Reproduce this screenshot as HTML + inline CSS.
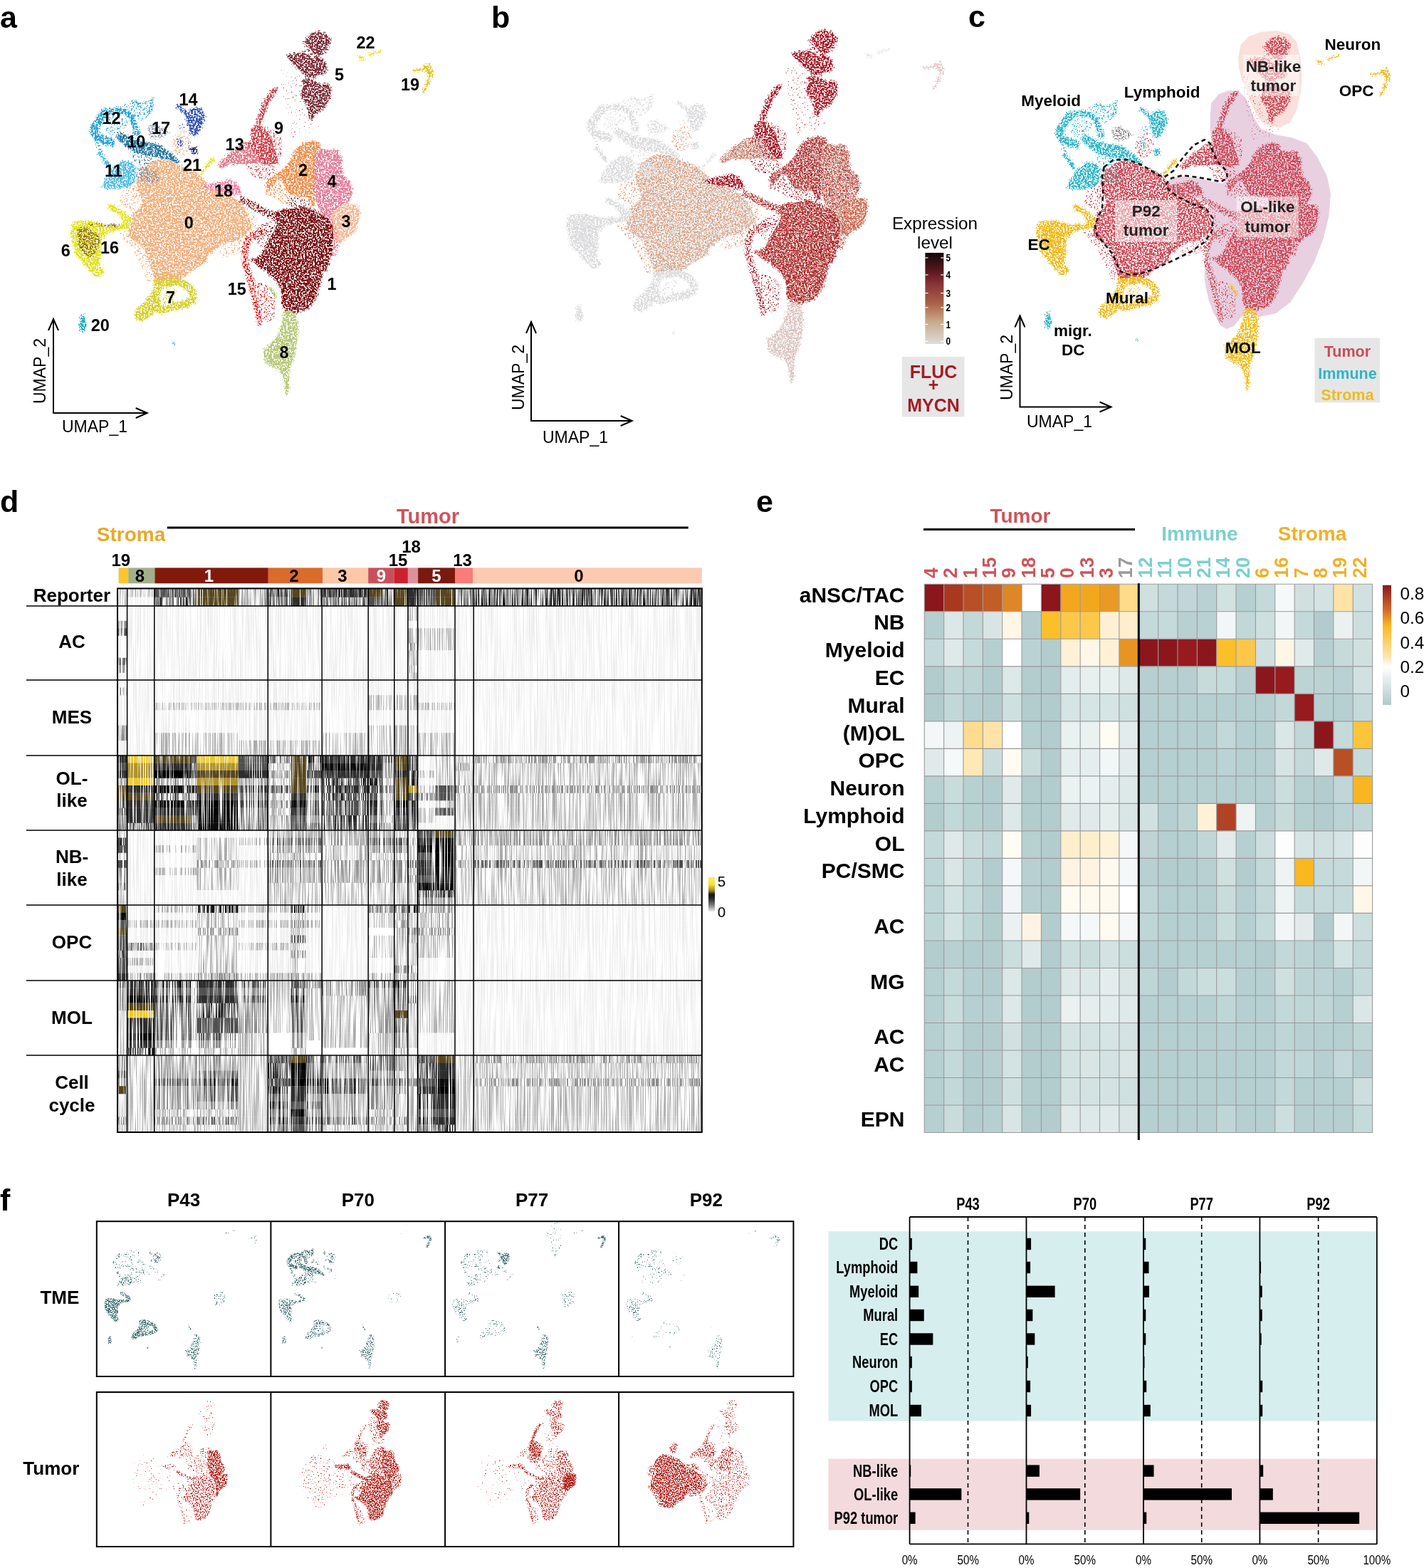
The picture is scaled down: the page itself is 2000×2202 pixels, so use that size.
<!DOCTYPE html><html><head><meta charset="utf-8"><style>html,body{margin:0;padding:0;background:#fff}svg{display:block}</style></head><body><svg width="2000" height="2202" viewBox="0 0 2000 2202" font-family="Liberation Sans, Arial, sans-serif"><text x="0.0" y="39.0" font-size="43" font-weight="bold" fill="#000" text-anchor="start" >a</text><text x="690.0" y="39.0" font-size="43" font-weight="bold" fill="#000" text-anchor="start" >b</text><text x="1360.0" y="38.0" font-size="43" font-weight="bold" fill="#000" text-anchor="start" >c</text><text x="0.0" y="719.0" font-size="43" font-weight="bold" fill="#000" text-anchor="start" >d</text><text x="1062.0" y="719.0" font-size="43" font-weight="bold" fill="#000" text-anchor="start" >e</text><text x="0.0" y="1700.0" font-size="43" font-weight="bold" fill="#000" text-anchor="start" >f</text><rect x="1298.30" y="820.30" width="27.36" height="38.51" fill="#8b171c" /><rect x="1325.66" y="820.30" width="27.36" height="38.51" fill="#a9381f" /><rect x="1353.02" y="820.30" width="27.36" height="38.51" fill="#b84f25" /><rect x="1380.38" y="820.30" width="27.36" height="38.51" fill="#c25d27" /><rect x="1407.74" y="820.30" width="27.36" height="38.51" fill="#de8726" /><rect x="1435.10" y="820.30" width="27.36" height="38.51" fill="#ffffff" /><rect x="1462.46" y="820.30" width="27.36" height="38.51" fill="#8b171c" /><rect x="1489.82" y="820.30" width="27.36" height="38.51" fill="#f3a71f" /><rect x="1517.18" y="820.30" width="27.36" height="38.51" fill="#f3a71f" /><rect x="1544.54" y="820.30" width="27.36" height="38.51" fill="#e89a24" /><rect x="1571.90" y="820.30" width="27.36" height="38.51" fill="#fedb8a" /><rect x="1599.26" y="820.30" width="27.36" height="38.51" fill="#cfe0df" /><rect x="1626.62" y="820.30" width="27.36" height="38.51" fill="#c3d9da" /><rect x="1653.98" y="820.30" width="27.36" height="38.51" fill="#c0d6d7" /><rect x="1681.34" y="820.30" width="27.36" height="38.51" fill="#b9d1d2" /><rect x="1708.70" y="820.30" width="27.36" height="38.51" fill="#d1e2e1" /><rect x="1736.06" y="820.30" width="27.36" height="38.51" fill="#b6cfd0" /><rect x="1763.42" y="820.30" width="27.36" height="38.51" fill="#c3d9da" /><rect x="1790.78" y="820.30" width="27.36" height="38.51" fill="#f6f9fa" /><rect x="1818.14" y="820.30" width="27.36" height="38.51" fill="#cfe0df" /><rect x="1845.50" y="820.30" width="27.36" height="38.51" fill="#d3e3e3" /><rect x="1872.86" y="820.30" width="27.36" height="38.51" fill="#fee3a6" /><rect x="1900.22" y="820.30" width="27.36" height="38.51" fill="#d1e1e1" /><rect x="1298.30" y="858.81" width="27.36" height="38.51" fill="#b5cecf" /><rect x="1325.66" y="858.81" width="27.36" height="38.51" fill="#dce7e7" /><rect x="1353.02" y="858.81" width="27.36" height="38.51" fill="#c2d8d9" /><rect x="1380.38" y="858.81" width="27.36" height="38.51" fill="#d9e4e4" /><rect x="1407.74" y="858.81" width="27.36" height="38.51" fill="#fff6e6" /><rect x="1435.10" y="858.81" width="27.36" height="38.51" fill="#b5cdce" /><rect x="1462.46" y="858.81" width="27.36" height="38.51" fill="#fbbf2a" /><rect x="1489.82" y="858.81" width="27.36" height="38.51" fill="#fcc84a" /><rect x="1517.18" y="858.81" width="27.36" height="38.51" fill="#fcc84a" /><rect x="1544.54" y="858.81" width="27.36" height="38.51" fill="#fff0d4" /><rect x="1571.90" y="858.81" width="27.36" height="38.51" fill="#ffeecb" /><rect x="1599.26" y="858.81" width="27.36" height="38.51" fill="#c4dada" /><rect x="1626.62" y="858.81" width="27.36" height="38.51" fill="#c5dada" /><rect x="1653.98" y="858.81" width="27.36" height="38.51" fill="#b8d0d1" /><rect x="1681.34" y="858.81" width="27.36" height="38.51" fill="#b9d1d2" /><rect x="1708.70" y="858.81" width="27.36" height="38.51" fill="#f2f6f7" /><rect x="1736.06" y="858.81" width="27.36" height="38.51" fill="#c1d7d8" /><rect x="1763.42" y="858.81" width="27.36" height="38.51" fill="#cddfdf" /><rect x="1790.78" y="858.81" width="27.36" height="38.51" fill="#f2f6f7" /><rect x="1818.14" y="858.81" width="27.36" height="38.51" fill="#c4dada" /><rect x="1845.50" y="858.81" width="27.36" height="38.51" fill="#b2cbcc" /><rect x="1872.86" y="858.81" width="27.36" height="38.51" fill="#ebf1f1" /><rect x="1900.22" y="858.81" width="27.36" height="38.51" fill="#ccdede" /><rect x="1298.30" y="897.32" width="27.36" height="38.51" fill="#c3d9da" /><rect x="1325.66" y="897.32" width="27.36" height="38.51" fill="#dfe9e9" /><rect x="1353.02" y="897.32" width="27.36" height="38.51" fill="#c5dbdb" /><rect x="1380.38" y="897.32" width="27.36" height="38.51" fill="#b6cfd0" /><rect x="1407.74" y="897.32" width="27.36" height="38.51" fill="#ffffff" /><rect x="1435.10" y="897.32" width="27.36" height="38.51" fill="#bad2d3" /><rect x="1462.46" y="897.32" width="27.36" height="38.51" fill="#b3cccd" /><rect x="1489.82" y="897.32" width="27.36" height="38.51" fill="#fff1d8" /><rect x="1517.18" y="897.32" width="27.36" height="38.51" fill="#fff7e8" /><rect x="1544.54" y="897.32" width="27.36" height="38.51" fill="#fff0d6" /><rect x="1571.90" y="897.32" width="27.36" height="38.51" fill="#e89424" /><rect x="1599.26" y="897.32" width="27.36" height="38.51" fill="#8b171c" /><rect x="1626.62" y="897.32" width="27.36" height="38.51" fill="#8b171c" /><rect x="1653.98" y="897.32" width="27.36" height="38.51" fill="#971a1f" /><rect x="1681.34" y="897.32" width="27.36" height="38.51" fill="#8b171c" /><rect x="1708.70" y="897.32" width="27.36" height="38.51" fill="#fbbf2a" /><rect x="1736.06" y="897.32" width="27.36" height="38.51" fill="#fcc648" /><rect x="1763.42" y="897.32" width="27.36" height="38.51" fill="#cfe0df" /><rect x="1790.78" y="897.32" width="27.36" height="38.51" fill="#fff6e6" /><rect x="1818.14" y="897.32" width="27.36" height="38.51" fill="#e0eaea" /><rect x="1845.50" y="897.32" width="27.36" height="38.51" fill="#b6cfd0" /><rect x="1872.86" y="897.32" width="27.36" height="38.51" fill="#c6dada" /><rect x="1900.22" y="897.32" width="27.36" height="38.51" fill="#cfe0df" /><rect x="1298.30" y="935.83" width="27.36" height="38.51" fill="#b2cbcc" /><rect x="1325.66" y="935.83" width="27.36" height="38.51" fill="#c2d7d8" /><rect x="1353.02" y="935.83" width="27.36" height="38.51" fill="#bdd4d5" /><rect x="1380.38" y="935.83" width="27.36" height="38.51" fill="#b2cbcc" /><rect x="1407.74" y="935.83" width="27.36" height="38.51" fill="#dde8e8" /><rect x="1435.10" y="935.83" width="27.36" height="38.51" fill="#b3cccd" /><rect x="1462.46" y="935.83" width="27.36" height="38.51" fill="#b2cbcc" /><rect x="1489.82" y="935.83" width="27.36" height="38.51" fill="#e4eded" /><rect x="1517.18" y="935.83" width="27.36" height="38.51" fill="#e7efef" /><rect x="1544.54" y="935.83" width="27.36" height="38.51" fill="#e8efef" /><rect x="1571.90" y="935.83" width="27.36" height="38.51" fill="#dde8e8" /><rect x="1599.26" y="935.83" width="27.36" height="38.51" fill="#b7cfd0" /><rect x="1626.62" y="935.83" width="27.36" height="38.51" fill="#b7cfd0" /><rect x="1653.98" y="935.83" width="27.36" height="38.51" fill="#b7cfd0" /><rect x="1681.34" y="935.83" width="27.36" height="38.51" fill="#c7dbdb" /><rect x="1708.70" y="935.83" width="27.36" height="38.51" fill="#c5dada" /><rect x="1736.06" y="935.83" width="27.36" height="38.51" fill="#b7cfd0" /><rect x="1763.42" y="935.83" width="27.36" height="38.51" fill="#8b171c" /><rect x="1790.78" y="935.83" width="27.36" height="38.51" fill="#971a1f" /><rect x="1818.14" y="935.83" width="27.36" height="38.51" fill="#bdd4d5" /><rect x="1845.50" y="935.83" width="27.36" height="38.51" fill="#bbd2d3" /><rect x="1872.86" y="935.83" width="27.36" height="38.51" fill="#b9d1d2" /><rect x="1900.22" y="935.83" width="27.36" height="38.51" fill="#d1e1e1" /><rect x="1298.30" y="974.34" width="27.36" height="38.51" fill="#b2cbcc" /><rect x="1325.66" y="974.34" width="27.36" height="38.51" fill="#c2d7d8" /><rect x="1353.02" y="974.34" width="27.36" height="38.51" fill="#b6cfd0" /><rect x="1380.38" y="974.34" width="27.36" height="38.51" fill="#b2cbcc" /><rect x="1407.74" y="974.34" width="27.36" height="38.51" fill="#cfe0e0" /><rect x="1435.10" y="974.34" width="27.36" height="38.51" fill="#b3cccd" /><rect x="1462.46" y="974.34" width="27.36" height="38.51" fill="#b2cbcc" /><rect x="1489.82" y="974.34" width="27.36" height="38.51" fill="#d5e4e4" /><rect x="1517.18" y="974.34" width="27.36" height="38.51" fill="#d5e4e4" /><rect x="1544.54" y="974.34" width="27.36" height="38.51" fill="#d5e4e4" /><rect x="1571.90" y="974.34" width="27.36" height="38.51" fill="#cfe0e0" /><rect x="1599.26" y="974.34" width="27.36" height="38.51" fill="#b6cfd0" /><rect x="1626.62" y="974.34" width="27.36" height="38.51" fill="#b6cfd0" /><rect x="1653.98" y="974.34" width="27.36" height="38.51" fill="#b6cfd0" /><rect x="1681.34" y="974.34" width="27.36" height="38.51" fill="#b6cfd0" /><rect x="1708.70" y="974.34" width="27.36" height="38.51" fill="#b6cfd0" /><rect x="1736.06" y="974.34" width="27.36" height="38.51" fill="#b6cfd0" /><rect x="1763.42" y="974.34" width="27.36" height="38.51" fill="#b6cfd0" /><rect x="1790.78" y="974.34" width="27.36" height="38.51" fill="#c3d8d9" /><rect x="1818.14" y="974.34" width="27.36" height="38.51" fill="#971a1f" /><rect x="1845.50" y="974.34" width="27.36" height="38.51" fill="#b6cfd0" /><rect x="1872.86" y="974.34" width="27.36" height="38.51" fill="#b6cfd0" /><rect x="1900.22" y="974.34" width="27.36" height="38.51" fill="#c5dada" /><rect x="1298.30" y="1012.85" width="27.36" height="38.51" fill="#f3f7f7" /><rect x="1325.66" y="1012.85" width="27.36" height="38.51" fill="#edf3f3" /><rect x="1353.02" y="1012.85" width="27.36" height="38.51" fill="#fddc8d" /><rect x="1380.38" y="1012.85" width="27.36" height="38.51" fill="#fde3a8" /><rect x="1407.74" y="1012.85" width="27.36" height="38.51" fill="#ffffff" /><rect x="1435.10" y="1012.85" width="27.36" height="38.51" fill="#b6cfd0" /><rect x="1462.46" y="1012.85" width="27.36" height="38.51" fill="#b3cccd" /><rect x="1489.82" y="1012.85" width="27.36" height="38.51" fill="#e9f1f1" /><rect x="1517.18" y="1012.85" width="27.36" height="38.51" fill="#eaf1f1" /><rect x="1544.54" y="1012.85" width="27.36" height="38.51" fill="#fffcf3" /><rect x="1571.90" y="1012.85" width="27.36" height="38.51" fill="#e3ecec" /><rect x="1599.26" y="1012.85" width="27.36" height="38.51" fill="#b6cfd0" /><rect x="1626.62" y="1012.85" width="27.36" height="38.51" fill="#b6cfd0" /><rect x="1653.98" y="1012.85" width="27.36" height="38.51" fill="#b6cfd0" /><rect x="1681.34" y="1012.85" width="27.36" height="38.51" fill="#b6cfd0" /><rect x="1708.70" y="1012.85" width="27.36" height="38.51" fill="#c2d8d9" /><rect x="1736.06" y="1012.85" width="27.36" height="38.51" fill="#b6cfd0" /><rect x="1763.42" y="1012.85" width="27.36" height="38.51" fill="#b6cfd0" /><rect x="1790.78" y="1012.85" width="27.36" height="38.51" fill="#dbe6e6" /><rect x="1818.14" y="1012.85" width="27.36" height="38.51" fill="#c0d6d7" /><rect x="1845.50" y="1012.85" width="27.36" height="38.51" fill="#8b171c" /><rect x="1872.86" y="1012.85" width="27.36" height="38.51" fill="#c5dada" /><rect x="1900.22" y="1012.85" width="27.36" height="38.51" fill="#fbc53a" /><rect x="1298.30" y="1051.36" width="27.36" height="38.51" fill="#e0eaea" /><rect x="1325.66" y="1051.36" width="27.36" height="38.51" fill="#f6f9f9" /><rect x="1353.02" y="1051.36" width="27.36" height="38.51" fill="#fee9b6" /><rect x="1380.38" y="1051.36" width="27.36" height="38.51" fill="#cadcdc" /><rect x="1407.74" y="1051.36" width="27.36" height="38.51" fill="#fffbf2" /><rect x="1435.10" y="1051.36" width="27.36" height="38.51" fill="#c8dcdc" /><rect x="1462.46" y="1051.36" width="27.36" height="38.51" fill="#b3cccd" /><rect x="1489.82" y="1051.36" width="27.36" height="38.51" fill="#e5eeee" /><rect x="1517.18" y="1051.36" width="27.36" height="38.51" fill="#e5eeee" /><rect x="1544.54" y="1051.36" width="27.36" height="38.51" fill="#f1f6f6" /><rect x="1571.90" y="1051.36" width="27.36" height="38.51" fill="#e3ecec" /><rect x="1599.26" y="1051.36" width="27.36" height="38.51" fill="#b6cfd0" /><rect x="1626.62" y="1051.36" width="27.36" height="38.51" fill="#b6cfd0" /><rect x="1653.98" y="1051.36" width="27.36" height="38.51" fill="#b6cfd0" /><rect x="1681.34" y="1051.36" width="27.36" height="38.51" fill="#b6cfd0" /><rect x="1708.70" y="1051.36" width="27.36" height="38.51" fill="#bbd3d4" /><rect x="1736.06" y="1051.36" width="27.36" height="38.51" fill="#b6cfd0" /><rect x="1763.42" y="1051.36" width="27.36" height="38.51" fill="#b6cfd0" /><rect x="1790.78" y="1051.36" width="27.36" height="38.51" fill="#d6e4e4" /><rect x="1818.14" y="1051.36" width="27.36" height="38.51" fill="#c2d8d9" /><rect x="1845.50" y="1051.36" width="27.36" height="38.51" fill="#dfe9e9" /><rect x="1872.86" y="1051.36" width="27.36" height="38.51" fill="#b94f25" /><rect x="1900.22" y="1051.36" width="27.36" height="38.51" fill="#c5dada" /><rect x="1298.30" y="1089.87" width="27.36" height="38.51" fill="#b7d0d0" /><rect x="1325.66" y="1089.87" width="27.36" height="38.51" fill="#c9dcdc" /><rect x="1353.02" y="1089.87" width="27.36" height="38.51" fill="#b7d0d0" /><rect x="1380.38" y="1089.87" width="27.36" height="38.51" fill="#b3cccd" /><rect x="1407.74" y="1089.87" width="27.36" height="38.51" fill="#e1eaea" /><rect x="1435.10" y="1089.87" width="27.36" height="38.51" fill="#b3cccd" /><rect x="1462.46" y="1089.87" width="27.36" height="38.51" fill="#b3cccd" /><rect x="1489.82" y="1089.87" width="27.36" height="38.51" fill="#eaf2f2" /><rect x="1517.18" y="1089.87" width="27.36" height="38.51" fill="#ebf2f2" /><rect x="1544.54" y="1089.87" width="27.36" height="38.51" fill="#e5eeee" /><rect x="1571.90" y="1089.87" width="27.36" height="38.51" fill="#dde8e8" /><rect x="1599.26" y="1089.87" width="27.36" height="38.51" fill="#b6cfd0" /><rect x="1626.62" y="1089.87" width="27.36" height="38.51" fill="#b6cfd0" /><rect x="1653.98" y="1089.87" width="27.36" height="38.51" fill="#b6cfd0" /><rect x="1681.34" y="1089.87" width="27.36" height="38.51" fill="#b6cfd0" /><rect x="1708.70" y="1089.87" width="27.36" height="38.51" fill="#b6cfd0" /><rect x="1736.06" y="1089.87" width="27.36" height="38.51" fill="#b6cfd0" /><rect x="1763.42" y="1089.87" width="27.36" height="38.51" fill="#b6cfd0" /><rect x="1790.78" y="1089.87" width="27.36" height="38.51" fill="#cadede" /><rect x="1818.14" y="1089.87" width="27.36" height="38.51" fill="#b6cfd0" /><rect x="1845.50" y="1089.87" width="27.36" height="38.51" fill="#b3cccd" /><rect x="1872.86" y="1089.87" width="27.36" height="38.51" fill="#c0d6d7" /><rect x="1900.22" y="1089.87" width="27.36" height="38.51" fill="#f9b620" /><rect x="1298.30" y="1128.38" width="27.36" height="38.51" fill="#b3cccd" /><rect x="1325.66" y="1128.38" width="27.36" height="38.51" fill="#c3d8d8" /><rect x="1353.02" y="1128.38" width="27.36" height="38.51" fill="#b7d0d0" /><rect x="1380.38" y="1128.38" width="27.36" height="38.51" fill="#b3cccd" /><rect x="1407.74" y="1128.38" width="27.36" height="38.51" fill="#dde8e8" /><rect x="1435.10" y="1128.38" width="27.36" height="38.51" fill="#b3cccd" /><rect x="1462.46" y="1128.38" width="27.36" height="38.51" fill="#b3cccd" /><rect x="1489.82" y="1128.38" width="27.36" height="38.51" fill="#e0eaea" /><rect x="1517.18" y="1128.38" width="27.36" height="38.51" fill="#e1eaea" /><rect x="1544.54" y="1128.38" width="27.36" height="38.51" fill="#e5eded" /><rect x="1571.90" y="1128.38" width="27.36" height="38.51" fill="#d9e5e5" /><rect x="1599.26" y="1128.38" width="27.36" height="38.51" fill="#d1e1e1" /><rect x="1626.62" y="1128.38" width="27.36" height="38.51" fill="#b6cfd0" /><rect x="1653.98" y="1128.38" width="27.36" height="38.51" fill="#bdd4d5" /><rect x="1681.34" y="1128.38" width="27.36" height="38.51" fill="#fff1d8" /><rect x="1708.70" y="1128.38" width="27.36" height="38.51" fill="#b04324" /><rect x="1736.06" y="1128.38" width="27.36" height="38.51" fill="#eef3f4" /><rect x="1763.42" y="1128.38" width="27.36" height="38.51" fill="#b6cfd0" /><rect x="1790.78" y="1128.38" width="27.36" height="38.51" fill="#c8dbdb" /><rect x="1818.14" y="1128.38" width="27.36" height="38.51" fill="#b6cfd0" /><rect x="1845.50" y="1128.38" width="27.36" height="38.51" fill="#b3cccd" /><rect x="1872.86" y="1128.38" width="27.36" height="38.51" fill="#bbd3d4" /><rect x="1900.22" y="1128.38" width="27.36" height="38.51" fill="#c0d6d7" /><rect x="1298.30" y="1166.89" width="27.36" height="38.51" fill="#c4dada" /><rect x="1325.66" y="1166.89" width="27.36" height="38.51" fill="#dfe9e9" /><rect x="1353.02" y="1166.89" width="27.36" height="38.51" fill="#c9dddd" /><rect x="1380.38" y="1166.89" width="27.36" height="38.51" fill="#c1d7d8" /><rect x="1407.74" y="1166.89" width="27.36" height="38.51" fill="#fffcf4" /><rect x="1435.10" y="1166.89" width="27.36" height="38.51" fill="#b7d0d0" /><rect x="1462.46" y="1166.89" width="27.36" height="38.51" fill="#b3cccd" /><rect x="1489.82" y="1166.89" width="27.36" height="38.51" fill="#ffeecb" /><rect x="1517.18" y="1166.89" width="27.36" height="38.51" fill="#ffeecb" /><rect x="1544.54" y="1166.89" width="27.36" height="38.51" fill="#fff2d8" /><rect x="1571.90" y="1166.89" width="27.36" height="38.51" fill="#f4f8f8" /><rect x="1599.26" y="1166.89" width="27.36" height="38.51" fill="#bed4d5" /><rect x="1626.62" y="1166.89" width="27.36" height="38.51" fill="#b6cfd0" /><rect x="1653.98" y="1166.89" width="27.36" height="38.51" fill="#b6cfd0" /><rect x="1681.34" y="1166.89" width="27.36" height="38.51" fill="#c0d6d7" /><rect x="1708.70" y="1166.89" width="27.36" height="38.51" fill="#e2ebeb" /><rect x="1736.06" y="1166.89" width="27.36" height="38.51" fill="#b6cfd0" /><rect x="1763.42" y="1166.89" width="27.36" height="38.51" fill="#ccdede" /><rect x="1790.78" y="1166.89" width="27.36" height="38.51" fill="#fdfdfd" /><rect x="1818.14" y="1166.89" width="27.36" height="38.51" fill="#d5e4e4" /><rect x="1845.50" y="1166.89" width="27.36" height="38.51" fill="#d1e1e1" /><rect x="1872.86" y="1166.89" width="27.36" height="38.51" fill="#d5e4e4" /><rect x="1900.22" y="1166.89" width="27.36" height="38.51" fill="#fdfdfd" /><rect x="1298.30" y="1205.40" width="27.36" height="38.51" fill="#bfd6d7" /><rect x="1325.66" y="1205.40" width="27.36" height="38.51" fill="#dae6e6" /><rect x="1353.02" y="1205.40" width="27.36" height="38.51" fill="#c2d8d9" /><rect x="1380.38" y="1205.40" width="27.36" height="38.51" fill="#b3cccd" /><rect x="1407.74" y="1205.40" width="27.36" height="38.51" fill="#f5f8f9" /><rect x="1435.10" y="1205.40" width="27.36" height="38.51" fill="#b8d0d1" /><rect x="1462.46" y="1205.40" width="27.36" height="38.51" fill="#b3cccd" /><rect x="1489.82" y="1205.40" width="27.36" height="38.51" fill="#fff4e3" /><rect x="1517.18" y="1205.40" width="27.36" height="38.51" fill="#fff4e3" /><rect x="1544.54" y="1205.40" width="27.36" height="38.51" fill="#fffaf0" /><rect x="1571.90" y="1205.40" width="27.36" height="38.51" fill="#f5f8f9" /><rect x="1599.26" y="1205.40" width="27.36" height="38.51" fill="#b8d0d1" /><rect x="1626.62" y="1205.40" width="27.36" height="38.51" fill="#b3cccd" /><rect x="1653.98" y="1205.40" width="27.36" height="38.51" fill="#b3cccd" /><rect x="1681.34" y="1205.40" width="27.36" height="38.51" fill="#b8d0d1" /><rect x="1708.70" y="1205.40" width="27.36" height="38.51" fill="#cfe0df" /><rect x="1736.06" y="1205.40" width="27.36" height="38.51" fill="#b3cccd" /><rect x="1763.42" y="1205.40" width="27.36" height="38.51" fill="#c2d8d9" /><rect x="1790.78" y="1205.40" width="27.36" height="38.51" fill="#eef3f3" /><rect x="1818.14" y="1205.40" width="27.36" height="38.51" fill="#f9b720" /><rect x="1845.50" y="1205.40" width="27.36" height="38.51" fill="#c5dada" /><rect x="1872.86" y="1205.40" width="27.36" height="38.51" fill="#c5dada" /><rect x="1900.22" y="1205.40" width="27.36" height="38.51" fill="#f2f6f7" /><rect x="1298.30" y="1243.91" width="27.36" height="38.51" fill="#bfd6d7" /><rect x="1325.66" y="1243.91" width="27.36" height="38.51" fill="#d3e3e3" /><rect x="1353.02" y="1243.91" width="27.36" height="38.51" fill="#c2d8d9" /><rect x="1380.38" y="1243.91" width="27.36" height="38.51" fill="#b3cccd" /><rect x="1407.74" y="1243.91" width="27.36" height="38.51" fill="#f1f5f6" /><rect x="1435.10" y="1243.91" width="27.36" height="38.51" fill="#b8d0d1" /><rect x="1462.46" y="1243.91" width="27.36" height="38.51" fill="#b3cccd" /><rect x="1489.82" y="1243.91" width="27.36" height="38.51" fill="#fffbf0" /><rect x="1517.18" y="1243.91" width="27.36" height="38.51" fill="#fffaef" /><rect x="1544.54" y="1243.91" width="27.36" height="38.51" fill="#fffaef" /><rect x="1571.90" y="1243.91" width="27.36" height="38.51" fill="#ffffff" /><rect x="1599.26" y="1243.91" width="27.36" height="38.51" fill="#bfd6d7" /><rect x="1626.62" y="1243.91" width="27.36" height="38.51" fill="#b6cfd0" /><rect x="1653.98" y="1243.91" width="27.36" height="38.51" fill="#b6cfd0" /><rect x="1681.34" y="1243.91" width="27.36" height="38.51" fill="#b6cfd0" /><rect x="1708.70" y="1243.91" width="27.36" height="38.51" fill="#c9dcdc" /><rect x="1736.06" y="1243.91" width="27.36" height="38.51" fill="#b6cfd0" /><rect x="1763.42" y="1243.91" width="27.36" height="38.51" fill="#c2d8d9" /><rect x="1790.78" y="1243.91" width="27.36" height="38.51" fill="#eef3f3" /><rect x="1818.14" y="1243.91" width="27.36" height="38.51" fill="#c5dada" /><rect x="1845.50" y="1243.91" width="27.36" height="38.51" fill="#c5dada" /><rect x="1872.86" y="1243.91" width="27.36" height="38.51" fill="#c5dada" /><rect x="1900.22" y="1243.91" width="27.36" height="38.51" fill="#fff7e8" /><rect x="1298.30" y="1282.42" width="27.36" height="38.51" fill="#bfd6d7" /><rect x="1325.66" y="1282.42" width="27.36" height="38.51" fill="#d3e3e3" /><rect x="1353.02" y="1282.42" width="27.36" height="38.51" fill="#bfd6d7" /><rect x="1380.38" y="1282.42" width="27.36" height="38.51" fill="#b3cccd" /><rect x="1407.74" y="1282.42" width="27.36" height="38.51" fill="#ebf1f1" /><rect x="1435.10" y="1282.42" width="27.36" height="38.51" fill="#fff4e3" /><rect x="1462.46" y="1282.42" width="27.36" height="38.51" fill="#b3cccd" /><rect x="1489.82" y="1282.42" width="27.36" height="38.51" fill="#f5f8f9" /><rect x="1517.18" y="1282.42" width="27.36" height="38.51" fill="#f5f8f9" /><rect x="1544.54" y="1282.42" width="27.36" height="38.51" fill="#fffbf0" /><rect x="1571.90" y="1282.42" width="27.36" height="38.51" fill="#f5f8f9" /><rect x="1599.26" y="1282.42" width="27.36" height="38.51" fill="#bfd6d7" /><rect x="1626.62" y="1282.42" width="27.36" height="38.51" fill="#b6cfd0" /><rect x="1653.98" y="1282.42" width="27.36" height="38.51" fill="#b6cfd0" /><rect x="1681.34" y="1282.42" width="27.36" height="38.51" fill="#b6cfd0" /><rect x="1708.70" y="1282.42" width="27.36" height="38.51" fill="#c9dcdc" /><rect x="1736.06" y="1282.42" width="27.36" height="38.51" fill="#b6cfd0" /><rect x="1763.42" y="1282.42" width="27.36" height="38.51" fill="#c5dada" /><rect x="1790.78" y="1282.42" width="27.36" height="38.51" fill="#f2f6f7" /><rect x="1818.14" y="1282.42" width="27.36" height="38.51" fill="#e2eaeb" /><rect x="1845.50" y="1282.42" width="27.36" height="38.51" fill="#b3cccd" /><rect x="1872.86" y="1282.42" width="27.36" height="38.51" fill="#f2f6f7" /><rect x="1900.22" y="1282.42" width="27.36" height="38.51" fill="#ccdede" /><rect x="1298.30" y="1320.93" width="27.36" height="38.51" fill="#b3cccd" /><rect x="1325.66" y="1320.93" width="27.36" height="38.51" fill="#b8d0d1" /><rect x="1353.02" y="1320.93" width="27.36" height="38.51" fill="#b3cccd" /><rect x="1380.38" y="1320.93" width="27.36" height="38.51" fill="#b3cccd" /><rect x="1407.74" y="1320.93" width="27.36" height="38.51" fill="#cadede" /><rect x="1435.10" y="1320.93" width="27.36" height="38.51" fill="#dfe9e9" /><rect x="1462.46" y="1320.93" width="27.36" height="38.51" fill="#b3cccd" /><rect x="1489.82" y="1320.93" width="27.36" height="38.51" fill="#ccdfdf" /><rect x="1517.18" y="1320.93" width="27.36" height="38.51" fill="#c9dcdc" /><rect x="1544.54" y="1320.93" width="27.36" height="38.51" fill="#d3e3e3" /><rect x="1571.90" y="1320.93" width="27.36" height="38.51" fill="#cadede" /><rect x="1599.26" y="1320.93" width="27.36" height="38.51" fill="#b6cfd0" /><rect x="1626.62" y="1320.93" width="27.36" height="38.51" fill="#b6cfd0" /><rect x="1653.98" y="1320.93" width="27.36" height="38.51" fill="#b6cfd0" /><rect x="1681.34" y="1320.93" width="27.36" height="38.51" fill="#b6cfd0" /><rect x="1708.70" y="1320.93" width="27.36" height="38.51" fill="#b6cfd0" /><rect x="1736.06" y="1320.93" width="27.36" height="38.51" fill="#b6cfd0" /><rect x="1763.42" y="1320.93" width="27.36" height="38.51" fill="#b3cccd" /><rect x="1790.78" y="1320.93" width="27.36" height="38.51" fill="#c2d8d9" /><rect x="1818.14" y="1320.93" width="27.36" height="38.51" fill="#bdd4d5" /><rect x="1845.50" y="1320.93" width="27.36" height="38.51" fill="#b6cfd0" /><rect x="1872.86" y="1320.93" width="27.36" height="38.51" fill="#d3e3e3" /><rect x="1900.22" y="1320.93" width="27.36" height="38.51" fill="#c2d8d9" /><rect x="1298.30" y="1359.44" width="27.36" height="38.51" fill="#b6cfd0" /><rect x="1325.66" y="1359.44" width="27.36" height="38.51" fill="#c4d9da" /><rect x="1353.02" y="1359.44" width="27.36" height="38.51" fill="#b6cfd0" /><rect x="1380.38" y="1359.44" width="27.36" height="38.51" fill="#b3cccd" /><rect x="1407.74" y="1359.44" width="27.36" height="38.51" fill="#dce7e7" /><rect x="1435.10" y="1359.44" width="27.36" height="38.51" fill="#b3cccd" /><rect x="1462.46" y="1359.44" width="27.36" height="38.51" fill="#b3cccd" /><rect x="1489.82" y="1359.44" width="27.36" height="38.51" fill="#dce7e7" /><rect x="1517.18" y="1359.44" width="27.36" height="38.51" fill="#dce7e7" /><rect x="1544.54" y="1359.44" width="27.36" height="38.51" fill="#e4eded" /><rect x="1571.90" y="1359.44" width="27.36" height="38.51" fill="#d9e5e5" /><rect x="1599.26" y="1359.44" width="27.36" height="38.51" fill="#bfd6d7" /><rect x="1626.62" y="1359.44" width="27.36" height="38.51" fill="#b3cccd" /><rect x="1653.98" y="1359.44" width="27.36" height="38.51" fill="#c2d8d9" /><rect x="1681.34" y="1359.44" width="27.36" height="38.51" fill="#cadede" /><rect x="1708.70" y="1359.44" width="27.36" height="38.51" fill="#cadede" /><rect x="1736.06" y="1359.44" width="27.36" height="38.51" fill="#b6cfd0" /><rect x="1763.42" y="1359.44" width="27.36" height="38.51" fill="#b6cfd0" /><rect x="1790.78" y="1359.44" width="27.36" height="38.51" fill="#cfe0df" /><rect x="1818.14" y="1359.44" width="27.36" height="38.51" fill="#bdd4d5" /><rect x="1845.50" y="1359.44" width="27.36" height="38.51" fill="#bbd3d4" /><rect x="1872.86" y="1359.44" width="27.36" height="38.51" fill="#b6cfd0" /><rect x="1900.22" y="1359.44" width="27.36" height="38.51" fill="#c5dada" /><rect x="1298.30" y="1397.95" width="27.36" height="38.51" fill="#b6cfd0" /><rect x="1325.66" y="1397.95" width="27.36" height="38.51" fill="#c9dcdc" /><rect x="1353.02" y="1397.95" width="27.36" height="38.51" fill="#b6cfd0" /><rect x="1380.38" y="1397.95" width="27.36" height="38.51" fill="#b6cfd0" /><rect x="1407.74" y="1397.95" width="27.36" height="38.51" fill="#dde8e8" /><rect x="1435.10" y="1397.95" width="27.36" height="38.51" fill="#b3cccd" /><rect x="1462.46" y="1397.95" width="27.36" height="38.51" fill="#b3cccd" /><rect x="1489.82" y="1397.95" width="27.36" height="38.51" fill="#ebf1f1" /><rect x="1517.18" y="1397.95" width="27.36" height="38.51" fill="#e5eded" /><rect x="1544.54" y="1397.95" width="27.36" height="38.51" fill="#e3ecec" /><rect x="1571.90" y="1397.95" width="27.36" height="38.51" fill="#e0e9ea" /><rect x="1599.26" y="1397.95" width="27.36" height="38.51" fill="#b6cfd0" /><rect x="1626.62" y="1397.95" width="27.36" height="38.51" fill="#b6cfd0" /><rect x="1653.98" y="1397.95" width="27.36" height="38.51" fill="#b6cfd0" /><rect x="1681.34" y="1397.95" width="27.36" height="38.51" fill="#b6cfd0" /><rect x="1708.70" y="1397.95" width="27.36" height="38.51" fill="#bfd6d7" /><rect x="1736.06" y="1397.95" width="27.36" height="38.51" fill="#b6cfd0" /><rect x="1763.42" y="1397.95" width="27.36" height="38.51" fill="#b6cfd0" /><rect x="1790.78" y="1397.95" width="27.36" height="38.51" fill="#c2d8d9" /><rect x="1818.14" y="1397.95" width="27.36" height="38.51" fill="#bfd6d7" /><rect x="1845.50" y="1397.95" width="27.36" height="38.51" fill="#bfd6d7" /><rect x="1872.86" y="1397.95" width="27.36" height="38.51" fill="#b6cfd0" /><rect x="1900.22" y="1397.95" width="27.36" height="38.51" fill="#dbe6e6" /><rect x="1298.30" y="1436.46" width="27.36" height="38.51" fill="#b6cfd0" /><rect x="1325.66" y="1436.46" width="27.36" height="38.51" fill="#c2d8d9" /><rect x="1353.02" y="1436.46" width="27.36" height="38.51" fill="#b3cccd" /><rect x="1380.38" y="1436.46" width="27.36" height="38.51" fill="#b3cccd" /><rect x="1407.74" y="1436.46" width="27.36" height="38.51" fill="#d1e1e1" /><rect x="1435.10" y="1436.46" width="27.36" height="38.51" fill="#b3cccd" /><rect x="1462.46" y="1436.46" width="27.36" height="38.51" fill="#b3cccd" /><rect x="1489.82" y="1436.46" width="27.36" height="38.51" fill="#d3e3e3" /><rect x="1517.18" y="1436.46" width="27.36" height="38.51" fill="#d3e3e3" /><rect x="1544.54" y="1436.46" width="27.36" height="38.51" fill="#d5e4e4" /><rect x="1571.90" y="1436.46" width="27.36" height="38.51" fill="#d3e3e3" /><rect x="1599.26" y="1436.46" width="27.36" height="38.51" fill="#b6cfd0" /><rect x="1626.62" y="1436.46" width="27.36" height="38.51" fill="#b6cfd0" /><rect x="1653.98" y="1436.46" width="27.36" height="38.51" fill="#b6cfd0" /><rect x="1681.34" y="1436.46" width="27.36" height="38.51" fill="#b6cfd0" /><rect x="1708.70" y="1436.46" width="27.36" height="38.51" fill="#b8d0d1" /><rect x="1736.06" y="1436.46" width="27.36" height="38.51" fill="#b6cfd0" /><rect x="1763.42" y="1436.46" width="27.36" height="38.51" fill="#b6cfd0" /><rect x="1790.78" y="1436.46" width="27.36" height="38.51" fill="#bfd6d7" /><rect x="1818.14" y="1436.46" width="27.36" height="38.51" fill="#b8d0d1" /><rect x="1845.50" y="1436.46" width="27.36" height="38.51" fill="#b6cfd0" /><rect x="1872.86" y="1436.46" width="27.36" height="38.51" fill="#b6cfd0" /><rect x="1900.22" y="1436.46" width="27.36" height="38.51" fill="#bfd6d7" /><rect x="1298.30" y="1474.97" width="27.36" height="38.51" fill="#b6cfd0" /><rect x="1325.66" y="1474.97" width="27.36" height="38.51" fill="#c4d9da" /><rect x="1353.02" y="1474.97" width="27.36" height="38.51" fill="#b3cccd" /><rect x="1380.38" y="1474.97" width="27.36" height="38.51" fill="#b6cfd0" /><rect x="1407.74" y="1474.97" width="27.36" height="38.51" fill="#d3e3e3" /><rect x="1435.10" y="1474.97" width="27.36" height="38.51" fill="#b3cccd" /><rect x="1462.46" y="1474.97" width="27.36" height="38.51" fill="#b3cccd" /><rect x="1489.82" y="1474.97" width="27.36" height="38.51" fill="#d3e3e3" /><rect x="1517.18" y="1474.97" width="27.36" height="38.51" fill="#d9e5e5" /><rect x="1544.54" y="1474.97" width="27.36" height="38.51" fill="#d3e3e3" /><rect x="1571.90" y="1474.97" width="27.36" height="38.51" fill="#d9e5e5" /><rect x="1599.26" y="1474.97" width="27.36" height="38.51" fill="#b6cfd0" /><rect x="1626.62" y="1474.97" width="27.36" height="38.51" fill="#b6cfd0" /><rect x="1653.98" y="1474.97" width="27.36" height="38.51" fill="#b6cfd0" /><rect x="1681.34" y="1474.97" width="27.36" height="38.51" fill="#b6cfd0" /><rect x="1708.70" y="1474.97" width="27.36" height="38.51" fill="#b6cfd0" /><rect x="1736.06" y="1474.97" width="27.36" height="38.51" fill="#b6cfd0" /><rect x="1763.42" y="1474.97" width="27.36" height="38.51" fill="#b6cfd0" /><rect x="1790.78" y="1474.97" width="27.36" height="38.51" fill="#c2d8d9" /><rect x="1818.14" y="1474.97" width="27.36" height="38.51" fill="#bfd6d7" /><rect x="1845.50" y="1474.97" width="27.36" height="38.51" fill="#b6cfd0" /><rect x="1872.86" y="1474.97" width="27.36" height="38.51" fill="#c2d8d9" /><rect x="1900.22" y="1474.97" width="27.36" height="38.51" fill="#b8d0d1" /><rect x="1298.30" y="1513.48" width="27.36" height="38.51" fill="#b6cfd0" /><rect x="1325.66" y="1513.48" width="27.36" height="38.51" fill="#c2d8d9" /><rect x="1353.02" y="1513.48" width="27.36" height="38.51" fill="#b3cccd" /><rect x="1380.38" y="1513.48" width="27.36" height="38.51" fill="#b3cccd" /><rect x="1407.74" y="1513.48" width="27.36" height="38.51" fill="#cfe0e0" /><rect x="1435.10" y="1513.48" width="27.36" height="38.51" fill="#b3cccd" /><rect x="1462.46" y="1513.48" width="27.36" height="38.51" fill="#b3cccd" /><rect x="1489.82" y="1513.48" width="27.36" height="38.51" fill="#d3e3e3" /><rect x="1517.18" y="1513.48" width="27.36" height="38.51" fill="#d3e3e3" /><rect x="1544.54" y="1513.48" width="27.36" height="38.51" fill="#d3e3e3" /><rect x="1571.90" y="1513.48" width="27.36" height="38.51" fill="#cfe0e0" /><rect x="1599.26" y="1513.48" width="27.36" height="38.51" fill="#b6cfd0" /><rect x="1626.62" y="1513.48" width="27.36" height="38.51" fill="#b6cfd0" /><rect x="1653.98" y="1513.48" width="27.36" height="38.51" fill="#b6cfd0" /><rect x="1681.34" y="1513.48" width="27.36" height="38.51" fill="#b6cfd0" /><rect x="1708.70" y="1513.48" width="27.36" height="38.51" fill="#b6cfd0" /><rect x="1736.06" y="1513.48" width="27.36" height="38.51" fill="#b6cfd0" /><rect x="1763.42" y="1513.48" width="27.36" height="38.51" fill="#b6cfd0" /><rect x="1790.78" y="1513.48" width="27.36" height="38.51" fill="#c2d8d9" /><rect x="1818.14" y="1513.48" width="27.36" height="38.51" fill="#b6cfd0" /><rect x="1845.50" y="1513.48" width="27.36" height="38.51" fill="#b6cfd0" /><rect x="1872.86" y="1513.48" width="27.36" height="38.51" fill="#b6cfd0" /><rect x="1900.22" y="1513.48" width="27.36" height="38.51" fill="#ccdede" /><rect x="1298.30" y="1551.99" width="27.36" height="38.51" fill="#b6cfd0" /><rect x="1325.66" y="1551.99" width="27.36" height="38.51" fill="#c9dcdc" /><rect x="1353.02" y="1551.99" width="27.36" height="38.51" fill="#b3cccd" /><rect x="1380.38" y="1551.99" width="27.36" height="38.51" fill="#b6cfd0" /><rect x="1407.74" y="1551.99" width="27.36" height="38.51" fill="#d9e5e5" /><rect x="1435.10" y="1551.99" width="27.36" height="38.51" fill="#b3cccd" /><rect x="1462.46" y="1551.99" width="27.36" height="38.51" fill="#b3cccd" /><rect x="1489.82" y="1551.99" width="27.36" height="38.51" fill="#e0e9ea" /><rect x="1517.18" y="1551.99" width="27.36" height="38.51" fill="#dde8e8" /><rect x="1544.54" y="1551.99" width="27.36" height="38.51" fill="#dfe9e9" /><rect x="1571.90" y="1551.99" width="27.36" height="38.51" fill="#d9e5e5" /><rect x="1599.26" y="1551.99" width="27.36" height="38.51" fill="#b6cfd0" /><rect x="1626.62" y="1551.99" width="27.36" height="38.51" fill="#b6cfd0" /><rect x="1653.98" y="1551.99" width="27.36" height="38.51" fill="#b6cfd0" /><rect x="1681.34" y="1551.99" width="27.36" height="38.51" fill="#b6cfd0" /><rect x="1708.70" y="1551.99" width="27.36" height="38.51" fill="#bfd6d7" /><rect x="1736.06" y="1551.99" width="27.36" height="38.51" fill="#b6cfd0" /><rect x="1763.42" y="1551.99" width="27.36" height="38.51" fill="#b6cfd0" /><rect x="1790.78" y="1551.99" width="27.36" height="38.51" fill="#ccdede" /><rect x="1818.14" y="1551.99" width="27.36" height="38.51" fill="#b6cfd0" /><rect x="1845.50" y="1551.99" width="27.36" height="38.51" fill="#b6cfd0" /><rect x="1872.86" y="1551.99" width="27.36" height="38.51" fill="#b6cfd0" /><rect x="1900.22" y="1551.99" width="27.36" height="38.51" fill="#c5dada" /><path d="M1298.30 820.30V1590.50M1325.66 820.30V1590.50M1353.02 820.30V1590.50M1380.38 820.30V1590.50M1407.74 820.30V1590.50M1435.10 820.30V1590.50M1462.46 820.30V1590.50M1489.82 820.30V1590.50M1517.18 820.30V1590.50M1544.54 820.30V1590.50M1571.90 820.30V1590.50M1599.26 820.30V1590.50M1626.62 820.30V1590.50M1653.98 820.30V1590.50M1681.34 820.30V1590.50M1708.70 820.30V1590.50M1736.06 820.30V1590.50M1763.42 820.30V1590.50M1790.78 820.30V1590.50M1818.14 820.30V1590.50M1845.50 820.30V1590.50M1872.86 820.30V1590.50M1900.22 820.30V1590.50M1927.58 820.30V1590.50M1298.30 820.30H1927.58M1298.30 858.81H1927.58M1298.30 897.32H1927.58M1298.30 935.83H1927.58M1298.30 974.34H1927.58M1298.30 1012.85H1927.58M1298.30 1051.36H1927.58M1298.30 1089.87H1927.58M1298.30 1128.38H1927.58M1298.30 1166.89H1927.58M1298.30 1205.40H1927.58M1298.30 1243.91H1927.58M1298.30 1282.42H1927.58M1298.30 1320.93H1927.58M1298.30 1359.44H1927.58M1298.30 1397.95H1927.58M1298.30 1436.46H1927.58M1298.30 1474.97H1927.58M1298.30 1513.48H1927.58M1298.30 1551.99H1927.58M1298.30 1590.50H1927.58" stroke="#9a9a9a" stroke-width="1.1" fill="none"/><line x1="1599.3" y1="819.3" x2="1599.3" y2="1601.0" stroke="#000" stroke-width="3" /><text x="1270.5" y="845.6" font-size="30" font-weight="bold" fill="#000" text-anchor="end" >aNSC/TAC</text><text x="1270.5" y="884.4" font-size="30" font-weight="bold" fill="#000" text-anchor="end" >NB</text><text x="1270.5" y="923.2" font-size="30" font-weight="bold" fill="#000" text-anchor="end" >Myeloid</text><text x="1270.5" y="961.9" font-size="30" font-weight="bold" fill="#000" text-anchor="end" >EC</text><text x="1270.5" y="1000.7" font-size="30" font-weight="bold" fill="#000" text-anchor="end" >Mural</text><text x="1270.5" y="1039.5" font-size="30" font-weight="bold" fill="#000" text-anchor="end" >(M)OL</text><text x="1270.5" y="1078.3" font-size="30" font-weight="bold" fill="#000" text-anchor="end" >OPC</text><text x="1270.5" y="1117.1" font-size="30" font-weight="bold" fill="#000" text-anchor="end" >Neuron</text><text x="1270.5" y="1155.8" font-size="30" font-weight="bold" fill="#000" text-anchor="end" >Lymphoid</text><text x="1270.5" y="1194.6" font-size="30" font-weight="bold" fill="#000" text-anchor="end" >OL</text><text x="1270.5" y="1233.4" font-size="30" font-weight="bold" fill="#000" text-anchor="end" >PC/SMC</text><text x="1270.5" y="1311.0" font-size="30" font-weight="bold" fill="#000" text-anchor="end" >AC</text><text x="1270.5" y="1388.5" font-size="30" font-weight="bold" fill="#000" text-anchor="end" >MG</text><text x="1270.5" y="1466.1" font-size="30" font-weight="bold" fill="#000" text-anchor="end" >AC</text><text x="1270.5" y="1504.9" font-size="30" font-weight="bold" fill="#000" text-anchor="end" >AC</text><text x="1270.5" y="1582.4" font-size="30" font-weight="bold" fill="#000" text-anchor="end" >EPN</text><text transform="translate(1316.8,812) rotate(-90) scale(0.93,1)" font-size="28.5" font-weight="bold" fill="#cc555a">4</text><text transform="translate(1344.1,812) rotate(-90) scale(0.93,1)" font-size="28.5" font-weight="bold" fill="#cc555a">2</text><text transform="translate(1371.5,812) rotate(-90) scale(0.93,1)" font-size="28.5" font-weight="bold" fill="#cc555a">1</text><text transform="translate(1398.9,812) rotate(-90) scale(0.93,1)" font-size="28.5" font-weight="bold" fill="#cc555a">15</text><text transform="translate(1426.2,812) rotate(-90) scale(0.93,1)" font-size="28.5" font-weight="bold" fill="#cc555a">9</text><text transform="translate(1453.6,812) rotate(-90) scale(0.93,1)" font-size="28.5" font-weight="bold" fill="#cc555a">18</text><text transform="translate(1480.9,812) rotate(-90) scale(0.93,1)" font-size="28.5" font-weight="bold" fill="#cc555a">5</text><text transform="translate(1508.3,812) rotate(-90) scale(0.93,1)" font-size="28.5" font-weight="bold" fill="#cc555a">0</text><text transform="translate(1535.7,812) rotate(-90) scale(0.93,1)" font-size="28.5" font-weight="bold" fill="#cc555a">13</text><text transform="translate(1563.0,812) rotate(-90) scale(0.93,1)" font-size="28.5" font-weight="bold" fill="#cc555a">3</text><text transform="translate(1590.4,812) rotate(-90) scale(0.93,1)" font-size="28.5" font-weight="bold" fill="#999999">17</text><text transform="translate(1617.7,812) rotate(-90) scale(0.93,1)" font-size="28.5" font-weight="bold" fill="#7ccfcf">12</text><text transform="translate(1645.1,812) rotate(-90) scale(0.93,1)" font-size="28.5" font-weight="bold" fill="#7ccfcf">11</text><text transform="translate(1672.5,812) rotate(-90) scale(0.93,1)" font-size="28.5" font-weight="bold" fill="#7ccfcf">10</text><text transform="translate(1699.8,812) rotate(-90) scale(0.93,1)" font-size="28.5" font-weight="bold" fill="#7ccfcf">21</text><text transform="translate(1727.2,812) rotate(-90) scale(0.93,1)" font-size="28.5" font-weight="bold" fill="#7ccfcf">14</text><text transform="translate(1754.5,812) rotate(-90) scale(0.93,1)" font-size="28.5" font-weight="bold" fill="#7ccfcf">20</text><text transform="translate(1781.9,812) rotate(-90) scale(0.93,1)" font-size="28.5" font-weight="bold" fill="#f0b02a">6</text><text transform="translate(1809.3,812) rotate(-90) scale(0.93,1)" font-size="28.5" font-weight="bold" fill="#f0b02a">16</text><text transform="translate(1836.6,812) rotate(-90) scale(0.93,1)" font-size="28.5" font-weight="bold" fill="#f0b02a">7</text><text transform="translate(1864.0,812) rotate(-90) scale(0.93,1)" font-size="28.5" font-weight="bold" fill="#f0b02a">8</text><text transform="translate(1891.3,812) rotate(-90) scale(0.93,1)" font-size="28.5" font-weight="bold" fill="#f0b02a">19</text><text transform="translate(1918.7,812) rotate(-90) scale(0.93,1)" font-size="28.5" font-weight="bold" fill="#f0b02a">22</text><text x="1433.0" y="734.0" font-size="28" font-weight="bold" fill="#cc555a" text-anchor="middle" >Tumor</text><line x1="1297.0" y1="743.5" x2="1594.0" y2="743.5" stroke="#000" stroke-width="3" /><text x="1685.0" y="758.5" font-size="28" font-weight="bold" fill="#7ccfcf" text-anchor="middle" >Immune</text><text x="1843.0" y="758.5" font-size="28" font-weight="bold" fill="#f0b02a" text-anchor="middle" >Stroma</text><defs><linearGradient id="cb" x1="0" y1="1" x2="0" y2="0"><stop offset="0" stop-color="#b0c9ca"/><stop offset="0.32" stop-color="#ffffff"/><stop offset="0.40" stop-color="#fde6b0"/><stop offset="0.66" stop-color="#fbb922"/><stop offset="0.8" stop-color="#d2662a"/><stop offset="1" stop-color="#8b161c"/></linearGradient></defs><rect x="1942.00" y="821.80" width="12.00" height="168.20" fill="url(#cb)" /><text x="1966.5" y="842.2" font-size="24.3" font-weight="normal" fill="#000" text-anchor="start" >0.8</text><text x="1966.5" y="876.4" font-size="24.3" font-weight="normal" fill="#000" text-anchor="start" >0.6</text><text x="1966.5" y="910.6" font-size="24.3" font-weight="normal" fill="#000" text-anchor="start" >0.4</text><text x="1966.5" y="944.8" font-size="24.3" font-weight="normal" fill="#000" text-anchor="start" >0.2</text><text x="1966.5" y="979.0" font-size="24.3" font-weight="normal" fill="#000" text-anchor="start" >0</text><rect x="1163.50" y="1729.20" width="770.30" height="266.40" fill="#d6eeee" /><rect x="1163.50" y="2048.60" width="770.30" height="100.10" fill="#f2dadd" /><rect x="1277.60" y="1738.80" width="3.28" height="16.40" fill="#000" /><rect x="1277.60" y="1771.80" width="10.82" height="16.40" fill="#000" /><rect x="1277.60" y="1805.60" width="12.62" height="16.40" fill="#000" /><rect x="1277.60" y="1838.80" width="20.16" height="16.40" fill="#000" /><rect x="1277.60" y="1872.30" width="32.78" height="16.40" fill="#000" /><rect x="1277.60" y="1904.80" width="3.28" height="16.40" fill="#000" /><rect x="1277.60" y="1938.80" width="3.28" height="16.40" fill="#000" /><rect x="1277.60" y="1972.80" width="16.39" height="16.40" fill="#000" /><rect x="1277.60" y="2057.40" width="1.64" height="16.40" fill="#000" /><rect x="1277.60" y="2090.20" width="72.77" height="16.40" fill="#000" /><rect x="1277.60" y="2123.60" width="8.03" height="16.40" fill="#000" /><line x1="1359.5" y1="1709.0" x2="1359.5" y2="2168.4" stroke="#000" stroke-width="1.6" stroke-dasharray="6,5"/><rect x="1441.50" y="1738.80" width="6.58" height="16.40" fill="#000" /><rect x="1441.50" y="1771.80" width="5.59" height="16.40" fill="#000" /><rect x="1441.50" y="1805.60" width="40.14" height="16.40" fill="#000" /><rect x="1441.50" y="1838.80" width="8.88" height="16.40" fill="#000" /><rect x="1441.50" y="1872.30" width="11.84" height="16.40" fill="#000" /><rect x="1441.50" y="1904.80" width="2.30" height="16.40" fill="#000" /><rect x="1441.50" y="1938.80" width="5.59" height="16.40" fill="#000" /><rect x="1441.50" y="1972.80" width="6.58" height="16.40" fill="#000" /><rect x="1441.50" y="2057.40" width="18.42" height="16.40" fill="#000" /><rect x="1441.50" y="2090.20" width="75.67" height="16.40" fill="#000" /><rect x="1441.50" y="2123.60" width="3.78" height="16.40" fill="#000" /><line x1="1523.8" y1="1709.0" x2="1523.8" y2="2168.4" stroke="#000" stroke-width="1.6" stroke-dasharray="6,5"/><rect x="1606.00" y="1738.80" width="3.27" height="16.40" fill="#000" /><rect x="1606.00" y="1771.80" width="7.52" height="16.40" fill="#000" /><rect x="1606.00" y="1805.60" width="8.01" height="16.40" fill="#000" /><rect x="1606.00" y="1838.80" width="3.27" height="16.40" fill="#000" /><rect x="1606.00" y="1872.30" width="3.27" height="16.40" fill="#000" /><rect x="1606.00" y="1904.80" width="1.47" height="16.40" fill="#000" /><rect x="1606.00" y="1938.80" width="4.25" height="16.40" fill="#000" /><rect x="1606.00" y="1972.80" width="9.80" height="16.40" fill="#000" /><rect x="1606.00" y="2057.40" width="14.54" height="16.40" fill="#000" /><rect x="1606.00" y="2090.20" width="124.02" height="16.40" fill="#000" /><rect x="1606.00" y="2123.60" width="4.25" height="16.40" fill="#000" /><line x1="1687.7" y1="1709.0" x2="1687.7" y2="2168.4" stroke="#000" stroke-width="1.6" stroke-dasharray="6,5"/><rect x="1769.40" y="1738.80" width="0.49" height="16.40" fill="#000" /><rect x="1769.40" y="1771.80" width="1.64" height="16.40" fill="#000" /><rect x="1769.40" y="1805.60" width="3.29" height="16.40" fill="#000" /><rect x="1769.40" y="1838.80" width="3.29" height="16.40" fill="#000" /><rect x="1769.40" y="1872.30" width="2.30" height="16.40" fill="#000" /><rect x="1769.40" y="1904.80" width="0.49" height="16.40" fill="#000" /><rect x="1769.40" y="1938.80" width="3.78" height="16.40" fill="#000" /><rect x="1769.40" y="1972.80" width="3.78" height="16.40" fill="#000" /><rect x="1769.40" y="2057.40" width="4.77" height="16.40" fill="#000" /><rect x="1769.40" y="2090.20" width="18.41" height="16.40" fill="#000" /><rect x="1769.40" y="2123.60" width="139.74" height="16.40" fill="#000" /><line x1="1851.6" y1="1709.0" x2="1851.6" y2="2168.4" stroke="#000" stroke-width="1.6" stroke-dasharray="6,5"/><line x1="1277.6" y1="1709.0" x2="1277.6" y2="2168.4" stroke="#000" stroke-width="1.8" /><line x1="1441.5" y1="1709.0" x2="1441.5" y2="2168.4" stroke="#000" stroke-width="1.8" /><line x1="1606.0" y1="1709.0" x2="1606.0" y2="2168.4" stroke="#000" stroke-width="1.8" /><line x1="1769.4" y1="1709.0" x2="1769.4" y2="2168.4" stroke="#000" stroke-width="1.8" /><line x1="1933.8" y1="1709.0" x2="1933.8" y2="2168.4" stroke="#000" stroke-width="1.8" /><line x1="1277.6" y1="1709.0" x2="1933.8" y2="1709.0" stroke="#000" stroke-width="1.8" /><line x1="1277.6" y1="2168.4" x2="1933.8" y2="2168.4" stroke="#000" stroke-width="1.8" /><text transform="translate(1261.2,1755.3) scale(0.78,1)" font-size="23.5" font-weight="bold" fill="#000" text-anchor="end">DC</text><text transform="translate(1261.2,1788.3) scale(0.78,1)" font-size="23.5" font-weight="bold" fill="#000" text-anchor="end">Lymphoid</text><text transform="translate(1261.2,1822.1) scale(0.78,1)" font-size="23.5" font-weight="bold" fill="#000" text-anchor="end">Myeloid</text><text transform="translate(1261.2,1855.3) scale(0.78,1)" font-size="23.5" font-weight="bold" fill="#000" text-anchor="end">Mural</text><text transform="translate(1261.2,1888.8) scale(0.78,1)" font-size="23.5" font-weight="bold" fill="#000" text-anchor="end">EC</text><text transform="translate(1261.2,1921.3) scale(0.78,1)" font-size="23.5" font-weight="bold" fill="#000" text-anchor="end">Neuron</text><text transform="translate(1261.2,1955.3) scale(0.78,1)" font-size="23.5" font-weight="bold" fill="#000" text-anchor="end">OPC</text><text transform="translate(1261.2,1989.3) scale(0.78,1)" font-size="23.5" font-weight="bold" fill="#000" text-anchor="end">MOL</text><text transform="translate(1261.2,2073.9) scale(0.78,1)" font-size="23.5" font-weight="bold" fill="#000" text-anchor="end">NB-like</text><text transform="translate(1261.2,2106.7) scale(0.78,1)" font-size="23.5" font-weight="bold" fill="#000" text-anchor="end">OL-like</text><text transform="translate(1261.2,2140.1) scale(0.78,1)" font-size="23.5" font-weight="bold" fill="#000" text-anchor="end">P92 tumor</text><text transform="translate(1359.5,1699.0) scale(0.78,1)" font-size="23.5" font-weight="bold" fill="#000" text-anchor="middle">P43</text><text transform="translate(1523.8,1699.0) scale(0.78,1)" font-size="23.5" font-weight="bold" fill="#000" text-anchor="middle">P70</text><text transform="translate(1687.7,1699.0) scale(0.78,1)" font-size="23.5" font-weight="bold" fill="#000" text-anchor="middle">P77</text><text transform="translate(1851.6,1699.0) scale(0.78,1)" font-size="23.5" font-weight="bold" fill="#000" text-anchor="middle">P92</text><text transform="translate(1277.6,2197.0) scale(0.8,1)" font-size="19" font-weight="normal" fill="#000" text-anchor="middle">0%</text><text transform="translate(1359.8,2197.0) scale(0.8,1)" font-size="19" font-weight="normal" fill="#000" text-anchor="middle">50%</text><text transform="translate(1441.5,2197.0) scale(0.8,1)" font-size="19" font-weight="normal" fill="#000" text-anchor="middle">0%</text><text transform="translate(1523.7,2197.0) scale(0.8,1)" font-size="19" font-weight="normal" fill="#000" text-anchor="middle">50%</text><text transform="translate(1606.0,2197.0) scale(0.8,1)" font-size="19" font-weight="normal" fill="#000" text-anchor="middle">0%</text><text transform="translate(1687.7,2197.0) scale(0.8,1)" font-size="19" font-weight="normal" fill="#000" text-anchor="middle">50%</text><text transform="translate(1769.4,2197.0) scale(0.8,1)" font-size="19" font-weight="normal" fill="#000" text-anchor="middle">0%</text><text transform="translate(1851.6,2197.0) scale(0.8,1)" font-size="19" font-weight="normal" fill="#000" text-anchor="middle">50%</text><text transform="translate(1933.8,2197.0) scale(0.8,1)" font-size="19" font-weight="normal" fill="#000" text-anchor="middle">100%</text><rect x="135.8" y="1715.2" width="978.6000000000001" height="217.79999999999995" fill="none" stroke="#000" stroke-width="2"/><line x1="380.4" y1="1715.2" x2="380.4" y2="1933.0" stroke="#000" stroke-width="2" /><line x1="625.1" y1="1715.2" x2="625.1" y2="1933.0" stroke="#000" stroke-width="2" /><line x1="869.1" y1="1715.2" x2="869.1" y2="1933.0" stroke="#000" stroke-width="2" /><rect x="135.8" y="1955" width="978.6000000000001" height="217" fill="none" stroke="#000" stroke-width="2"/><line x1="380.4" y1="1955.0" x2="380.4" y2="2172.0" stroke="#000" stroke-width="2" /><line x1="625.1" y1="1955.0" x2="625.1" y2="2172.0" stroke="#000" stroke-width="2" /><line x1="869.1" y1="1955.0" x2="869.1" y2="2172.0" stroke="#000" stroke-width="2" /><text x="258.1" y="1694.0" font-size="26" font-weight="bold" fill="#000" text-anchor="middle" >P43</text><text x="502.8" y="1694.0" font-size="26" font-weight="bold" fill="#000" text-anchor="middle" >P70</text><text x="747.1" y="1694.0" font-size="26" font-weight="bold" fill="#000" text-anchor="middle" >P77</text><text x="991.8" y="1694.0" font-size="26" font-weight="bold" fill="#000" text-anchor="middle" >P92</text><text x="111.3" y="1831.0" font-size="26" font-weight="bold" fill="#000" text-anchor="end" >TME</text><text x="111.3" y="2071.0" font-size="26" font-weight="bold" fill="#000" text-anchor="end" >Tumor</text><path d="M75 448V580H206.7" stroke="#000" stroke-width="2" fill="none"/><path d="M68 464L75 448L82 464M190.7 573L206.7 580L190.7 587" stroke="#000" stroke-width="2" fill="none"/><text transform="translate(64,521) rotate(-90)" font-size="23" fill="#000" text-anchor="middle">UMAP_2</text><text x="133.0" y="607.0" font-size="23" font-weight="normal" fill="#000" text-anchor="middle" >UMAP_1</text><path d="M746 452V591H887.7" stroke="#000" stroke-width="2" fill="none"/><path d="M739 468L746 452L753 468M871.7 584L887.7 591L871.7 598" stroke="#000" stroke-width="2" fill="none"/><text transform="translate(736,530) rotate(-90)" font-size="23" fill="#000" text-anchor="middle">UMAP_2</text><text x="808.0" y="622.0" font-size="23" font-weight="normal" fill="#000" text-anchor="middle" >UMAP_1</text><path d="M1432.5 443.5V571.5H1560.5" stroke="#000" stroke-width="2" fill="none"/><path d="M1425.5 459.5L1432.5 443.5L1439.5 459.5M1544.5 564.5L1560.5 571.5L1544.5 578.5" stroke="#000" stroke-width="2" fill="none"/><text transform="translate(1421.5,516) rotate(-90)" font-size="23" fill="#000" text-anchor="middle">UMAP_2</text><text x="1488.0" y="600.0" font-size="23" font-weight="normal" fill="#000" text-anchor="middle" >UMAP_1</text><defs><filter id="spd" filterUnits="userSpaceOnUse" x="-200" y="-200" width="1200" height="1200" color-interpolation-filters="sRGB"><feTurbulence type="fractalNoise" baseFrequency="0.45" numOctaves="2" seed="3" result="n"/><feColorMatrix in="n" type="matrix" values="0 0 0 0 0 0 0 0 0 0 0 0 0 0 0 12 0 0 0 -4.80" result="a"/><feComposite in="SourceGraphic" in2="a" operator="in"/></filter><filter id="spm" filterUnits="userSpaceOnUse" x="-200" y="-200" width="1200" height="1200" color-interpolation-filters="sRGB"><feTurbulence type="fractalNoise" baseFrequency="0.45" numOctaves="2" seed="5" result="n"/><feColorMatrix in="n" type="matrix" values="0 0 0 0 0 0 0 0 0 0 0 0 0 0 0 12 0 0 0 -5.76" result="a"/><feComposite in="SourceGraphic" in2="a" operator="in"/></filter><filter id="sps" filterUnits="userSpaceOnUse" x="-200" y="-200" width="1200" height="1200" color-interpolation-filters="sRGB"><feTurbulence type="fractalNoise" baseFrequency="0.45" numOctaves="2" seed="9" result="n"/><feColorMatrix in="n" type="matrix" values="0 0 0 0 0 0 0 0 0 0 0 0 0 0 0 12 0 0 0 -6.84" result="a"/><feComposite in="SourceGraphic" in2="a" operator="in"/></filter><filter id="spv" filterUnits="userSpaceOnUse" x="-200" y="-200" width="1200" height="1200" color-interpolation-filters="sRGB"><feTurbulence type="fractalNoise" baseFrequency="0.45" numOctaves="2" seed="13" result="n"/><feColorMatrix in="n" type="matrix" values="0 0 0 0 0 0 0 0 0 0 0 0 0 0 0 12 0 0 0 -8.40" result="a"/><feComposite in="SourceGraphic" in2="a" operator="in"/></filter><filter id="spn" filterUnits="userSpaceOnUse" x="-200" y="-200" width="1200" height="1200" color-interpolation-filters="sRGB"><feTurbulence type="fractalNoise" baseFrequency="0.45" numOctaves="2" seed="17" result="n"/><feColorMatrix in="n" type="matrix" values="0 0 0 0 0 0 0 0 0 0 0 0 0 0 0 12 0 0 0 -5.76" result="a"/><feComposite in="SourceGraphic" in2="a" operator="in"/></filter><filter id="spdb" filterUnits="userSpaceOnUse" x="-200" y="-200" width="1200" height="1200" color-interpolation-filters="sRGB"><feTurbulence type="fractalNoise" baseFrequency="0.45" numOctaves="2" seed="3" result="n"/><feColorMatrix in="n" type="matrix" values="0 0 0 0 0 0 0 0 0 0 0 0 0 0 0 12 0 0 0 -5.04" result="a"/><feComposite in="SourceGraphic" in2="a" operator="in"/></filter><filter id="spmb" filterUnits="userSpaceOnUse" x="-200" y="-200" width="1200" height="1200" color-interpolation-filters="sRGB"><feTurbulence type="fractalNoise" baseFrequency="0.45" numOctaves="2" seed="5" result="n"/><feColorMatrix in="n" type="matrix" values="0 0 0 0 0 0 0 0 0 0 0 0 0 0 0 12 0 0 0 -6.00" result="a"/><feComposite in="SourceGraphic" in2="a" operator="in"/></filter><filter id="spsb" filterUnits="userSpaceOnUse" x="-200" y="-200" width="1200" height="1200" color-interpolation-filters="sRGB"><feTurbulence type="fractalNoise" baseFrequency="0.45" numOctaves="2" seed="9" result="n"/><feColorMatrix in="n" type="matrix" values="0 0 0 0 0 0 0 0 0 0 0 0 0 0 0 12 0 0 0 -6.96" result="a"/><feComposite in="SourceGraphic" in2="a" operator="in"/></filter><filter id="spvb" filterUnits="userSpaceOnUse" x="-200" y="-200" width="1200" height="1200" color-interpolation-filters="sRGB"><feTurbulence type="fractalNoise" baseFrequency="0.45" numOctaves="2" seed="13" result="n"/><feColorMatrix in="n" type="matrix" values="0 0 0 0 0 0 0 0 0 0 0 0 0 0 0 12 0 0 0 -8.04" result="a"/><feComposite in="SourceGraphic" in2="a" operator="in"/></filter><filter id="spnb" filterUnits="userSpaceOnUse" x="-200" y="-200" width="1200" height="1200" color-interpolation-filters="sRGB"><feTurbulence type="fractalNoise" baseFrequency="0.45" numOctaves="2" seed="17" result="n"/><feColorMatrix in="n" type="matrix" values="0 0 0 0 0 0 0 0 0 0 0 0 0 0 0 12 0 0 0 -6.00" result="a"/><feComposite in="SourceGraphic" in2="a" operator="in"/></filter><filter id="spdc" filterUnits="userSpaceOnUse" x="-200" y="-200" width="1200" height="1200" color-interpolation-filters="sRGB"><feTurbulence type="fractalNoise" baseFrequency="0.45" numOctaves="2" seed="3" result="n"/><feColorMatrix in="n" type="matrix" values="0 0 0 0 0 0 0 0 0 0 0 0 0 0 0 12 0 0 0 -5.04" result="a"/><feComposite in="SourceGraphic" in2="a" operator="in"/></filter><filter id="spmc" filterUnits="userSpaceOnUse" x="-200" y="-200" width="1200" height="1200" color-interpolation-filters="sRGB"><feTurbulence type="fractalNoise" baseFrequency="0.45" numOctaves="2" seed="5" result="n"/><feColorMatrix in="n" type="matrix" values="0 0 0 0 0 0 0 0 0 0 0 0 0 0 0 12 0 0 0 -5.88" result="a"/><feComposite in="SourceGraphic" in2="a" operator="in"/></filter><filter id="spsc" filterUnits="userSpaceOnUse" x="-200" y="-200" width="1200" height="1200" color-interpolation-filters="sRGB"><feTurbulence type="fractalNoise" baseFrequency="0.45" numOctaves="2" seed="9" result="n"/><feColorMatrix in="n" type="matrix" values="0 0 0 0 0 0 0 0 0 0 0 0 0 0 0 12 0 0 0 -6.96" result="a"/><feComposite in="SourceGraphic" in2="a" operator="in"/></filter><filter id="spvc" filterUnits="userSpaceOnUse" x="-200" y="-200" width="1200" height="1200" color-interpolation-filters="sRGB"><feTurbulence type="fractalNoise" baseFrequency="0.45" numOctaves="2" seed="13" result="n"/><feColorMatrix in="n" type="matrix" values="0 0 0 0 0 0 0 0 0 0 0 0 0 0 0 12 0 0 0 -8.04" result="a"/><feComposite in="SourceGraphic" in2="a" operator="in"/></filter><filter id="spnc" filterUnits="userSpaceOnUse" x="-200" y="-200" width="1200" height="1200" color-interpolation-filters="sRGB"><feTurbulence type="fractalNoise" baseFrequency="0.45" numOctaves="2" seed="17" result="n"/><feColorMatrix in="n" type="matrix" values="0 0 0 0 0 0 0 0 0 0 0 0 0 0 0 12 0 0 0 -5.88" result="a"/><feComposite in="SourceGraphic" in2="a" operator="in"/></filter><path id="u12d" d="M174.7 160.4 180.8 165.2 184.2 172.8 188.9 188.9 191.3 190.5 194.2 190.0 195.6 188.3 195.8 185.7 191.4 170.5 187.1 160.6 177.6 153.2 164.4 151.3 152.6 153.2 150.7 152.1 148.6 151.9 147.1 152.2 145.2 153.3 136.9 162.9 128.9 174.3 126.6 185.3 127.4 188.5 132.9 195.9 134.5 197.1 144.0 201.8 153.8 205.1 155.9 205.4 158.4 204.5 160.0 203.1 160.9 201.1 160.9 199.0 159.9 196.6 157.8 194.9 147.8 191.6 140.6 188.0 137.9 184.4 138.8 179.1 145.6 169.4 153.1 160.9 164.3 159.0Z"/><path id="u12s" d="M196.8 142.7 187.2 139.0 185.6 138.8 183.8 139.7 182.9 141.6 170.1 149.8 164.0 149.1 153.1 150.9 150.1 149.7 146.9 149.9 143.7 151.8 135.1 161.6 126.7 173.9 124.4 186.0 124.9 188.3 125.9 190.2 131.2 197.3 133.2 198.9 134.4 206.6 137.8 216.8 139.0 218.2 140.7 219.0 142.5 218.8 144.4 217.5 145.1 215.8 145.1 214.4 141.6 203.1 153.1 207.2 156.0 207.6 158.2 207.1 160.3 205.9 162.1 203.8 163.0 201.7 163.2 199.5 162.7 197.3 160.5 194.1 158.1 192.7 148.6 189.5 142.0 186.2 140.2 183.8 140.9 180.0 147.4 170.8 150.7 167.0 149.0 182.4 155.5 191.2 166.5 186.8 179.6 175.9 177.9 165.7 179.0 166.6 182.1 173.6 186.3 188.5 187.3 190.5 189.6 192.3 192.1 192.8 194.8 192.2 197.0 190.3 198.0 188.0 197.9 185.2 193.5 169.7 190.5 162.8 197.0 170.4 204.7 166.0 208.8 161.9 210.8 162.1 212.8 161.1 213.7 159.6 216.0 150.5 216.7 146.4 217.1 137.9 215.5 135.6 212.6 135.0 210.5 136.4 209.6 138.8 199.2 143.1ZM184.8 141.0 186.4 140.4 190.3 141.8ZM211.4 138.1 213.2 136.6 214.5 136.8 215.2 137.5 215.6 138.7 215.2 143.3 212.3 137.6ZM212.2 159.1 211.5 160.2 210.2 160.6 211.2 159.5 213.5 154.2ZM186.6 160.0 191.4 170.5 195.8 185.7 195.6 188.3 193.9 190.2 191.0 190.4 188.7 188.5 184.2 172.8 180.8 165.2 174.7 160.4 169.8 159.7 166.5 158.4 153.1 160.9 145.6 169.4 138.8 179.1 137.9 184.4 140.6 188.0 147.8 191.6 157.3 194.7 159.1 195.8 160.4 197.5 161.0 200.1 160.3 202.6 158.9 204.2 156.5 205.3 154.3 205.2 144.0 201.8 141.2 200.5 139.6 190.2 138.9 188.9 137.5 187.7 134.6 187.6 132.6 189.2 132.1 191.4 132.7 195.7 127.1 188.0 126.6 185.3 128.9 174.3 137.2 162.4 144.9 153.7 146.6 152.4 149.7 151.9 152.6 153.2 164.4 151.3 175.1 152.7 178.8 153.9Z"/><path id="u12m" d="M198.2 149.9 199.3 150.2 200.3 149.8 200.8 149.0 200.7 147.9 195.7 143.9 186.5 140.4 185.4 140.5 184.7 141.2 184.5 142.4 185.3 143.4 194.1 146.7ZM208.0 157.9 208.3 159.5 209.6 160.5 211.3 160.3 212.3 158.9 214.5 149.9 215.6 139.0 215.2 137.5 214.1 136.6 212.4 136.8 211.3 138.1 210.2 149.3Z"/><path id="u10d" d="M165.4 186.8 164.3 193.4 169.7 199.9 185.0 210.8 193.8 216.3 215.6 220.1 226.5 222.8 237.5 223.9 247.3 228.9 252.8 228.3 245.1 219.6 227.6 205.4 215.6 201.0 204.7 199.9 193.8 197.7 182.8 193.4 173.0 187.3Z"/><path id="u10s" d="M165.1 184.6 163.9 185.1 163.2 186.2 162.1 193.2 162.5 194.6 168.3 201.6 185.5 213.7 182.8 213.0 188.3 226.1 197.0 232.7 210.2 234.9 221.1 228.3 216.3 222.5 226.3 225.0 236.8 226.1 246.9 231.0 253.2 230.5 254.7 229.3 255.0 228.3 254.5 227.0 246.6 218.0 228.6 203.4 216.0 198.8 205.0 197.7 194.4 195.6 183.8 191.4 173.8 185.3ZM182.8 193.4 193.8 197.7 204.7 199.9 215.6 201.0 227.6 205.4 245.1 219.6 252.8 228.3 247.3 228.9 237.5 223.9 226.5 222.8 215.6 220.1 204.7 218.5 192.8 215.7 185.0 210.8 169.7 199.9 164.3 193.4 165.4 186.8 173.0 187.3Z"/><path id="u17m" d="M208.0 178.1 210.2 186.8 212.3 193.4 221.1 195.5 237.5 186.8 232.0 181.3 218.9 173.7Z"/><path id="u17n" d="M192.7 237.0 191.6 248.0 199.2 255.6 215.6 257.8 224.4 252.3 218.9 240.3 204.7 233.8Z"/><path id="u11d" d="M150.0 233.2 151.8 234.3 153.6 234.0 154.9 232.3 154.6 230.2 142.3 213.4 140.6 212.5 138.8 212.9 137.6 214.6 137.9 216.6ZM143.5 263.3 149.0 264.9 161.0 264.4 173.0 263.3 182.8 261.1 188.3 255.6 190.5 245.8 191.6 234.9 182.8 227.2 173.0 226.1 157.7 237.0 151.2 248.0 144.6 256.7Z"/><path id="u14d" d="M260.9 162.2 260.4 162.8 261.5 170.4 264.8 175.9 267.0 184.6 271.3 191.2 277.9 187.9 283.3 178.1 285.5 171.5 287.7 162.8 284.4 154.0 275.7 149.7 269.1 152.9 264.2 158.5 262.1 155.5 251.9 147.6 250.3 147.2 249.0 147.8 248.1 149.5 248.7 151.3 258.6 159.0Z"/><path id="u14m" d="M248.4 195.5 249.5 204.3 254.9 205.4 258.2 199.9 253.8 194.4Z"/><path id="u14s" d="M258.2 162.3 259.4 170.9 262.7 176.7 264.9 185.4 269.6 192.6 270.7 193.3 271.9 193.3 279.2 189.6 285.4 178.9 287.7 172.0 289.9 163.1 286.2 152.7 275.6 147.5 268.0 151.1 264.4 154.9 253.0 145.7 250.6 145.0 248.2 145.7 246.8 146.9 246.1 148.5 246.0 150.3 246.6 152.1 257.0 160.6ZM248.7 151.3 248.1 149.7 248.6 148.2 250.0 147.3 251.7 147.5 262.1 155.5 264.2 158.5 269.1 152.9 275.7 149.7 284.4 154.0 287.7 162.8 285.5 171.5 283.3 178.1 277.9 187.9 271.3 191.2 267.0 184.6 264.8 175.9 261.5 170.4 260.4 162.8 260.9 162.2 258.6 159.0ZM251.7 182.4 260.4 181.3 259.3 172.6 249.5 173.7ZM247.6 194.1 246.8 195.6 248.2 205.2 249.2 205.8 254.8 207.0 255.8 206.7 259.7 200.6 259.6 199.0 254.5 193.0ZM254.9 205.4 249.5 204.3 248.4 195.5 253.8 194.4 258.2 199.9ZM262.6 208.6 267.0 208.6 267.0 199.9 262.6 199.9Z"/><path id="u21d" d="M267.0 208.6 269.1 216.3 275.7 216.3 277.9 210.8 274.6 206.5Z"/><path id="u0s" d="M267.0 206.5 269.1 191.2 260.4 181.3 242.9 191.2 240.7 206.5 248.4 219.6 260.4 217.4ZM173.0 264.4 166.5 288.4 186.3 297.3 183.0 304.6 181.9 305.7 180.8 309.5 179.7 318.9 178.5 323.5 166.5 327.3 173.0 336.0 186.1 349.2 199.2 376.5 208.0 398.3 215.6 392.8 215.2 390.9 219.3 397.5 220.5 398.3 235.1 400.5 252.7 400.2 253.6 399.3 257.4 391.8 261.6 391.4 266.3 384.6 291.3 369.5 292.2 367.9 292.2 362.0 303.2 352.5 312.3 346.4 301.8 363.8 329.2 358.4 356.5 342.0 367.4 320.2 356.5 298.3 343.8 289.2 341.6 285.8 330.5 276.9 319.0 270.0 302.4 265.6 292.2 264.1 292.2 256.5 291.8 255.4 281.6 244.2 271.6 236.4 260.1 232.8 249.2 227.4 238.1 222.9 220.8 221.8 208.9 226.5 197.4 238.0 189.6 254.7 189.6 256.6ZM191.6 255.6 199.2 239.2 210.2 228.3 221.1 223.9 237.5 225.0 248.4 229.4 259.3 234.9 270.2 238.1 280.1 245.8 290.0 256.7 290.0 266.0 301.8 267.7 318.2 272.1 329.2 278.6 354.3 318.0 341.2 333.3 315.0 342.0 301.8 350.7 290.0 361.0 290.0 367.7 264.8 383.0 260.4 389.6 256.0 389.6 251.7 398.3 235.3 398.3 221.1 396.1 215.6 387.4 212.3 376.5 210.2 365.5 199.2 343.7 183.9 321.8 181.0 322.8 181.8 319.3 182.8 310.2 183.9 306.6 184.6 306.4 188.3 298.2 199.2 288.4 199.2 277.5ZM197.0 281.6 197.0 287.4 191.3 292.6Z"/><path id="u0d" d="M199.2 239.2 191.6 255.6 194.9 266.5 199.2 277.5 199.2 288.4 188.3 298.2 184.6 306.4 183.9 306.6 182.8 310.2 181.8 319.3 179.6 328.4 185.0 336.0 194.9 341.5 203.6 352.4 208.0 363.4 215.6 387.4 221.1 396.1 235.3 398.3 251.7 398.3 256.0 389.6 260.4 389.6 264.8 383.0 290.0 367.7 290.0 361.0 301.8 350.7 315.0 342.0 329.2 339.8 341.2 333.3 347.7 326.7 354.3 318.0 345.5 296.1 340.1 287.4 329.2 278.6 318.2 272.1 301.8 267.7 290.0 266.0 290.0 256.7 280.1 245.8 270.2 238.1 259.3 234.9 248.4 229.4 237.5 225.0 221.1 223.9 210.2 228.3Z"/><path id="u6d" d="M167.7 302.6 173.0 310.9 166.5 316.4 151.2 316.4 139.2 314.2 127.1 310.4 111.8 309.8 103.1 312.0 100.9 318.6 98.7 327.3 99.8 336.0 106.4 356.8 133.7 388.5 140.2 388.5 145.7 381.9 144.6 376.5 140.2 374.3 139.2 365.5 142.4 356.8 141.3 345.9 142.4 336.0 146.8 332.8 151.2 327.3 159.9 324.0 170.8 321.8 179.6 320.8 183.9 315.3 183.8 313.9 185.3 313.2 186.4 311.7 186.7 309.9 186.0 308.1 178.4 300.5 168.3 293.8 157.0 287.6 154.8 287.4 152.9 288.4 151.7 291.1 152.8 293.8Z"/><path id="u22d" d="M534.1 73.8 534.8 73.2 534.9 72.3 534.4 71.5 533.6 71.4 518.0 75.9 517.3 77.2 517.8 78.0 518.7 78.2ZM511.9 83.5 509.7 79.2 503.2 79.2 505.4 84.1ZM300.3 225.1 300.8 224.2 300.6 223.1 299.7 222.4 298.5 222.5 290.8 229.4 285.3 237.2 281.4 243.9 281.2 245.0 281.7 245.9 282.9 246.3 284.0 245.8 288.0 239.0 293.3 231.6Z"/><path id="u16n" d="M126.9 316.9 166.5 319.1 167.7 318.6 168.1 317.4 167.6 316.3 166.5 315.8 127.2 313.7 126.2 314.0 125.5 315.0 125.8 316.3ZM108.6 332.8 110.8 345.9 116.2 354.6 125.0 361.2 131.5 359.0 138.1 345.9 141.3 336.0 135.9 327.3 126.0 321.8 118.4 318.6 109.7 319.7Z"/><path id="u7d" d="M219.7 437.1 221.4 439.4 223.6 440.3 233.1 439.2 244.2 435.8 262.1 431.3 271.8 426.5 273.7 424.2 276.2 414.6 275.8 412.7 270.9 402.0 260.4 393.9 247.8 391.2 220.7 393.4 218.4 394.2 217.0 395.5 216.3 397.2 216.3 399.6 217.6 401.8 215.6 407.0 204.7 422.3 194.9 431.1 188.3 442.0 191.6 448.6 198.1 450.7 205.8 447.5 213.4 442.0 217.8 437.6ZM227.4 402.8 247.0 401.1 256.2 402.9 263.0 408.0 266.1 415.1 265.0 418.9 258.7 422.1 241.7 426.3 230.9 429.5 225.4 430.3 224.4 425.6 223.3 414.7 227.6 404.9Z"/><path id="u7s" d="M215.1 383.7 214.0 385.0 214.8 394.9 214.0 398.3 215.1 402.2 213.7 406.0 203.0 420.9 193.1 429.8 186.2 441.3 186.3 443.0 190.3 450.3 197.4 452.8 198.8 452.8 207.1 449.3 214.9 443.7 218.7 439.8 221.2 441.8 223.9 442.5 233.6 441.3 244.8 437.9 262.8 433.4 272.9 428.4 275.0 426.4 275.9 424.4 278.3 416.1 278.0 412.4 272.7 400.6 262.4 392.6 260.1 391.5 252.8 390.0 248.9 385.9 232.3 381.4ZM216.5 399.9 226.7 399.9 256.3 397.7 257.4 396.9 257.6 395.7 255.1 392.7 260.0 393.7 269.9 400.9 271.4 402.9 276.2 414.1 276.0 416.0 273.7 424.2 271.8 426.5 262.1 431.3 244.2 435.8 233.1 439.2 224.1 440.4 221.4 439.4 219.7 437.1 217.8 437.6 213.4 442.0 205.8 447.5 198.1 450.7 191.6 448.6 188.3 442.0 194.9 431.1 204.7 422.3 215.6 407.0 217.6 401.8ZM248.4 387.4 250.2 389.4 246.8 389.0 220.4 391.2 218.4 391.7 216.3 393.1 215.6 385.2 232.0 383.0ZM256.0 396.1 226.5 398.3 216.7 398.3 216.5 396.4 218.0 394.4 220.2 393.5 247.3 391.2 252.6 392.2ZM226.5 404.9 226.5 407.3 223.3 414.7 224.4 425.6 225.4 430.3 230.9 429.5 239.7 426.9 248.4 425.6 248.4 424.6 258.7 422.1 265.0 418.9 266.1 415.1 263.0 408.0 256.2 402.9 247.0 401.1 227.4 402.8 227.6 404.9ZM229.8 404.9 246.9 403.3 255.2 405.0 261.2 409.4 263.8 415.2 263.2 417.4 257.9 420.0 248.4 422.4 248.4 404.9ZM226.5 412.7 226.5 425.3 225.5 415.1Z"/><path id="u7m" d="M215.6 385.2 216.7 398.3 226.5 398.3 256.0 396.1 248.4 387.4 232.0 383.0Z"/><path id="u20d" d="M111.8 457.3 112.9 464.9 117.3 464.9 120.6 461.7 121.7 455.1 119.5 450.7 118.9 440.9 117.3 440.9 112.9 446.4ZM243.9 482.3 244.9 482.6 245.3 481.6 243.5 478.7 242.7 478.4 242.2 479.4Z"/><path id="u5d" d="M430.7 65.0 436.2 69.3 441.7 75.9 448.2 78.1 454.8 75.9 459.1 69.3 462.4 62.8 463.5 54.0 457.0 47.5 447.1 44.2 438.4 46.4 429.6 55.1 426.4 60.6ZM408.9 86.8 426.4 104.3 432.9 108.6 441.7 109.7 446.0 104.3 446.0 102.1 447.1 105.4 454.8 104.3 459.1 97.7 457.0 87.9 450.4 80.2 440.6 78.1 441.9 85.1 435.1 78.1 425.3 73.7 416.5 74.8 402.3 78.1ZM423.1 128.3 424.2 137.0 430.7 145.8 432.9 156.7 434.0 167.6 438.4 167.6 443.8 158.9 452.6 153.4 459.1 145.8 464.6 134.9 464.6 123.9 459.1 117.4 450.4 119.6 441.7 113.0 432.9 109.7 424.2 113.0 426.4 120.7Z"/><path id="u5s" d="M427.3 72.2 425.2 71.5 416.0 72.6 401.6 76.0 400.5 76.9 400.2 78.4 407.3 88.4 424.8 105.8 429.2 108.8 423.2 111.0 422.0 112.5 424.0 120.5 420.9 128.1 422.0 137.3 428.7 146.7 430.7 157.0 432.1 168.7 433.6 169.8 438.6 169.8 440.1 169.0 445.4 160.5 454.1 155.0 460.8 147.2 466.8 135.3 466.7 123.3 460.7 115.8 458.8 115.2 450.9 117.2 443.1 111.4 446.3 107.4 456.0 106.1 461.2 98.6 461.3 97.2 459.0 87.0 452.3 79.0 456.3 77.4 461.1 70.3 464.6 63.3 465.7 54.3 465.5 53.0 458.0 45.6 447.8 42.1 446.6 42.1 437.5 44.4 427.9 53.8 424.3 59.8 424.4 61.6 426.5 63.8ZM435.1 79.2 436.2 79.2 441.9 85.1 440.8 79.2 443.8 79.2 443.6 78.7 450.4 80.2 457.0 87.9 459.1 97.7 454.8 104.3 447.1 105.4 446.0 102.1 446.0 104.3 441.7 109.7 432.9 108.6 426.4 104.3 408.9 86.8 402.3 78.1 416.5 74.8 425.3 73.7 431.1 76.3ZM438.4 69.3 431.5 65.6 426.4 60.6 429.6 55.1 438.4 46.4 447.1 44.2 457.0 47.5 463.5 54.0 462.4 62.8 459.1 69.3 454.8 75.9 448.2 78.1 442.1 76.0ZM424.2 113.0 432.9 109.7 441.7 113.0 450.4 119.6 459.1 117.4 464.6 123.9 464.6 134.9 459.1 145.8 452.6 153.4 443.8 158.9 438.4 167.6 434.0 167.6 432.9 156.7 430.7 145.8 424.2 137.0 423.1 128.3 426.4 120.7Z"/><path id="u5v" d="M394.7 97.7 394.7 117.4 405.6 172.0 411.1 193.8 438.4 188.4 454.8 172.0 432.9 172.0 422.0 139.2 425.3 113.0 416.5 99.9Z"/><path id="u9d" d="M375.5 134.2 369.8 143.5 363.3 164.2 360.0 170.8 360.0 173.3 361.8 175.1 364.4 175.0 365.9 173.5 369.4 166.5 375.9 146.1 381.0 137.8 388.7 127.9 389.2 126.0 388.6 124.2 386.5 122.9 384.1 123.4ZM354.4 200.0 347.7 200.0 349.9 206.6 356.5 213.1 360.1 216.0 367.4 230.0 377.6 230.0 378.3 230.6 379.8 230.0 391.4 230.0 388.1 215.7 383.8 204.8 381.6 193.8 373.9 182.9 367.4 176.4 358.6 176.4 352.1 181.8 353.2 196.0Z"/><path id="u9s" d="M347.5 197.8 346.0 198.6 345.5 200.1 348.0 207.6 354.9 214.7 358.3 217.4 362.0 224.6 345.5 221.8 345.5 235.0 356.5 249.2 378.3 252.4 389.2 238.2 383.2 232.2 391.9 232.2 392.8 231.7 393.5 230.6 392.2 223.5 395.8 215.7 395.8 193.8 384.9 182.9 371.8 175.3 373.0 178.9 368.0 174.3 371.5 167.2 377.9 147.0 382.8 139.1 391.0 128.2 391.4 126.4 391.1 124.3 390.2 122.6 388.5 121.3 385.2 120.7 382.1 122.3 373.9 132.7 368.0 142.1 361.2 163.3 357.8 170.4 357.5 172.3 358.0 174.3 350.7 180.1 350.0 181.2 351.4 197.8ZM383.4 124.1 385.2 122.9 387.4 123.2 388.9 124.8 389.0 127.3 381.0 137.8 375.9 146.1 369.4 166.5 365.8 173.7 364.1 175.1 361.8 175.1 360.2 173.6 359.9 171.1 363.3 164.2 369.8 143.5 375.7 133.9ZM352.1 181.8 358.6 176.4 367.4 176.4 375.0 184.4 378.3 193.8 378.3 227.3 364.7 225.0 360.1 216.0 356.5 213.1 349.9 206.6 347.7 200.0 354.4 200.0 353.2 196.0ZM391.4 230.0 389.2 230.0 390.7 226.8Z"/><path id="u13d" d="M365.2 230.0 364.8 228.3 376.1 232.8 383.8 235.0 380.5 228.4 375.0 221.8 369.6 210.9 363.0 200.0 341.2 200.0 334.6 206.6 316.0 220.1 314.7 222.5 310.6 227.3 306.2 235.0 312.8 236.0 322.7 230.0Z"/><path id="u2d" d="M448.2 230.0 450.4 215.7 450.4 207.0 448.2 199.3 438.4 198.2 427.5 200.4 417.6 207.0 411.1 215.7 410.9 218.1 408.9 225.1 403.4 230.6 395.8 239.3 384.9 245.9 376.1 252.4 372.8 261.2 375.0 274.3 378.3 267.7 383.8 261.2 389.2 252.4 394.7 252.4 405.6 271.0 411.1 274.3 419.8 276.5 427.5 276.5 430.5 275.6 436.4 289.2 441.8 289.2 441.8 278.3 444.0 267.4 441.8 256.5 442.9 245.5 445.1 236.8 443.4 230.0Z"/><path id="u4d" d="M474.4 211.3 465.7 210.2 463.4 210.9 461.3 210.9 450.4 208.7 443.8 213.1 441.7 232.8 441.7 252.4 440.6 265.5 442.6 272.5 442.9 278.3 445.0 283.5 446.0 289.6 450.4 298.3 459.1 304.9 463.5 303.8 467.9 298.3 474.4 296.1 480.0 292.8 480.0 286.7 485.5 284.9 489.9 282.7 494.3 273.9 495.4 265.2 492.1 256.5 485.5 249.9 482.3 242.3 480.0 239.1 480.0 221.8 476.9 217.8Z"/><path id="u18d" d="M284.4 261.2 290.9 266.6 301.8 267.7 323.7 272.1 331.3 274.3 339.0 272.1 336.8 265.5 331.3 256.8 323.7 252.4 304.0 256.8 293.1 257.9Z"/><path id="u2s" d="M434.4 290.3 436.0 291.4 442.1 291.4 443.2 290.9 444.0 289.7 444.0 278.5 446.2 267.4 444.1 256.4 445.1 245.9 447.3 236.9 446.2 232.2 448.9 232.1 450.3 230.8 452.6 215.9 452.6 206.5 450.1 198.1 448.7 197.2 438.4 196.0 426.6 198.4 416.0 205.4 409.1 214.7 408.7 217.7 406.9 224.0 394.4 237.6 383.7 244.0 374.5 251.0 370.6 261.1 372.9 274.8 374.1 276.3 375.9 276.3 377.2 274.8 383.8 276.5 400.2 287.4 416.5 283.0 410.5 276.4 419.5 278.6 427.5 278.7 429.4 278.2ZM393.5 254.6 398.3 262.3 398.8 263.3 391.2 254.6ZM445.1 236.8 442.9 245.5 441.8 256.5 444.0 267.4 441.8 278.3 441.8 289.2 436.4 289.2 430.5 275.6 427.5 276.5 419.8 276.5 411.1 274.3 405.6 271.0 394.7 252.4 389.2 252.4 382.8 262.4 378.3 267.7 375.0 274.3 372.8 261.2 376.1 252.4 384.9 245.9 395.8 239.3 403.4 230.6 408.9 225.1 410.9 218.1 411.1 215.7 417.6 207.0 427.5 200.4 438.4 198.2 448.2 199.3 448.4 199.7 450.4 207.0 450.4 215.7 448.2 230.0 443.4 230.0Z"/><path id="u3d" d="M465.9 306.7 465.9 316.5 467.9 331.1 472.2 339.8 480.0 342.0 480.0 338.8 494.3 328.6 500.8 322.0 505.2 298.0 503.0 289.2 494.3 287.0 485.5 286.0 476.8 289.2 470.5 297.1 465.7 298.3 466.5 304.7Z"/><path id="u1d" d="M420.0 293.5 416.5 292.8 400.2 293.9 387.0 298.3 389.2 313.6 384.9 324.5 378.3 335.4 366.0 360.0 352.4 364.4 361.2 373.1 369.9 377.5 371.5 378.7 378.3 385.7 382.3 387.7 387.4 392.8 393.9 403.7 396.1 414.6 396.1 427.7 400.5 436.5 409.2 440.8 418.0 438.6 431.1 434.3 437.6 427.7 444.2 419.0 446.4 408.1 450.7 395.0 452.9 381.8 454.4 380.0 458.2 380.0 459.8 373.3 461.7 370.9 463.5 361.7 465.9 357.0 468.1 343.8 468.1 332.9 467.0 316.5 461.5 306.7 454.4 303.1 441.8 295.8 430.9 291.4 420.0 289.2Z"/><path id="u1m" d="M338.9 284.9 370.6 302.4 385.5 309.2 387.3 309.5 389.1 309.0 390.5 307.9 391.4 306.4 391.4 303.3 389.4 300.9 374.9 294.2 343.0 276.6 340.8 276.2 338.3 277.2 337.1 278.6 336.6 280.3 336.7 282.1 337.5 283.7Z"/><path id="u1s" d="M336.7 285.2 370.2 304.0 384.4 310.5 386.6 311.1 387.0 313.3 385.7 316.6 378.3 309.2 356.5 320.2 356.5 336.5 367.4 347.5 370.7 345.8 364.6 358.0 351.3 362.5 350.3 363.8 350.5 365.4 359.8 374.8 368.7 379.4 376.9 387.4 381.0 389.5 385.6 394.1 391.9 404.5 393.9 414.8 394.0 428.1 399.0 438.1 409.3 443.0 418.7 440.7 432.1 436.2 439.4 429.0 446.1 420.0 448.5 408.6 452.9 395.5 455.0 382.8 455.5 382.2 458.7 382.2 459.9 381.4 461.8 374.3 463.8 371.6 465.6 362.4 468.0 357.5 470.3 344.0 470.3 332.8 468.9 315.5 462.9 305.0 455.5 301.2 442.8 293.8 433.4 290.0 438.4 287.4 422.0 276.5 403.4 276.5 405.3 291.4 399.6 291.8 386.3 296.2 385.2 297.1 375.7 292.7 343.6 275.1 340.0 274.7 336.8 276.4 335.4 278.4 334.9 280.8 335.4 283.2ZM389.1 310.7 390.9 309.8 392.4 308.1 393.1 306.2 393.2 304.0 391.6 300.6 387.4 298.2 400.2 293.9 405.6 293.6 405.6 293.9 422.0 296.1 430.9 291.4 441.8 295.8 454.4 303.1 461.5 306.7 467.0 316.5 468.1 332.9 468.1 343.8 465.9 357.0 463.5 361.7 461.7 370.9 459.8 373.3 458.2 380.0 454.4 380.0 452.9 381.8 450.7 395.0 446.4 408.1 444.2 419.0 437.6 427.7 431.1 434.3 418.0 438.6 409.2 440.8 400.5 436.5 396.1 427.7 396.1 414.6 393.9 403.7 387.4 392.8 382.3 387.7 378.3 385.7 371.5 378.7 369.9 377.5 361.2 373.1 352.4 364.4 366.0 360.0 373.9 344.2 378.3 342.0 389.2 320.2 387.4 318.3 389.2 313.6ZM338.5 284.6 337.3 283.3 336.6 281.7 336.6 279.9 337.4 278.2 339.9 276.4 341.7 276.2 343.4 276.8 374.9 294.2 384.9 298.8 386.4 309.5 370.6 302.4ZM389.0 300.6 391.0 302.4 391.7 305.0 390.8 307.6 388.6 309.2 387.3 299.8Z"/><path id="u15m" d="M355.1 325.0 353.6 326.0 345.4 334.3 340.6 345.9 339.3 358.0 339.7 362.9 339.3 364.6 340.5 370.5 347.8 394.3 360.1 443.6 361.3 453.8 362.7 455.6 364.8 456.1 366.8 455.1 367.7 453.1 366.6 442.7 356.8 403.2 358.1 401.3 358.2 399.0 354.9 389.9 348.5 368.5 347.5 358.4 348.5 348.4 352.3 338.8 358.6 332.6 371.7 329.1 373.1 327.7 373.7 325.4 372.6 322.9 371.3 321.9 369.8 321.5Z"/><path id="u19d" d="M580.9 101.1 596.2 97.7 597.1 99.9 603.0 105.8 600.1 112.6 597.4 121.2 593.6 129.0 593.9 130.3 595.1 130.8 596.1 130.2 600.1 122.3 602.8 113.5 605.2 108.0 605.9 108.6 609.1 104.3 607.0 95.5 602.6 90.6 593.8 92.3 595.2 95.5 580.4 98.8 579.5 100.0 580.0 100.8Z"/><path id="u4m" d="M465.9 322.6 469.1 343.7 465.9 357.1 467.0 359.4 469.3 360.2 471.1 359.6 472.2 358.1 475.7 343.7 472.4 321.5 466.9 299.4 465.4 297.3 463.2 296.9 461.1 298.2 460.5 300.6Z"/><path id="u15s" d="M337.7 357.9 337.8 365.1 339.0 370.9 346.3 394.8 358.5 443.9 359.8 454.2 360.7 455.9 362.1 457.1 364.0 457.7 365.8 457.5 367.6 456.5 369.0 454.6 369.3 452.9 368.9 449.1 376.5 452.8 385.2 447.4 387.4 414.6 376.5 401.5 358.2 394.2 350.1 368.2 349.1 358.4 350.0 348.8 353.7 339.7 359.4 334.0 371.0 331.1 373.4 329.8 374.9 327.6 375.3 325.4 374.7 323.1 373.3 321.3 371.4 320.2 368.8 320.0 354.5 323.5 352.5 324.8 344.5 332.9 338.9 346.3ZM368.6 321.6 371.0 321.8 372.9 323.2 373.7 325.4 373.1 327.7 370.9 329.5 358.6 332.6 352.3 338.8 348.5 348.4 347.5 358.4 348.5 368.5 356.2 393.4 354.6 392.8 356.8 425.5 365.5 447.4 367.2 448.2 367.5 454.1 366.3 455.5 364.5 456.1 362.4 455.4 361.2 453.5 360.1 443.6 347.8 394.3 340.4 370.1 339.3 364.6 339.7 362.9 339.3 358.4 340.5 346.3 345.6 333.9 354.4 325.3Z"/><path id="u8d" d="M385.9 418.0 387.2 418.7 388.4 418.4 389.2 417.4 389.1 415.9 381.2 403.6 380.2 402.9 378.9 403.1 377.9 404.2 378.0 405.6ZM393.9 458.3 391.8 469.2 385.2 478.0 376.5 486.7 369.9 491.1 371.0 502.0 374.3 510.7 383.0 515.1 393.9 521.7 398.3 530.4 400.5 543.5 401.6 555.5 403.8 554.4 406.0 543.5 406.0 529.3 407.0 518.4 409.2 510.7 413.6 502.0 414.7 491.1 416.9 480.2 418.0 469.2 418.0 456.1 415.8 443.0 409.2 436.5 400.5 436.5Z"/><path id="u17s" d="M207.1 176.7 206.4 178.3 208.6 187.2 210.9 194.0 211.8 194.9 221.4 197.1 238.2 188.2 239.0 187.3 238.7 185.8 233.0 180.1 219.4 172.2 218.3 172.2ZM232.0 181.3 237.5 186.8 221.1 195.5 212.3 193.4 210.2 186.8 208.0 178.1 218.9 173.7ZM192.0 235.6 191.1 236.9 190.1 248.4 198.5 257.0 215.9 259.4 225.8 253.0 225.8 251.7 220.3 239.7 219.6 238.9 204.9 232.2ZM218.9 240.3 224.4 252.3 215.6 257.8 199.2 255.6 191.6 248.0 192.7 237.0 204.7 233.8Z"/><path id="u11s" d="M141.3 263.1 141.6 264.3 142.5 265.2 149.1 267.1 173.2 265.5 183.9 263.0 190.4 256.3 192.7 246.0 193.8 235.1 193.5 233.9 183.7 225.2 173.3 223.9 172.0 224.2 165.1 228.7 156.0 235.7 149.3 246.7 142.6 255.7ZM144.6 256.7 151.2 248.0 157.7 237.0 173.0 226.1 182.8 227.2 191.6 234.9 190.5 245.8 188.3 255.6 182.8 261.1 173.0 263.3 149.0 264.9 143.5 263.3ZM148.3 234.5 149.6 235.7 151.3 236.4 154.6 235.9 156.1 234.7 156.9 233.2 157.2 231.3 156.8 229.7 143.8 211.8 141.3 210.4 138.5 210.6 136.8 211.6 135.7 213.2 135.3 215.1 135.7 217.0ZM150.6 233.7 137.7 216.1 137.8 214.0 139.3 212.6 140.9 212.5 142.3 213.4 149.0 222.3 154.8 230.5 155.0 232.0 154.4 233.2 152.6 234.3Z"/><path id="u21s" d="M266.1 206.6 265.1 207.4 264.8 208.8 267.6 217.8 269.1 218.5 275.9 218.5 277.3 217.8 280.1 210.5 276.2 205.0 274.2 204.3ZM274.6 206.5 277.9 210.8 275.7 216.3 269.1 216.3 267.0 208.6Z"/><path id="u6s" d="M166.0 304.1 170.1 310.5 165.7 314.2 151.4 314.2 139.7 312.1 127.2 308.2 111.5 307.7 102.4 309.9 101.1 311.1 98.8 318.0 96.5 327.4 97.7 336.5 104.4 357.7 132.8 390.5 141.3 390.4 147.9 382.4 146.5 375.4 142.3 372.8 141.4 365.8 144.6 357.0 143.6 345.9 144.5 337.2 148.4 334.3 152.5 329.2 160.5 326.2 180.6 322.7 185.8 316.5 186.1 315.3 188.1 313.2 188.8 311.3 188.7 308.9 187.8 306.8 179.6 298.7 169.4 291.9 158.0 285.6 154.9 285.1 151.9 286.3 150.3 288.1 149.6 290.3 149.7 292.7 150.8 294.8 152.5 296.3 163.3 302.3ZM167.7 302.6 152.8 293.8 151.7 291.1 152.9 288.4 154.8 287.4 157.0 287.6 168.3 293.8 178.4 300.5 185.8 307.8 186.6 309.5 186.5 311.3 185.5 312.9 183.8 313.9 183.9 315.3 179.6 320.8 170.8 321.8 159.9 324.0 151.2 327.3 146.8 332.8 142.4 336.0 141.3 345.9 142.4 356.8 139.2 365.5 140.2 374.3 144.6 376.5 145.7 381.9 140.2 388.5 133.7 388.5 106.4 356.8 99.8 336.0 98.7 327.3 100.9 318.6 103.1 312.0 111.8 309.8 127.1 310.4 139.2 314.2 151.2 316.4 166.5 316.4 173.0 310.9Z"/><path id="u22s" d="M534.8 75.8 536.7 74.3 537.1 71.9 535.9 69.9 533.6 69.2 517.1 73.8 515.6 75.2 515.1 77.1 516.2 79.5 518.6 80.4ZM534.3 73.7 518.6 78.2 517.7 77.9 517.3 77.1 518.1 75.8 533.6 71.4 534.8 72.1 534.9 73.0ZM512.3 85.7 513.7 84.8 514.1 83.1 511.0 77.3 509.7 77.0 503.0 77.0 501.3 78.0 501.1 79.8 504.2 85.9 505.3 86.3ZM505.4 84.1 503.2 79.2 509.7 79.2 511.9 83.5ZM301.9 226.7 303.0 224.6 302.7 222.4 301.2 220.7 298.8 220.1 296.8 220.9 289.5 227.7 283.4 236.0 279.3 243.0 279.0 245.4 280.1 247.4 282.8 248.5 285.5 247.4 289.8 240.2 295.0 233.0ZM293.3 231.6 288.0 239.0 284.0 245.8 282.9 246.3 281.7 245.9 281.2 245.0 281.4 243.9 285.3 237.2 290.7 229.5 298.2 222.6 299.2 222.3 300.1 222.6 300.8 223.7 300.5 224.9Z"/><path id="u16s" d="M126.4 318.4 166.7 320.7 168.9 319.6 169.7 317.2 168.7 315.1 166.6 314.2 127.1 312.1 125.2 312.7 124.0 314.5 124.4 317.0ZM166.5 319.1 126.9 316.9 125.8 316.3 125.5 315.0 126.2 314.0 127.2 313.7 166.5 315.8 167.6 316.3 168.1 317.4 167.7 318.6ZM107.0 332.8 109.3 346.4 115.0 355.7 124.5 362.7 132.6 360.2 139.5 346.6 142.9 336.2 142.7 335.2 137.0 326.2 126.8 320.4 118.9 317.0 109.3 318.1 108.1 319.4ZM109.7 319.7 118.4 318.6 126.0 321.8 135.9 327.3 141.3 336.0 138.1 345.9 131.5 359.0 125.0 361.2 116.2 354.6 110.8 345.9 108.6 332.8Z"/><path id="u20s" d="M242.2 483.7 243.7 484.7 245.4 484.7 246.8 483.8 247.5 482.2 247.3 480.7 245.4 477.5 243.2 476.2 241.1 476.8 240.0 478.8 240.2 480.3ZM243.9 482.3 242.2 479.4 242.7 478.4 243.5 478.7 245.3 481.6 244.9 482.6ZM109.6 457.3 110.8 465.5 112.1 467.0 118.1 467.0 122.5 462.7 123.9 454.8 121.7 450.2 121.1 440.6 120.0 439.0 117.3 438.7 116.1 439.1 111.0 445.3ZM112.9 446.4 117.3 440.9 118.9 440.9 119.5 450.7 121.7 455.1 120.6 461.7 117.3 464.9 112.9 464.9 111.8 457.3Z"/><path id="u13s" d="M365.4 232.2 366.9 231.4 375.3 234.8 383.4 237.1 385.2 236.7 386.0 235.2 385.7 234.0 382.3 227.2 376.9 220.6 371.5 209.8 364.5 198.3 363.0 197.8 341.2 197.8 339.8 198.3 333.2 204.9 314.5 218.5 312.9 221.2 308.7 226.2 304.3 233.9 304.0 235.1 304.4 236.3 305.4 237.0 312.9 238.2 323.2 232.2ZM322.7 230.0 312.8 236.0 306.2 235.0 310.6 227.3 314.7 222.5 316.0 220.1 334.6 206.6 341.2 200.0 363.0 200.0 369.6 210.9 375.0 221.8 380.5 228.4 383.8 235.0 376.1 232.8 364.8 228.3 365.2 230.0Z"/><path id="u4s" d="M476.3 210.2 474.9 209.2 466.0 208.0 461.5 208.7 450.6 206.5 449.2 206.9 442.6 211.3 441.8 212.2 439.5 232.8 439.5 252.3 438.4 265.6 440.5 272.8 440.8 278.9 442.9 284.1 444.0 290.4 448.6 299.6 458.0 306.7 460.3 306.8 464.4 323.0 467.5 343.6 464.4 355.8 464.3 357.7 465.9 360.6 469.0 361.8 471.7 361.1 473.6 359.0 477.3 343.7 474.0 321.2 468.8 300.6 475.3 298.1 481.3 294.6 482.2 293.3 482.2 288.3 486.5 286.8 491.7 284.0 496.3 274.7 497.6 265.3 493.9 255.3 487.4 248.7 484.2 241.2 482.2 238.4 482.2 221.4 478.8 216.7ZM461.9 306.4 465.1 305.3 467.6 302.2 472.4 321.5 475.7 343.4 472.2 358.1 471.4 359.4 469.6 360.2 467.2 359.6 465.9 357.4 469.1 343.7 465.9 322.6ZM480.0 221.8 480.0 239.1 482.3 242.3 485.5 249.9 492.1 256.5 495.4 265.2 494.3 273.9 489.9 282.7 485.5 284.9 480.0 286.7 480.0 292.8 474.4 296.1 468.2 298.2 466.9 296.5 464.8 295.4 462.4 295.4 460.5 296.5 458.9 299.4 459.8 304.7 459.1 304.9 450.4 298.3 446.0 289.6 445.0 283.5 442.9 278.3 442.6 272.5 440.6 265.5 441.7 252.4 441.7 232.8 443.8 213.1 450.4 208.7 461.3 210.9 463.4 210.9 465.7 210.2 474.4 211.3 476.9 217.8ZM463.5 303.8 461.4 304.3 460.4 300.0 461.5 297.7 463.9 296.9 465.9 297.7 466.9 299.5Z"/><path id="u18s" d="M283.4 259.2 282.2 260.7 282.7 262.5 290.5 268.8 301.5 269.9 323.2 274.2 331.1 276.5 339.8 274.1 341.1 272.5 338.8 264.6 333.1 255.5 324.2 250.3 312.3 252.5 303.7 254.6 292.7 255.7ZM293.1 257.9 304.0 256.8 323.7 252.4 331.3 256.8 336.8 265.5 339.0 272.1 331.3 274.3 323.7 272.1 301.8 267.7 290.9 266.6 284.4 261.2Z"/><path id="u3s" d="M463.7 306.2 463.7 316.7 465.9 332.1 470.8 341.5 479.4 344.1 480.9 344.0 482.1 342.6 482.2 340.0 495.6 330.3 502.9 322.8 507.4 298.1 505.0 288.3 503.8 287.2 494.8 284.9 485.6 283.8 476.0 287.2 469.2 295.2 465.0 296.2 463.8 297.2 463.5 298.4 464.3 304.5ZM466.5 304.7 465.7 298.3 470.5 297.1 476.8 289.2 485.5 286.0 494.3 287.0 503.0 289.2 505.2 298.0 500.8 322.0 494.3 328.6 480.0 338.8 480.0 342.0 472.2 339.8 467.9 331.1 465.9 316.5 465.9 306.7Z"/><path id="u19s" d="M580.5 103.3 594.9 100.3 600.4 106.3 598.1 111.8 595.4 120.4 591.4 128.7 591.4 130.3 592.3 131.9 593.5 132.7 595.3 133.0 596.9 132.4 598.1 131.1 602.1 123.2 606.4 110.8 607.5 110.1 610.9 105.6 611.3 104.2 608.8 94.4 604.1 89.0 602.9 88.4 593.0 90.2 591.7 91.8 592.2 94.0 579.5 96.7 578.0 97.8 577.3 99.7 578.2 102.1ZM596.2 97.7 580.9 101.1 580.0 100.8 579.5 100.0 580.4 98.8 595.2 95.5 593.8 92.3 602.6 90.6 607.0 95.5 609.1 104.3 605.9 108.6 605.2 108.0 602.8 113.5 600.1 122.3 596.1 130.2 595.1 130.8 593.9 130.3 593.6 129.0 597.4 121.2 600.1 112.6 603.0 105.8 597.1 99.9Z"/><path id="u8s" d="M391.8 457.9 389.7 468.3 383.5 476.5 375.1 485.0 368.4 489.5 367.7 491.3 368.8 502.4 372.5 512.1 382.0 517.0 392.3 523.2 396.2 531.1 398.3 543.8 399.5 556.1 400.3 557.3 401.7 557.7 404.9 556.3 405.9 554.9 408.1 543.7 408.2 529.4 409.2 518.8 411.3 511.5 415.7 502.6 416.9 491.4 419.1 480.4 420.2 469.2 420.2 456.1 417.6 441.8 410.1 434.4 400.5 434.3 399.3 434.6 398.4 435.8ZM400.5 436.5 409.2 436.5 415.8 443.0 418.0 456.1 418.0 469.2 416.9 480.2 414.7 491.1 413.6 502.0 409.2 510.7 407.0 518.4 406.0 529.3 406.0 543.5 403.8 554.4 401.6 555.5 400.5 543.5 398.3 530.4 393.9 521.7 383.0 515.1 374.3 510.7 371.0 502.0 369.9 491.1 376.5 486.7 385.2 478.0 391.8 469.2 393.9 458.3ZM384.2 419.4 386.6 420.8 389.3 420.4 391.2 418.4 391.3 415.6 382.8 402.0 380.9 400.8 378.5 400.9 377.1 401.6 376.1 402.9 375.6 404.4 375.8 406.0ZM385.8 417.8 378.0 405.6 377.9 404.2 378.9 403.1 380.2 402.9 381.2 403.6 389.1 415.9 389.2 417.4 388.4 418.4 387.0 418.7Z"/></defs><g transform=""><g filter="url(#spv)"><use href="#u5v" fill="#7d2f3a"/></g><g filter="url(#sps)"><use href="#u0s" fill="#f0b07e"/><use href="#u7s" fill="#d6cf2a"/><use href="#u6s" fill="#e2e21e"/><use href="#u16s" fill="#8b6a20"/><use href="#u11s" fill="#4fbde4"/><use href="#u12s" fill="#27a2d3"/><use href="#u10s" fill="#2a7aa4"/><use href="#u17s" fill="#8e97a8"/><use href="#u14s" fill="#3554b3"/><use href="#u21s" fill="#222d80"/><use href="#u20s" fill="#1fa9bd"/><use href="#u13s" fill="#e07a88"/><use href="#u18s" fill="#ea87ab"/><use href="#u9s" fill="#c9464f"/><use href="#u5s" fill="#7d2f3a"/><use href="#u2s" fill="#ef8f4c"/><use href="#u4s" fill="#e27f9a"/><use href="#u3s" fill="#f3b896"/><use href="#u1s" fill="#7c1416"/><use href="#u15s" fill="#d91f1f"/><use href="#u8s" fill="#b6c877"/><use href="#u19s" fill="#e6c31a"/><use href="#u22s" fill="#e5e21c"/></g><g filter="url(#spm)"><use href="#u7m" fill="#d6cf2a"/><use href="#u12m" fill="#27a2d3"/><use href="#u17m" fill="#8e97a8"/><use href="#u14m" fill="#3554b3"/><use href="#u4m" fill="#e27f9a"/><use href="#u1m" fill="#7c1416"/><use href="#u15m" fill="#d91f1f"/></g><g filter="url(#spd)"><use href="#u0d" fill="#f0b07e"/><use href="#u7d" fill="#d6cf2a"/><use href="#u6d" fill="#e2e21e"/><use href="#u11d" fill="#4fbde4"/><use href="#u12d" fill="#27a2d3"/><use href="#u10d" fill="#2a7aa4"/><use href="#u14d" fill="#3554b3"/><use href="#u21d" fill="#222d80"/><use href="#u20d" fill="#1fa9bd"/><use href="#u13d" fill="#e07a88"/><use href="#u18d" fill="#ea87ab"/><use href="#u9d" fill="#c9464f"/><use href="#u5d" fill="#7d2f3a"/><use href="#u2d" fill="#ef8f4c"/><use href="#u4d" fill="#e27f9a"/><use href="#u3d" fill="#f3b896"/><use href="#u1d" fill="#7c1416"/><use href="#u8d" fill="#b6c877"/><use href="#u19d" fill="#e6c31a"/><use href="#u22d" fill="#e5e21c"/></g><g filter="url(#spn)"><use href="#u16n" fill="#8b6a20"/><use href="#u17n" fill="#8e97a8"/></g></g><text x="143.5" y="173.8" font-size="23.5" font-weight="bold" fill="#000" text-anchor="start" >12</text><text x="251.5" y="148.2" font-size="23.5" font-weight="bold" fill="#000" text-anchor="start" >14</text><text x="213.0" y="188.4" font-size="23.5" font-weight="bold" fill="#000" text-anchor="start" >17</text><text x="178.3" y="206.7" font-size="23.5" font-weight="bold" fill="#000" text-anchor="start" >10</text><text x="257.0" y="239.7" font-size="23.5" font-weight="bold" fill="#000" text-anchor="start" >21</text><text x="147.0" y="248.0" font-size="23.5" font-weight="bold" fill="#000" text-anchor="start" >11</text><text x="316.6" y="211.0" font-size="23.5" font-weight="bold" fill="#000" text-anchor="start" >13</text><text x="385.0" y="188.4" font-size="23.5" font-weight="bold" fill="#000" text-anchor="start" >9</text><text x="300.9" y="276.0" font-size="23.5" font-weight="bold" fill="#000" text-anchor="start" >18</text><text x="258.8" y="321.3" font-size="23.5" font-weight="bold" fill="#000" text-anchor="start" >0</text><text x="85.7" y="360.4" font-size="23.5" font-weight="bold" fill="#000" text-anchor="start" >6</text><text x="141.0" y="355.6" font-size="23.5" font-weight="bold" fill="#000" text-anchor="start" >16</text><text x="233.0" y="426.3" font-size="23.5" font-weight="bold" fill="#000" text-anchor="start" >7</text><text x="127.8" y="464.7" font-size="23.5" font-weight="bold" fill="#000" text-anchor="start" >20</text><text x="319.7" y="414.0" font-size="23.5" font-weight="bold" fill="#000" text-anchor="start" >15</text><text x="459.6" y="407.0" font-size="23.5" font-weight="bold" fill="#000" text-anchor="start" >1</text><text x="392.4" y="502.5" font-size="23.5" font-weight="bold" fill="#000" text-anchor="start" >8</text><text x="419.0" y="246.6" font-size="23.5" font-weight="bold" fill="#000" text-anchor="start" >2</text><text x="459.4" y="262.5" font-size="23.5" font-weight="bold" fill="#000" text-anchor="start" >4</text><text x="479.6" y="318.7" font-size="23.5" font-weight="bold" fill="#000" text-anchor="start" >3</text><text x="470.0" y="113.0" font-size="23.5" font-weight="bold" fill="#000" text-anchor="start" >5</text><text x="500.5" y="68.2" font-size="23.5" font-weight="bold" fill="#000" text-anchor="start" >22</text><text x="563.0" y="126.7" font-size="23.5" font-weight="bold" fill="#000" text-anchor="start" >19</text><g transform="matrix(1.041 0 0 0.972 692.4 -0.77)"><g filter="url(#spvb)"><use href="#u5v" fill="#a51b28"/></g><g filter="url(#spsb)"><use href="#u0s" fill="#dca080"/><use href="#u7s" fill="#dcdcde"/><use href="#u6s" fill="#dcdcde"/><use href="#u16s" fill="#dcdcde"/><use href="#u11s" fill="#dcdcde"/><use href="#u12s" fill="#dcdcde"/><use href="#u10s" fill="#dcdcde"/><use href="#u17s" fill="#dcdcde"/><use href="#u14s" fill="#dcdcde"/><use href="#u21s" fill="#dcdcde"/><use href="#u20s" fill="#dcdcde"/><use href="#u13s" fill="#c56a55"/><use href="#u18s" fill="#a51b28"/><use href="#u9s" fill="#a51b28"/><use href="#u5s" fill="#a51b28"/><use href="#u2s" fill="#a92330"/><use href="#u4s" fill="#b43a3c"/><use href="#u3s" fill="#c75846"/><use href="#u1s" fill="#a8202c"/><use href="#u15s" fill="#a82530"/><use href="#u8s" fill="#dcc0bc"/><use href="#u19s" fill="#e4c8cc"/><use href="#u22s" fill="#e6e6e6"/></g><g filter="url(#spmb)"><use href="#u7m" fill="#dcdcde"/><use href="#u12m" fill="#dcdcde"/><use href="#u17m" fill="#dcdcde"/><use href="#u14m" fill="#dcdcde"/><use href="#u4m" fill="#b43a3c"/><use href="#u1m" fill="#a8202c"/><use href="#u15m" fill="#a82530"/></g><g filter="url(#spdb)"><use href="#u0d" fill="#dca080"/><use href="#u7d" fill="#dcdcde"/><use href="#u6d" fill="#dcdcde"/><use href="#u11d" fill="#dcdcde"/><use href="#u12d" fill="#dcdcde"/><use href="#u10d" fill="#dcdcde"/><use href="#u14d" fill="#dcdcde"/><use href="#u21d" fill="#dcdcde"/><use href="#u20d" fill="#dcdcde"/><use href="#u13d" fill="#c56a55"/><use href="#u18d" fill="#a51b28"/><use href="#u9d" fill="#a51b28"/><use href="#u5d" fill="#a51b28"/><use href="#u2d" fill="#a92330"/><use href="#u4d" fill="#b43a3c"/><use href="#u3d" fill="#c75846"/><use href="#u1d" fill="#a8202c"/><use href="#u8d" fill="#dcc0bc"/><use href="#u19d" fill="#e4c8cc"/><use href="#u22d" fill="#e6e6e6"/></g><g filter="url(#spnb)"><use href="#u16n" fill="#dcdcde"/><use href="#u17n" fill="#dcdcde"/></g></g><defs><filter id="mx1" filterUnits="userSpaceOnUse" x="-200" y="-200" width="1200" height="1200" color-interpolation-filters="sRGB"><feTurbulence type="fractalNoise" baseFrequency="0.6" numOctaves="2" seed="31" result="n"/><feColorMatrix in="n" type="matrix" values="0 0 0 0 0 0 0 0 0 0 0 0 0 0 0 12 0 0 0 -6.00" result="a"/><feComposite in="SourceGraphic" in2="a" operator="in"/></filter><filter id="mx2" filterUnits="userSpaceOnUse" x="-200" y="-200" width="1200" height="1200" color-interpolation-filters="sRGB"><feTurbulence type="fractalNoise" baseFrequency="0.6" numOctaves="2" seed="37" result="n"/><feColorMatrix in="n" type="matrix" values="0 0 0 0 0 0 0 0 0 0 0 0 0 0 0 12 0 0 0 -5.40" result="a"/><feComposite in="SourceGraphic" in2="a" operator="in"/></filter><filter id="mx3" filterUnits="userSpaceOnUse" x="-200" y="-200" width="1200" height="1200" color-interpolation-filters="sRGB"><feTurbulence type="fractalNoise" baseFrequency="0.6" numOctaves="2" seed="41" result="n"/><feColorMatrix in="n" type="matrix" values="0 0 0 0 0 0 0 0 0 0 0 0 0 0 0 12 0 0 0 -6.72" result="a"/><feComposite in="SourceGraphic" in2="a" operator="in"/></filter></defs><g transform="matrix(1.041 0 0 0.972 692.4 -0.77)" filter="url(#mx1)"><use href="#u4d" fill="#d89a80"/><use href="#u4m" fill="#d89a80"/><use href="#u3d" fill="#dca088"/><use href="#u13d" fill="#dcb0a0"/><use href="#u0d" fill="#e2e2e2"/><use href="#u2d" fill="#d09080"/><use href="#u1d" fill="#c87060"/><use href="#u1m" fill="#c87060"/></g><g transform="matrix(1.041 0 0 0.972 692.4 -0.77)" filter="url(#mx3)"><use href="#u4d" fill="#e0e0e0"/><use href="#u4m" fill="#e0e0e0"/><use href="#u13d" fill="#e0e0e0"/><use href="#u8d" fill="#e4e4e4"/></g><text x="1313.0" y="322.0" font-size="24.3" font-weight="normal" fill="#000" text-anchor="middle" >Expression</text><text x="1313.0" y="349.4" font-size="24.3" font-weight="normal" fill="#000" text-anchor="middle" >level</text><defs><linearGradient id="cbb" x1="0" y1="0" x2="0" y2="1"><stop offset="0" stop-color="#120808"/><stop offset="0.2" stop-color="#5a1820"/><stop offset="0.35" stop-color="#8a3438"/><stop offset="0.55" stop-color="#a86048"/><stop offset="0.75" stop-color="#c8a888"/><stop offset="1" stop-color="#dedcda"/></linearGradient></defs><rect x="1299.40" y="355.00" width="26.00" height="128.00" fill="url(#cbb)" /><line x1="1299.4" y1="362.0" x2="1303.5" y2="362.0" stroke="#fff" stroke-width="1.2" /><line x1="1321.3" y1="362.0" x2="1325.4" y2="362.0" stroke="#fff" stroke-width="1.2" /><text transform="translate(1328.5,367.0) scale(0.85,1)" font-size="14" font-weight="bold" fill="#000" text-anchor="start">5</text><line x1="1299.4" y1="386.0" x2="1303.5" y2="386.0" stroke="#fff" stroke-width="1.2" /><line x1="1321.3" y1="386.0" x2="1325.4" y2="386.0" stroke="#fff" stroke-width="1.2" /><text transform="translate(1328.5,391.0) scale(0.85,1)" font-size="14" font-weight="bold" fill="#000" text-anchor="start">4</text><line x1="1299.4" y1="411.6" x2="1303.5" y2="411.6" stroke="#fff" stroke-width="1.2" /><line x1="1321.3" y1="411.6" x2="1325.4" y2="411.6" stroke="#fff" stroke-width="1.2" /><text transform="translate(1328.5,416.6) scale(0.85,1)" font-size="14" font-weight="bold" fill="#000" text-anchor="start">3</text><line x1="1299.4" y1="431.8" x2="1303.5" y2="431.8" stroke="#fff" stroke-width="1.2" /><line x1="1321.3" y1="431.8" x2="1325.4" y2="431.8" stroke="#fff" stroke-width="1.2" /><text transform="translate(1328.5,436.8) scale(0.85,1)" font-size="14" font-weight="bold" fill="#000" text-anchor="start">2</text><line x1="1299.4" y1="455.5" x2="1303.5" y2="455.5" stroke="#fff" stroke-width="1.2" /><line x1="1321.3" y1="455.5" x2="1325.4" y2="455.5" stroke="#fff" stroke-width="1.2" /><text transform="translate(1328.5,460.5) scale(0.85,1)" font-size="14" font-weight="bold" fill="#000" text-anchor="start">1</text><line x1="1299.4" y1="479.3" x2="1303.5" y2="479.3" stroke="#fff" stroke-width="1.2" /><line x1="1321.3" y1="479.3" x2="1325.4" y2="479.3" stroke="#fff" stroke-width="1.2" /><text transform="translate(1328.5,484.3) scale(0.85,1)" font-size="14" font-weight="bold" fill="#000" text-anchor="start">0</text><rect x="1267.00" y="501.00" width="87.50" height="84.40" fill="#e6e6e6" /><text x="1311.0" y="530.5" font-size="25" font-weight="bold" fill="#a51c24" text-anchor="middle" >FLUC</text><text x="1311.0" y="549.0" font-size="25" font-weight="bold" fill="#a51c24" text-anchor="middle" >+</text><text x="1311.0" y="578.0" font-size="25" font-weight="bold" fill="#a51c24" text-anchor="middle" >MYCN</text><path d="M1701.0 145.0 1712.0 132.0 1726.0 127.0 1740.0 128.0 1750.0 138.0 1756.0 152.0 1761.0 165.0 1771.0 181.0 1789.0 188.5 1815.0 193.6 1835.5 201.3 1851.0 222.0 1863.8 247.5 1869.0 273.0 1866.3 304.0 1858.6 335.0 1845.8 368.0 1830.4 396.4 1812.4 424.6 1792.0 440.0 1768.8 445.0 1753.4 440.0 1743.0 445.0 1733.0 458.0 1722.6 462.0 1715.0 458.0 1704.6 440.0 1697.0 419.5 1691.8 394.0 1691.8 368.0 1697.0 345.0 1704.6 324.5 1702.0 304.0 1697.0 288.6 1681.5 278.3 1661.0 270.6 1645.6 265.5 1637.9 257.8 1643.0 251.4 1661.0 247.5 1681.5 250.0 1702.0 255.0 1717.5 257.8 1722.6 252.7 1720.0 242.4 1709.8 227.0 1702.0 206.5 1699.5 181.0 1700.0 160.0Z" fill="#e8d0e0"/><path d="M1739.3 79.2 1742.6 62.8 1754.0 51.3 1772.0 44.7 1793.3 43.0 1811.4 48.0 1821.2 59.5 1826.0 79.2 1828.6 103.7 1827.0 128.3 1821.2 154.5 1811.4 172.6 1796.6 179.0 1783.5 177.5 1772.0 171.0 1763.9 159.4 1757.3 144.7 1750.7 128.3 1744.2 112.0 1740.0 95.5Z" fill="#f9e0da"/><g transform="matrix(0.9757 0 0 0.9727 1358.8 8.2)"><g filter="url(#spvc)"><use href="#u5v" fill="#cc4b59"/></g><g filter="url(#spsc)"><use href="#u0s" fill="#cc4b59"/><use href="#u7s" fill="#efbb1a"/><use href="#u6s" fill="#efbb1a"/><use href="#u16s" fill="#efbb1a"/><use href="#u11s" fill="#2cb5c8"/><use href="#u12s" fill="#2cb5c8"/><use href="#u10s" fill="#2cb5c8"/><use href="#u17s" fill="#8a8a8a"/><use href="#u14s" fill="#2cb5c8"/><use href="#u21s" fill="#2cb5c8"/><use href="#u20s" fill="#2cb5c8"/><use href="#u13s" fill="#cc4b59"/><use href="#u18s" fill="#cc4b59"/><use href="#u9s" fill="#cc4b59"/><use href="#u5s" fill="#cc4b59"/><use href="#u2s" fill="#cc4b59"/><use href="#u4s" fill="#cc4b59"/><use href="#u3s" fill="#cc4b59"/><use href="#u1s" fill="#cc4b59"/><use href="#u15s" fill="#cc4b59"/><use href="#u8s" fill="#efbb1a"/><use href="#u19s" fill="#efbb1a"/><use href="#u22s" fill="#efbb1a"/></g><g filter="url(#spmc)"><use href="#u7m" fill="#efbb1a"/><use href="#u12m" fill="#2cb5c8"/><use href="#u17m" fill="#8a8a8a"/><use href="#u14m" fill="#2cb5c8"/><use href="#u4m" fill="#cc4b59"/><use href="#u1m" fill="#cc4b59"/><use href="#u15m" fill="#cc4b59"/></g><g filter="url(#spdc)"><use href="#u0d" fill="#cc4b59"/><use href="#u7d" fill="#efbb1a"/><use href="#u6d" fill="#efbb1a"/><use href="#u11d" fill="#2cb5c8"/><use href="#u12d" fill="#2cb5c8"/><use href="#u10d" fill="#2cb5c8"/><use href="#u14d" fill="#2cb5c8"/><use href="#u21d" fill="#2cb5c8"/><use href="#u20d" fill="#2cb5c8"/><use href="#u13d" fill="#cc4b59"/><use href="#u18d" fill="#cc4b59"/><use href="#u9d" fill="#cc4b59"/><use href="#u5d" fill="#cc4b59"/><use href="#u2d" fill="#cc4b59"/><use href="#u4d" fill="#cc4b59"/><use href="#u3d" fill="#cc4b59"/><use href="#u1d" fill="#cc4b59"/><use href="#u8d" fill="#efbb1a"/><use href="#u19d" fill="#efbb1a"/><use href="#u22d" fill="#efbb1a"/></g><g filter="url(#spnc)"><use href="#u16n" fill="#efbb1a"/><use href="#u17n" fill="#8a8a8a"/></g></g><path d="M1550.6 234.7 1563.5 224.4 1584.0 224.4 1604.5 232.1 1625.1 245.0 1635.3 248.8 1648.2 239.8 1661.0 221.9 1676.4 203.9 1691.8 196.2 1699.5 201.3 1704.6 216.7 1712.3 229.6 1722.6 239.8 1723.9 250.1 1714.9 255.2 1702.1 252.7 1681.5 248.8 1661.0 246.3 1645.6 250.1 1637.9 257.8 1640.5 265.5 1653.3 275.8 1673.8 286.0 1694.4 293.7 1703.4 306.6 1702.1 324.5 1691.8 339.9 1673.8 352.8 1648.2 365.6 1625.1 375.9 1604.5 383.6 1586.6 386.1 1573.7 381.0 1568.6 370.7 1563.5 357.9 1553.2 345.1 1540.4 329.7 1537.8 316.8 1542.9 304.0 1548.1 291.2 1549.4 265.5 1548.1 247.5Z" fill="none" stroke="#111" stroke-width="2.6" stroke-dasharray="6,4.5" stroke-linejoin="round"/><rect x="1745.80" y="76.70" width="78.70" height="58.20" fill="#ffffff" fill-opacity="0.5"/><rect x="1566.00" y="281.00" width="87.30" height="59.00" fill="#ffffff" fill-opacity="0.5"/><rect x="1736.70" y="275.80" width="87.30" height="57.70" fill="#ffffff" fill-opacity="0.5"/><text x="1788.4" y="101.3" font-size="22.5" font-weight="bold" fill="#222" text-anchor="middle" >NB-like</text><text x="1788.4" y="128.3" font-size="22.5" font-weight="bold" fill="#222" text-anchor="middle" >tumor</text><text x="1609.7" y="304.0" font-size="22.5" font-weight="bold" fill="#222" text-anchor="middle" >P92</text><text x="1609.7" y="331.0" font-size="22.5" font-weight="bold" fill="#222" text-anchor="middle" >tumor</text><text x="1780.4" y="298.4" font-size="22.5" font-weight="bold" fill="#222" text-anchor="middle" >OL-like</text><text x="1780.4" y="325.8" font-size="22.5" font-weight="bold" fill="#222" text-anchor="middle" >tumor</text><text x="1434.3" y="149.3" font-size="22.5" font-weight="bold" fill="#000" text-anchor="start" >Myeloid</text><text x="1578.8" y="137.2" font-size="22.5" font-weight="bold" fill="#000" text-anchor="start" >Lymphoid</text><text x="1860.5" y="69.5" font-size="22.5" font-weight="bold" fill="#000" text-anchor="start" >Neuron</text><text x="1880.7" y="134.6" font-size="22.5" font-weight="bold" fill="#000" text-anchor="start" >OPC</text><text x="1443.4" y="350.5" font-size="22.5" font-weight="bold" fill="#000" text-anchor="start" >EC</text><text x="1553.0" y="426.3" font-size="22.5" font-weight="bold" fill="#000" text-anchor="start" >Mural</text><text x="1480.0" y="472.0" font-size="22.5" font-weight="bold" fill="#000" text-anchor="start" >migr.</text><text x="1491.0" y="499.4" font-size="22.5" font-weight="bold" fill="#000" text-anchor="start" >DC</text><text x="1720.8" y="495.8" font-size="22.5" font-weight="bold" fill="#000" text-anchor="start" >MOL</text><rect x="1846.60" y="474.60" width="91.40" height="90.70" fill="#e6e6e6" /><text x="1892.4" y="500.5" font-size="21.5" font-weight="bold" fill="#cc4b59" text-anchor="middle" >Tumor</text><text x="1892.4" y="532.4" font-size="21.5" font-weight="bold" fill="#2cb5c8" text-anchor="middle" >Immune</text><text x="1892.4" y="561.7" font-size="21.5" font-weight="bold" fill="#efbb1a" text-anchor="middle" >Stroma</text><defs><filter id="stS" filterUnits="userSpaceOnUse" x="160" y="820" width="830" height="775" color-interpolation-filters="sRGB"><feTurbulence type="fractalNoise" baseFrequency="1.3 0.012" numOctaves="1" seed="4" result="n"/><feColorMatrix in="n" type="matrix" values="0 0 0 0 0 0 0 0 0 0 0 0 0 0 0 6 0 0 0 -2.71" result="a"/><feComposite in="SourceGraphic" in2="a" operator="in"/></filter><filter id="stM" filterUnits="userSpaceOnUse" x="160" y="820" width="830" height="775" color-interpolation-filters="sRGB"><feTurbulence type="fractalNoise" baseFrequency="1.3 0.012" numOctaves="1" seed="7" result="n"/><feColorMatrix in="n" type="matrix" values="0 0 0 0 0 0 0 0 0 0 0 0 0 0 0 6 0 0 0 -2.50" result="a"/><feComposite in="SourceGraphic" in2="a" operator="in"/></filter><filter id="stD" filterUnits="userSpaceOnUse" x="160" y="820" width="830" height="775" color-interpolation-filters="sRGB"><feTurbulence type="fractalNoise" baseFrequency="1.3 0.012" numOctaves="1" seed="11" result="n"/><feColorMatrix in="n" type="matrix" values="0 0 0 0 0 0 0 0 0 0 0 0 0 0 0 6 0 0 0 -1.90" result="a"/><feComposite in="SourceGraphic" in2="a" operator="in"/></filter></defs><g filter="url(#stS)"><rect x="165.0" y="826.00" width="13.6" height="12.80" fill="#a9a9a9"/><rect x="165.0" y="838.50" width="13.6" height="12.80" fill="#a9a9a9"/><rect x="178.6" y="826.00" width="38.2" height="12.80" fill="#a9a9a9"/><rect x="178.6" y="838.50" width="38.2" height="12.80" fill="#ececec"/><rect x="165.0" y="851.00" width="13.6" height="10.70" fill="#ececec"/><rect x="165.0" y="861.40" width="13.6" height="10.70" fill="#ececec"/><rect x="165.0" y="892.60" width="13.6" height="10.70" fill="#ececec"/><rect x="165.0" y="903.00" width="13.6" height="10.70" fill="#ececec"/><rect x="165.0" y="913.40" width="13.6" height="10.70" fill="#ececec"/><rect x="165.0" y="944.60" width="13.6" height="10.70" fill="#ececec"/><rect x="178.6" y="851.00" width="38.2" height="10.70" fill="#ececec"/><rect x="178.6" y="861.40" width="38.2" height="10.70" fill="#ececec"/><rect x="178.6" y="871.80" width="38.2" height="10.70" fill="#ececec"/><rect x="178.6" y="882.20" width="38.2" height="10.70" fill="#ececec"/><rect x="178.6" y="892.60" width="38.2" height="10.70" fill="#ececec"/><rect x="178.6" y="903.00" width="38.2" height="10.70" fill="#ececec"/><rect x="178.6" y="913.40" width="38.2" height="10.70" fill="#ececec"/><rect x="178.6" y="923.80" width="38.2" height="10.70" fill="#ececec"/><rect x="178.6" y="934.20" width="38.2" height="10.70" fill="#ececec"/><rect x="178.6" y="944.60" width="38.2" height="10.70" fill="#ececec"/><rect x="216.8" y="851.00" width="52.5" height="11.86" fill="#ececec"/><rect x="216.8" y="862.56" width="52.5" height="11.86" fill="#ececec"/><rect x="216.8" y="874.11" width="52.5" height="11.86" fill="#ececec"/><rect x="216.8" y="885.67" width="52.5" height="11.86" fill="#ececec"/><rect x="216.8" y="897.22" width="52.5" height="11.86" fill="#ececec"/><rect x="216.8" y="908.78" width="52.5" height="11.86" fill="#ececec"/><rect x="216.8" y="920.33" width="52.5" height="11.86" fill="#ececec"/><rect x="216.8" y="931.89" width="52.5" height="11.86" fill="#ececec"/><rect x="216.8" y="943.44" width="52.5" height="11.86" fill="#ececec"/><rect x="269.3" y="851.00" width="7.1" height="11.86" fill="#ececec"/><rect x="269.3" y="862.56" width="7.1" height="11.86" fill="#ececec"/><rect x="269.3" y="874.11" width="7.1" height="11.86" fill="#ececec"/><rect x="269.3" y="885.67" width="7.1" height="11.86" fill="#ececec"/><rect x="269.3" y="897.22" width="7.1" height="11.86" fill="#ececec"/><rect x="269.3" y="908.78" width="7.1" height="11.86" fill="#ececec"/><rect x="269.3" y="920.33" width="7.1" height="11.86" fill="#ececec"/><rect x="269.3" y="931.89" width="7.1" height="11.86" fill="#ececec"/><rect x="269.3" y="943.44" width="7.1" height="11.86" fill="#ececec"/><rect x="276.4" y="851.00" width="58.3" height="10.70" fill="#ececec"/><rect x="276.4" y="861.40" width="58.3" height="10.70" fill="#ececec"/><rect x="276.4" y="871.80" width="58.3" height="10.70" fill="#ececec"/><rect x="276.4" y="882.20" width="58.3" height="10.70" fill="#ececec"/><rect x="276.4" y="892.60" width="58.3" height="10.70" fill="#ececec"/><rect x="276.4" y="903.00" width="58.3" height="10.70" fill="#ececec"/><rect x="276.4" y="913.40" width="58.3" height="10.70" fill="#ececec"/><rect x="276.4" y="923.80" width="58.3" height="10.70" fill="#ececec"/><rect x="276.4" y="934.20" width="58.3" height="10.70" fill="#ececec"/><rect x="276.4" y="944.60" width="58.3" height="10.70" fill="#ececec"/><rect x="334.7" y="851.00" width="41.6" height="10.70" fill="#ececec"/><rect x="334.7" y="861.40" width="41.6" height="10.70" fill="#ececec"/><rect x="334.7" y="871.80" width="41.6" height="10.70" fill="#ececec"/><rect x="334.7" y="882.20" width="41.6" height="10.70" fill="#ececec"/><rect x="334.7" y="892.60" width="41.6" height="10.70" fill="#ececec"/><rect x="334.7" y="903.00" width="41.6" height="10.70" fill="#ececec"/><rect x="334.7" y="913.40" width="41.6" height="10.70" fill="#ececec"/><rect x="334.7" y="923.80" width="41.6" height="10.70" fill="#ececec"/><rect x="334.7" y="934.20" width="41.6" height="10.70" fill="#ececec"/><rect x="334.7" y="944.60" width="41.6" height="10.70" fill="#ececec"/><rect x="376.3" y="851.00" width="32.2" height="10.70" fill="#ececec"/><rect x="376.3" y="861.40" width="32.2" height="10.70" fill="#ececec"/><rect x="376.3" y="871.80" width="32.2" height="10.70" fill="#ececec"/><rect x="376.3" y="882.20" width="32.2" height="10.70" fill="#ececec"/><rect x="376.3" y="892.60" width="32.2" height="10.70" fill="#ececec"/><rect x="376.3" y="903.00" width="32.2" height="10.70" fill="#ececec"/><rect x="376.3" y="913.40" width="32.2" height="10.70" fill="#ececec"/><rect x="376.3" y="923.80" width="32.2" height="10.70" fill="#ececec"/><rect x="376.3" y="934.20" width="32.2" height="10.70" fill="#ececec"/><rect x="376.3" y="944.60" width="32.2" height="10.70" fill="#ececec"/><rect x="408.5" y="851.00" width="21.3" height="10.70" fill="#ececec"/><rect x="408.5" y="861.40" width="21.3" height="10.70" fill="#ececec"/><rect x="408.5" y="871.80" width="21.3" height="10.70" fill="#ececec"/><rect x="408.5" y="882.20" width="21.3" height="10.70" fill="#ececec"/><rect x="408.5" y="892.60" width="21.3" height="10.70" fill="#ececec"/><rect x="408.5" y="903.00" width="21.3" height="10.70" fill="#ececec"/><rect x="408.5" y="913.40" width="21.3" height="10.70" fill="#ececec"/><rect x="408.5" y="923.80" width="21.3" height="10.70" fill="#ececec"/><rect x="408.5" y="934.20" width="21.3" height="10.70" fill="#ececec"/><rect x="408.5" y="944.60" width="21.3" height="10.70" fill="#ececec"/><rect x="429.8" y="851.00" width="22.4" height="10.70" fill="#ececec"/><rect x="429.8" y="861.40" width="22.4" height="10.70" fill="#ececec"/><rect x="429.8" y="871.80" width="22.4" height="10.70" fill="#ececec"/><rect x="429.8" y="882.20" width="22.4" height="10.70" fill="#ececec"/><rect x="429.8" y="892.60" width="22.4" height="10.70" fill="#ececec"/><rect x="429.8" y="903.00" width="22.4" height="10.70" fill="#ececec"/><rect x="429.8" y="913.40" width="22.4" height="10.70" fill="#ececec"/><rect x="429.8" y="923.80" width="22.4" height="10.70" fill="#ececec"/><rect x="429.8" y="934.20" width="22.4" height="10.70" fill="#ececec"/><rect x="429.8" y="944.60" width="22.4" height="10.70" fill="#ececec"/><rect x="452.2" y="851.00" width="65.0" height="10.70" fill="#ececec"/><rect x="452.2" y="861.40" width="65.0" height="10.70" fill="#ececec"/><rect x="452.2" y="871.80" width="65.0" height="10.70" fill="#ececec"/><rect x="452.2" y="882.20" width="65.0" height="10.70" fill="#ececec"/><rect x="452.2" y="892.60" width="65.0" height="10.70" fill="#ececec"/><rect x="452.2" y="903.00" width="65.0" height="10.70" fill="#ececec"/><rect x="452.2" y="913.40" width="65.0" height="10.70" fill="#ececec"/><rect x="452.2" y="923.80" width="65.0" height="10.70" fill="#ececec"/><rect x="452.2" y="934.20" width="65.0" height="10.70" fill="#ececec"/><rect x="452.2" y="944.60" width="65.0" height="10.70" fill="#ececec"/><rect x="517.2" y="851.00" width="20.5" height="10.70" fill="#ececec"/><rect x="517.2" y="861.40" width="20.5" height="10.70" fill="#ececec"/><rect x="517.2" y="871.80" width="20.5" height="10.70" fill="#ececec"/><rect x="517.2" y="882.20" width="20.5" height="10.70" fill="#ececec"/><rect x="517.2" y="892.60" width="20.5" height="10.70" fill="#ececec"/><rect x="517.2" y="903.00" width="20.5" height="10.70" fill="#ececec"/><rect x="517.2" y="913.40" width="20.5" height="10.70" fill="#ececec"/><rect x="517.2" y="923.80" width="20.5" height="10.70" fill="#ececec"/><rect x="517.2" y="934.20" width="20.5" height="10.70" fill="#ececec"/><rect x="517.2" y="944.60" width="20.5" height="10.70" fill="#ececec"/><rect x="537.7" y="851.00" width="16.1" height="10.70" fill="#ececec"/><rect x="537.7" y="861.40" width="16.1" height="10.70" fill="#ececec"/><rect x="537.7" y="871.80" width="16.1" height="10.70" fill="#ececec"/><rect x="537.7" y="882.20" width="16.1" height="10.70" fill="#ececec"/><rect x="537.7" y="892.60" width="16.1" height="10.70" fill="#ececec"/><rect x="537.7" y="903.00" width="16.1" height="10.70" fill="#ececec"/><rect x="537.7" y="913.40" width="16.1" height="10.70" fill="#ececec"/><rect x="537.7" y="923.80" width="16.1" height="10.70" fill="#ececec"/><rect x="537.7" y="934.20" width="16.1" height="10.70" fill="#ececec"/><rect x="537.7" y="944.60" width="16.1" height="10.70" fill="#ececec"/><rect x="553.8" y="851.00" width="19.1" height="10.70" fill="#ececec"/><rect x="553.8" y="861.40" width="19.1" height="10.70" fill="#ececec"/><rect x="553.8" y="871.80" width="19.1" height="10.70" fill="#ececec"/><rect x="553.8" y="882.20" width="19.1" height="10.70" fill="#ececec"/><rect x="553.8" y="892.60" width="19.1" height="10.70" fill="#ececec"/><rect x="553.8" y="903.00" width="19.1" height="10.70" fill="#ececec"/><rect x="553.8" y="913.40" width="19.1" height="10.70" fill="#ececec"/><rect x="553.8" y="923.80" width="19.1" height="10.70" fill="#ececec"/><rect x="553.8" y="934.20" width="19.1" height="10.70" fill="#ececec"/><rect x="553.8" y="944.60" width="19.1" height="10.70" fill="#ececec"/><rect x="572.9" y="851.00" width="13.7" height="10.70" fill="#a9a9a9"/><rect x="572.9" y="861.40" width="13.7" height="10.70" fill="#a9a9a9"/><rect x="572.9" y="871.80" width="13.7" height="10.70" fill="#ececec"/><rect x="572.9" y="882.20" width="13.7" height="10.70" fill="#a9a9a9"/><rect x="572.9" y="892.60" width="13.7" height="10.70" fill="#a9a9a9"/><rect x="572.9" y="913.40" width="13.7" height="10.70" fill="#a9a9a9"/><rect x="572.9" y="923.80" width="13.7" height="10.70" fill="#a9a9a9"/><rect x="572.9" y="944.60" width="13.7" height="10.70" fill="#a9a9a9"/><rect x="586.6" y="851.00" width="25.0" height="10.70" fill="#ececec"/><rect x="586.6" y="861.40" width="25.0" height="10.70" fill="#ececec"/><rect x="586.6" y="871.80" width="25.0" height="10.70" fill="#ececec"/><rect x="586.6" y="882.20" width="25.0" height="10.70" fill="#a9a9a9"/><rect x="586.6" y="892.60" width="25.0" height="10.70" fill="#a9a9a9"/><rect x="586.6" y="903.00" width="25.0" height="10.70" fill="#a9a9a9"/><rect x="586.6" y="913.40" width="25.0" height="10.70" fill="#ececec"/><rect x="586.6" y="923.80" width="25.0" height="10.70" fill="#ececec"/><rect x="586.6" y="934.20" width="25.0" height="10.70" fill="#ececec"/><rect x="586.6" y="944.60" width="25.0" height="10.70" fill="#ececec"/><rect x="611.6" y="851.00" width="27.4" height="10.70" fill="#ececec"/><rect x="611.6" y="861.40" width="27.4" height="10.70" fill="#ececec"/><rect x="611.6" y="871.80" width="27.4" height="10.70" fill="#ececec"/><rect x="611.6" y="882.20" width="27.4" height="10.70" fill="#a9a9a9"/><rect x="611.6" y="892.60" width="27.4" height="10.70" fill="#a9a9a9"/><rect x="611.6" y="903.00" width="27.4" height="10.70" fill="#a9a9a9"/><rect x="611.6" y="913.40" width="27.4" height="10.70" fill="#ececec"/><rect x="611.6" y="923.80" width="27.4" height="10.70" fill="#ececec"/><rect x="611.6" y="934.20" width="27.4" height="10.70" fill="#ececec"/><rect x="611.6" y="944.60" width="27.4" height="10.70" fill="#ececec"/><rect x="639.0" y="851.00" width="26.2" height="10.70" fill="#ececec"/><rect x="639.0" y="861.40" width="26.2" height="10.70" fill="#ececec"/><rect x="639.0" y="871.80" width="26.2" height="10.70" fill="#ececec"/><rect x="639.0" y="882.20" width="26.2" height="10.70" fill="#ececec"/><rect x="639.0" y="892.60" width="26.2" height="10.70" fill="#ececec"/><rect x="639.0" y="903.00" width="26.2" height="10.70" fill="#ececec"/><rect x="639.0" y="913.40" width="26.2" height="10.70" fill="#ececec"/><rect x="639.0" y="923.80" width="26.2" height="10.70" fill="#ececec"/><rect x="639.0" y="934.20" width="26.2" height="10.70" fill="#ececec"/><rect x="639.0" y="944.60" width="26.2" height="10.70" fill="#ececec"/><rect x="665.2" y="851.00" width="320.6" height="10.70" fill="#ececec"/><rect x="665.2" y="861.40" width="320.6" height="10.70" fill="#ececec"/><rect x="665.2" y="871.80" width="320.6" height="10.70" fill="#ececec"/><rect x="665.2" y="882.20" width="320.6" height="10.70" fill="#ececec"/><rect x="665.2" y="892.60" width="320.6" height="10.70" fill="#ececec"/><rect x="665.2" y="903.00" width="320.6" height="10.70" fill="#ececec"/><rect x="665.2" y="913.40" width="320.6" height="10.70" fill="#ececec"/><rect x="665.2" y="923.80" width="320.6" height="10.70" fill="#ececec"/><rect x="665.2" y="934.20" width="320.6" height="10.70" fill="#ececec"/><rect x="665.2" y="944.60" width="320.6" height="10.70" fill="#ececec"/><rect x="165.0" y="955.00" width="13.6" height="10.90" fill="#ececec"/><rect x="165.0" y="976.20" width="13.6" height="10.90" fill="#ececec"/><rect x="165.0" y="986.80" width="13.6" height="10.90" fill="#ececec"/><rect x="165.0" y="997.40" width="13.6" height="10.90" fill="#ececec"/><rect x="165.0" y="1008.00" width="13.6" height="10.90" fill="#ececec"/><rect x="165.0" y="1039.80" width="13.6" height="10.90" fill="#ececec"/><rect x="165.0" y="1050.40" width="13.6" height="10.90" fill="#ececec"/><rect x="178.6" y="955.00" width="38.2" height="10.90" fill="#ececec"/><rect x="178.6" y="965.60" width="38.2" height="10.90" fill="#ececec"/><rect x="178.6" y="976.20" width="38.2" height="10.90" fill="#ececec"/><rect x="178.6" y="986.80" width="38.2" height="10.90" fill="#ececec"/><rect x="178.6" y="997.40" width="38.2" height="10.90" fill="#ececec"/><rect x="178.6" y="1008.00" width="38.2" height="10.90" fill="#ececec"/><rect x="178.6" y="1018.60" width="38.2" height="10.90" fill="#ececec"/><rect x="178.6" y="1029.20" width="38.2" height="10.90" fill="#ececec"/><rect x="178.6" y="1039.80" width="38.2" height="10.90" fill="#ececec"/><rect x="178.6" y="1050.40" width="38.2" height="10.90" fill="#ececec"/><rect x="216.8" y="955.00" width="52.5" height="10.90" fill="#ececec"/><rect x="216.8" y="965.60" width="52.5" height="10.90" fill="#ececec"/><rect x="216.8" y="976.20" width="52.5" height="10.90" fill="#ececec"/><rect x="216.8" y="986.80" width="52.5" height="10.90" fill="#a9a9a9"/><rect x="216.8" y="997.40" width="52.5" height="10.90" fill="#ececec"/><rect x="216.8" y="1008.00" width="52.5" height="10.90" fill="#ececec"/><rect x="216.8" y="1018.60" width="52.5" height="10.90" fill="#ececec"/><rect x="216.8" y="1029.20" width="52.5" height="10.90" fill="#a9a9a9"/><rect x="216.8" y="1039.80" width="52.5" height="10.90" fill="#a9a9a9"/><rect x="216.8" y="1050.40" width="52.5" height="10.90" fill="#a9a9a9"/><rect x="269.3" y="955.00" width="7.1" height="10.90" fill="#ececec"/><rect x="269.3" y="965.60" width="7.1" height="10.90" fill="#ececec"/><rect x="269.3" y="976.20" width="7.1" height="10.90" fill="#ececec"/><rect x="269.3" y="986.80" width="7.1" height="10.90" fill="#a9a9a9"/><rect x="269.3" y="997.40" width="7.1" height="10.90" fill="#ececec"/><rect x="269.3" y="1008.00" width="7.1" height="10.90" fill="#ececec"/><rect x="269.3" y="1018.60" width="7.1" height="10.90" fill="#ececec"/><rect x="269.3" y="1029.20" width="7.1" height="10.90" fill="#a9a9a9"/><rect x="269.3" y="1039.80" width="7.1" height="10.90" fill="#a9a9a9"/><rect x="269.3" y="1050.40" width="7.1" height="10.90" fill="#a9a9a9"/><rect x="276.4" y="955.00" width="58.3" height="10.90" fill="#ececec"/><rect x="276.4" y="965.60" width="58.3" height="10.90" fill="#ececec"/><rect x="276.4" y="976.20" width="58.3" height="10.90" fill="#ececec"/><rect x="276.4" y="986.80" width="58.3" height="10.90" fill="#a9a9a9"/><rect x="276.4" y="997.40" width="58.3" height="10.90" fill="#ececec"/><rect x="276.4" y="1008.00" width="58.3" height="10.90" fill="#ececec"/><rect x="276.4" y="1018.60" width="58.3" height="10.90" fill="#ececec"/><rect x="276.4" y="1029.20" width="58.3" height="10.90" fill="#a9a9a9"/><rect x="276.4" y="1039.80" width="58.3" height="10.90" fill="#a9a9a9"/><rect x="276.4" y="1050.40" width="58.3" height="10.90" fill="#a9a9a9"/><rect x="334.7" y="955.00" width="41.6" height="10.90" fill="#ececec"/><rect x="334.7" y="965.60" width="41.6" height="10.90" fill="#ececec"/><rect x="334.7" y="976.20" width="41.6" height="10.90" fill="#ececec"/><rect x="334.7" y="986.80" width="41.6" height="10.90" fill="#a9a9a9"/><rect x="334.7" y="997.40" width="41.6" height="10.90" fill="#ececec"/><rect x="334.7" y="1008.00" width="41.6" height="10.90" fill="#ececec"/><rect x="334.7" y="1018.60" width="41.6" height="10.90" fill="#ececec"/><rect x="334.7" y="1029.20" width="41.6" height="10.90" fill="#ececec"/><rect x="334.7" y="1039.80" width="41.6" height="10.90" fill="#a9a9a9"/><rect x="334.7" y="1050.40" width="41.6" height="10.90" fill="#a9a9a9"/><rect x="376.3" y="955.00" width="32.2" height="10.90" fill="#ececec"/><rect x="376.3" y="965.60" width="32.2" height="10.90" fill="#ececec"/><rect x="376.3" y="976.20" width="32.2" height="10.90" fill="#ececec"/><rect x="376.3" y="986.80" width="32.2" height="10.90" fill="#a9a9a9"/><rect x="376.3" y="997.40" width="32.2" height="10.90" fill="#ececec"/><rect x="376.3" y="1008.00" width="32.2" height="10.90" fill="#ececec"/><rect x="376.3" y="1018.60" width="32.2" height="10.90" fill="#ececec"/><rect x="376.3" y="1029.20" width="32.2" height="10.90" fill="#ececec"/><rect x="376.3" y="1039.80" width="32.2" height="10.90" fill="#a9a9a9"/><rect x="376.3" y="1050.40" width="32.2" height="10.90" fill="#a9a9a9"/><rect x="408.5" y="955.00" width="21.3" height="10.90" fill="#ececec"/><rect x="408.5" y="965.60" width="21.3" height="10.90" fill="#ececec"/><rect x="408.5" y="976.20" width="21.3" height="10.90" fill="#ececec"/><rect x="408.5" y="986.80" width="21.3" height="10.90" fill="#a9a9a9"/><rect x="408.5" y="997.40" width="21.3" height="10.90" fill="#ececec"/><rect x="408.5" y="1008.00" width="21.3" height="10.90" fill="#ececec"/><rect x="408.5" y="1018.60" width="21.3" height="10.90" fill="#ececec"/><rect x="408.5" y="1029.20" width="21.3" height="10.90" fill="#ececec"/><rect x="408.5" y="1039.80" width="21.3" height="10.90" fill="#a9a9a9"/><rect x="408.5" y="1050.40" width="21.3" height="10.90" fill="#a9a9a9"/><rect x="429.8" y="955.00" width="22.4" height="10.90" fill="#ececec"/><rect x="429.8" y="965.60" width="22.4" height="10.90" fill="#ececec"/><rect x="429.8" y="976.20" width="22.4" height="10.90" fill="#ececec"/><rect x="429.8" y="986.80" width="22.4" height="10.90" fill="#a9a9a9"/><rect x="429.8" y="997.40" width="22.4" height="10.90" fill="#ececec"/><rect x="429.8" y="1008.00" width="22.4" height="10.90" fill="#ececec"/><rect x="429.8" y="1018.60" width="22.4" height="10.90" fill="#ececec"/><rect x="429.8" y="1029.20" width="22.4" height="10.90" fill="#ececec"/><rect x="429.8" y="1039.80" width="22.4" height="10.90" fill="#a9a9a9"/><rect x="429.8" y="1050.40" width="22.4" height="10.90" fill="#a9a9a9"/><rect x="452.2" y="955.00" width="65.0" height="10.90" fill="#ececec"/><rect x="452.2" y="965.60" width="65.0" height="10.90" fill="#ececec"/><rect x="452.2" y="976.20" width="65.0" height="10.90" fill="#ececec"/><rect x="452.2" y="986.80" width="65.0" height="10.90" fill="#ececec"/><rect x="452.2" y="997.40" width="65.0" height="10.90" fill="#ececec"/><rect x="452.2" y="1008.00" width="65.0" height="10.90" fill="#ececec"/><rect x="452.2" y="1018.60" width="65.0" height="10.90" fill="#ececec"/><rect x="452.2" y="1029.20" width="65.0" height="10.90" fill="#a9a9a9"/><rect x="452.2" y="1039.80" width="65.0" height="10.90" fill="#a9a9a9"/><rect x="452.2" y="1050.40" width="65.0" height="10.90" fill="#a9a9a9"/><rect x="517.2" y="955.00" width="20.5" height="10.90" fill="#ececec"/><rect x="517.2" y="965.60" width="20.5" height="10.90" fill="#ececec"/><rect x="517.2" y="976.20" width="20.5" height="10.90" fill="#a9a9a9"/><rect x="517.2" y="986.80" width="20.5" height="10.90" fill="#a9a9a9"/><rect x="517.2" y="997.40" width="20.5" height="10.90" fill="#ececec"/><rect x="517.2" y="1008.00" width="20.5" height="10.90" fill="#ececec"/><rect x="517.2" y="1018.60" width="20.5" height="10.90" fill="#a9a9a9"/><rect x="517.2" y="1029.20" width="20.5" height="10.90" fill="#a9a9a9"/><rect x="517.2" y="1039.80" width="20.5" height="10.90" fill="#a9a9a9"/><rect x="517.2" y="1050.40" width="20.5" height="10.90" fill="#a9a9a9"/><rect x="537.7" y="955.00" width="16.1" height="10.90" fill="#ececec"/><rect x="537.7" y="965.60" width="16.1" height="10.90" fill="#ececec"/><rect x="537.7" y="976.20" width="16.1" height="10.90" fill="#a9a9a9"/><rect x="537.7" y="986.80" width="16.1" height="10.90" fill="#a9a9a9"/><rect x="537.7" y="997.40" width="16.1" height="10.90" fill="#ececec"/><rect x="537.7" y="1008.00" width="16.1" height="10.90" fill="#ececec"/><rect x="537.7" y="1018.60" width="16.1" height="10.90" fill="#a9a9a9"/><rect x="537.7" y="1029.20" width="16.1" height="10.90" fill="#a9a9a9"/><rect x="537.7" y="1039.80" width="16.1" height="10.90" fill="#a9a9a9"/><rect x="537.7" y="1050.40" width="16.1" height="10.90" fill="#a9a9a9"/><rect x="553.8" y="955.00" width="19.1" height="10.90" fill="#ececec"/><rect x="553.8" y="965.60" width="19.1" height="10.90" fill="#ececec"/><rect x="553.8" y="976.20" width="19.1" height="10.90" fill="#a9a9a9"/><rect x="553.8" y="986.80" width="19.1" height="10.90" fill="#a9a9a9"/><rect x="553.8" y="997.40" width="19.1" height="10.90" fill="#ececec"/><rect x="553.8" y="1008.00" width="19.1" height="10.90" fill="#ececec"/><rect x="553.8" y="1018.60" width="19.1" height="10.90" fill="#a9a9a9"/><rect x="553.8" y="1029.20" width="19.1" height="10.90" fill="#a9a9a9"/><rect x="553.8" y="1039.80" width="19.1" height="10.90" fill="#a9a9a9"/><rect x="553.8" y="1050.40" width="19.1" height="10.90" fill="#a9a9a9"/><rect x="572.9" y="955.00" width="13.7" height="10.90" fill="#ececec"/><rect x="572.9" y="965.60" width="13.7" height="10.90" fill="#ececec"/><rect x="572.9" y="976.20" width="13.7" height="10.90" fill="#a9a9a9"/><rect x="572.9" y="986.80" width="13.7" height="10.90" fill="#a9a9a9"/><rect x="572.9" y="997.40" width="13.7" height="10.90" fill="#ececec"/><rect x="572.9" y="1008.00" width="13.7" height="10.90" fill="#ececec"/><rect x="572.9" y="1018.60" width="13.7" height="10.90" fill="#a9a9a9"/><rect x="572.9" y="1029.20" width="13.7" height="10.90" fill="#a9a9a9"/><rect x="572.9" y="1039.80" width="13.7" height="10.90" fill="#a9a9a9"/><rect x="572.9" y="1050.40" width="13.7" height="10.90" fill="#a9a9a9"/><rect x="586.6" y="955.00" width="25.0" height="10.90" fill="#ececec"/><rect x="586.6" y="965.60" width="25.0" height="10.90" fill="#ececec"/><rect x="586.6" y="976.20" width="25.0" height="10.90" fill="#ececec"/><rect x="586.6" y="986.80" width="25.0" height="10.90" fill="#a9a9a9"/><rect x="586.6" y="997.40" width="25.0" height="10.90" fill="#ececec"/><rect x="586.6" y="1008.00" width="25.0" height="10.90" fill="#ececec"/><rect x="586.6" y="1018.60" width="25.0" height="10.90" fill="#ececec"/><rect x="586.6" y="1029.20" width="25.0" height="10.90" fill="#a9a9a9"/><rect x="586.6" y="1039.80" width="25.0" height="10.90" fill="#a9a9a9"/><rect x="586.6" y="1050.40" width="25.0" height="10.90" fill="#a9a9a9"/><rect x="611.6" y="955.00" width="27.4" height="10.90" fill="#ececec"/><rect x="611.6" y="965.60" width="27.4" height="10.90" fill="#ececec"/><rect x="611.6" y="976.20" width="27.4" height="10.90" fill="#ececec"/><rect x="611.6" y="986.80" width="27.4" height="10.90" fill="#a9a9a9"/><rect x="611.6" y="997.40" width="27.4" height="10.90" fill="#ececec"/><rect x="611.6" y="1008.00" width="27.4" height="10.90" fill="#ececec"/><rect x="611.6" y="1018.60" width="27.4" height="10.90" fill="#ececec"/><rect x="611.6" y="1029.20" width="27.4" height="10.90" fill="#a9a9a9"/><rect x="611.6" y="1039.80" width="27.4" height="10.90" fill="#a9a9a9"/><rect x="611.6" y="1050.40" width="27.4" height="10.90" fill="#a9a9a9"/><rect x="639.0" y="955.00" width="26.2" height="10.90" fill="#ececec"/><rect x="639.0" y="965.60" width="26.2" height="10.90" fill="#ececec"/><rect x="639.0" y="976.20" width="26.2" height="10.90" fill="#ececec"/><rect x="639.0" y="986.80" width="26.2" height="10.90" fill="#ececec"/><rect x="639.0" y="997.40" width="26.2" height="10.90" fill="#ececec"/><rect x="639.0" y="1008.00" width="26.2" height="10.90" fill="#ececec"/><rect x="639.0" y="1018.60" width="26.2" height="10.90" fill="#ececec"/><rect x="639.0" y="1029.20" width="26.2" height="10.90" fill="#ececec"/><rect x="639.0" y="1039.80" width="26.2" height="10.90" fill="#ececec"/><rect x="639.0" y="1050.40" width="26.2" height="10.90" fill="#ececec"/><rect x="665.2" y="955.00" width="320.6" height="10.90" fill="#ececec"/><rect x="665.2" y="965.60" width="320.6" height="10.90" fill="#ececec"/><rect x="665.2" y="976.20" width="320.6" height="10.90" fill="#ececec"/><rect x="665.2" y="986.80" width="320.6" height="10.90" fill="#ececec"/><rect x="665.2" y="997.40" width="320.6" height="10.90" fill="#ececec"/><rect x="665.2" y="1008.00" width="320.6" height="10.90" fill="#ececec"/><rect x="665.2" y="1018.60" width="320.6" height="10.90" fill="#ececec"/><rect x="665.2" y="1029.20" width="320.6" height="10.90" fill="#ececec"/><rect x="665.2" y="1039.80" width="320.6" height="10.90" fill="#ececec"/><rect x="665.2" y="1050.40" width="320.6" height="10.90" fill="#ececec"/><rect x="269.3" y="1092.50" width="7.1" height="10.80" fill="#a9a9a9"/><rect x="269.3" y="1113.50" width="7.1" height="10.80" fill="#a9a9a9"/><rect x="376.3" y="1071.50" width="32.2" height="10.80" fill="#a9a9a9"/><rect x="376.3" y="1092.50" width="32.2" height="10.80" fill="#a9a9a9"/><rect x="376.3" y="1113.50" width="32.2" height="10.80" fill="#a9a9a9"/><rect x="376.3" y="1134.50" width="32.2" height="10.80" fill="#a9a9a9"/><rect x="537.7" y="1092.50" width="16.1" height="10.80" fill="#a9a9a9"/><rect x="537.7" y="1113.50" width="16.1" height="10.80" fill="#a9a9a9"/><rect x="537.7" y="1145.00" width="16.1" height="10.80" fill="#a9a9a9"/><rect x="586.6" y="1061.00" width="25.0" height="10.80" fill="#ececec"/><rect x="586.6" y="1071.50" width="25.0" height="10.80" fill="#ececec"/><rect x="586.6" y="1082.00" width="25.0" height="10.80" fill="#a9a9a9"/><rect x="586.6" y="1092.50" width="25.0" height="10.80" fill="#ececec"/><rect x="586.6" y="1103.00" width="25.0" height="10.80" fill="#a9a9a9"/><rect x="586.6" y="1124.00" width="25.0" height="10.80" fill="#ececec"/><rect x="586.6" y="1134.50" width="25.0" height="10.80" fill="#a9a9a9"/><rect x="586.6" y="1145.00" width="25.0" height="10.80" fill="#a9a9a9"/><rect x="586.6" y="1155.50" width="25.0" height="10.80" fill="#ececec"/><rect x="611.6" y="1061.00" width="27.4" height="10.80" fill="#a9a9a9"/><rect x="611.6" y="1071.50" width="27.4" height="10.80" fill="#a9a9a9"/><rect x="611.6" y="1082.00" width="27.4" height="10.80" fill="#a9a9a9"/><rect x="611.6" y="1092.50" width="27.4" height="10.80" fill="#a9a9a9"/><rect x="611.6" y="1124.00" width="27.4" height="10.80" fill="#a9a9a9"/><rect x="611.6" y="1145.00" width="27.4" height="10.80" fill="#ececec"/><rect x="611.6" y="1155.50" width="27.4" height="10.80" fill="#ececec"/><rect x="639.0" y="1061.00" width="26.2" height="10.80" fill="#a9a9a9"/><rect x="639.0" y="1082.00" width="26.2" height="10.80" fill="#a9a9a9"/><rect x="639.0" y="1092.50" width="26.2" height="10.80" fill="#a9a9a9"/><rect x="639.0" y="1113.50" width="26.2" height="10.80" fill="#a9a9a9"/><rect x="639.0" y="1124.00" width="26.2" height="10.80" fill="#a9a9a9"/><rect x="639.0" y="1134.50" width="26.2" height="10.80" fill="#a9a9a9"/><rect x="639.0" y="1145.00" width="26.2" height="10.80" fill="#a9a9a9"/><rect x="639.0" y="1155.50" width="26.2" height="10.80" fill="#a9a9a9"/><rect x="665.2" y="1071.50" width="320.6" height="10.80" fill="#a9a9a9"/><rect x="665.2" y="1082.00" width="320.6" height="10.80" fill="#a9a9a9"/><rect x="665.2" y="1092.50" width="320.6" height="10.80" fill="#a9a9a9"/><rect x="665.2" y="1113.50" width="320.6" height="10.80" fill="#a9a9a9"/><rect x="665.2" y="1124.00" width="320.6" height="10.80" fill="#a9a9a9"/><rect x="665.2" y="1134.50" width="320.6" height="10.80" fill="#a9a9a9"/><rect x="665.2" y="1145.00" width="320.6" height="10.80" fill="#a9a9a9"/><rect x="665.2" y="1155.50" width="320.6" height="10.80" fill="#a9a9a9"/><rect x="165.0" y="1166.00" width="13.6" height="10.80" fill="#a9a9a9"/><rect x="165.0" y="1197.50" width="13.6" height="10.80" fill="#a9a9a9"/><rect x="165.0" y="1250.00" width="13.6" height="10.80" fill="#a9a9a9"/><rect x="165.0" y="1260.50" width="13.6" height="10.80" fill="#a9a9a9"/><rect x="178.6" y="1166.00" width="38.2" height="10.80" fill="#ececec"/><rect x="178.6" y="1176.50" width="38.2" height="10.80" fill="#ececec"/><rect x="178.6" y="1187.00" width="38.2" height="10.80" fill="#ececec"/><rect x="178.6" y="1197.50" width="38.2" height="10.80" fill="#ececec"/><rect x="178.6" y="1208.00" width="38.2" height="10.80" fill="#ececec"/><rect x="178.6" y="1218.50" width="38.2" height="10.80" fill="#ececec"/><rect x="178.6" y="1229.00" width="38.2" height="10.80" fill="#ececec"/><rect x="178.6" y="1239.50" width="38.2" height="10.80" fill="#ececec"/><rect x="178.6" y="1250.00" width="38.2" height="10.80" fill="#ececec"/><rect x="178.6" y="1260.50" width="38.2" height="10.80" fill="#ececec"/><rect x="216.8" y="1166.00" width="52.5" height="10.80" fill="#ececec"/><rect x="216.8" y="1176.50" width="52.5" height="10.80" fill="#ececec"/><rect x="216.8" y="1187.00" width="52.5" height="10.80" fill="#a9a9a9"/><rect x="216.8" y="1197.50" width="52.5" height="10.80" fill="#ececec"/><rect x="216.8" y="1208.00" width="52.5" height="10.80" fill="#ececec"/><rect x="216.8" y="1218.50" width="52.5" height="10.80" fill="#a9a9a9"/><rect x="216.8" y="1229.00" width="52.5" height="10.80" fill="#ececec"/><rect x="216.8" y="1239.50" width="52.5" height="10.80" fill="#ececec"/><rect x="216.8" y="1250.00" width="52.5" height="10.80" fill="#ececec"/><rect x="216.8" y="1260.50" width="52.5" height="10.80" fill="#ececec"/><rect x="269.3" y="1166.00" width="7.1" height="10.80" fill="#ececec"/><rect x="269.3" y="1176.50" width="7.1" height="10.80" fill="#ececec"/><rect x="269.3" y="1187.00" width="7.1" height="10.80" fill="#a9a9a9"/><rect x="269.3" y="1197.50" width="7.1" height="10.80" fill="#ececec"/><rect x="269.3" y="1208.00" width="7.1" height="10.80" fill="#ececec"/><rect x="269.3" y="1218.50" width="7.1" height="10.80" fill="#a9a9a9"/><rect x="269.3" y="1229.00" width="7.1" height="10.80" fill="#ececec"/><rect x="269.3" y="1239.50" width="7.1" height="10.80" fill="#ececec"/><rect x="269.3" y="1250.00" width="7.1" height="10.80" fill="#ececec"/><rect x="269.3" y="1260.50" width="7.1" height="10.80" fill="#ececec"/><rect x="276.4" y="1166.00" width="58.3" height="10.80" fill="#ececec"/><rect x="276.4" y="1176.50" width="58.3" height="10.80" fill="#a9a9a9"/><rect x="276.4" y="1187.00" width="58.3" height="10.80" fill="#a9a9a9"/><rect x="276.4" y="1197.50" width="58.3" height="10.80" fill="#a9a9a9"/><rect x="276.4" y="1218.50" width="58.3" height="10.80" fill="#a9a9a9"/><rect x="276.4" y="1229.00" width="58.3" height="10.80" fill="#a9a9a9"/><rect x="276.4" y="1239.50" width="58.3" height="10.80" fill="#a9a9a9"/><rect x="276.4" y="1250.00" width="58.3" height="10.80" fill="#ececec"/><rect x="276.4" y="1260.50" width="58.3" height="10.80" fill="#ececec"/><rect x="334.7" y="1166.00" width="41.6" height="10.80" fill="#ececec"/><rect x="334.7" y="1176.50" width="41.6" height="10.80" fill="#a9a9a9"/><rect x="334.7" y="1187.00" width="41.6" height="10.80" fill="#ececec"/><rect x="334.7" y="1197.50" width="41.6" height="10.80" fill="#ececec"/><rect x="334.7" y="1208.00" width="41.6" height="10.80" fill="#a9a9a9"/><rect x="334.7" y="1218.50" width="41.6" height="10.80" fill="#ececec"/><rect x="334.7" y="1229.00" width="41.6" height="10.80" fill="#ececec"/><rect x="334.7" y="1239.50" width="41.6" height="10.80" fill="#ececec"/><rect x="334.7" y="1250.00" width="41.6" height="10.80" fill="#ececec"/><rect x="334.7" y="1260.50" width="41.6" height="10.80" fill="#ececec"/><rect x="376.3" y="1197.50" width="32.2" height="10.80" fill="#a9a9a9"/><rect x="376.3" y="1239.50" width="32.2" height="10.80" fill="#a9a9a9"/><rect x="376.3" y="1250.00" width="32.2" height="10.80" fill="#a9a9a9"/><rect x="376.3" y="1260.50" width="32.2" height="10.80" fill="#a9a9a9"/><rect x="408.5" y="1197.50" width="21.3" height="10.80" fill="#a9a9a9"/><rect x="408.5" y="1239.50" width="21.3" height="10.80" fill="#a9a9a9"/><rect x="408.5" y="1250.00" width="21.3" height="10.80" fill="#a9a9a9"/><rect x="408.5" y="1260.50" width="21.3" height="10.80" fill="#a9a9a9"/><rect x="429.8" y="1197.50" width="22.4" height="10.80" fill="#a9a9a9"/><rect x="429.8" y="1239.50" width="22.4" height="10.80" fill="#a9a9a9"/><rect x="429.8" y="1250.00" width="22.4" height="10.80" fill="#a9a9a9"/><rect x="429.8" y="1260.50" width="22.4" height="10.80" fill="#a9a9a9"/><rect x="452.2" y="1187.00" width="65.0" height="10.80" fill="#a9a9a9"/><rect x="452.2" y="1197.50" width="65.0" height="10.80" fill="#a9a9a9"/><rect x="452.2" y="1239.50" width="65.0" height="10.80" fill="#a9a9a9"/><rect x="452.2" y="1250.00" width="65.0" height="10.80" fill="#a9a9a9"/><rect x="452.2" y="1260.50" width="65.0" height="10.80" fill="#a9a9a9"/><rect x="517.2" y="1197.50" width="20.5" height="10.80" fill="#a9a9a9"/><rect x="517.2" y="1239.50" width="20.5" height="10.80" fill="#a9a9a9"/><rect x="517.2" y="1250.00" width="20.5" height="10.80" fill="#a9a9a9"/><rect x="517.2" y="1260.50" width="20.5" height="10.80" fill="#a9a9a9"/><rect x="537.7" y="1197.50" width="16.1" height="10.80" fill="#a9a9a9"/><rect x="537.7" y="1239.50" width="16.1" height="10.80" fill="#a9a9a9"/><rect x="537.7" y="1250.00" width="16.1" height="10.80" fill="#a9a9a9"/><rect x="537.7" y="1260.50" width="16.1" height="10.80" fill="#a9a9a9"/><rect x="553.8" y="1166.00" width="19.1" height="10.80" fill="#a9a9a9"/><rect x="553.8" y="1197.50" width="19.1" height="10.80" fill="#a9a9a9"/><rect x="553.8" y="1239.50" width="19.1" height="10.80" fill="#a9a9a9"/><rect x="553.8" y="1250.00" width="19.1" height="10.80" fill="#a9a9a9"/><rect x="553.8" y="1260.50" width="19.1" height="10.80" fill="#a9a9a9"/><rect x="572.9" y="1166.00" width="13.7" height="10.80" fill="#a9a9a9"/><rect x="572.9" y="1187.00" width="13.7" height="10.80" fill="#a9a9a9"/><rect x="572.9" y="1197.50" width="13.7" height="10.80" fill="#a9a9a9"/><rect x="572.9" y="1218.50" width="13.7" height="10.80" fill="#a9a9a9"/><rect x="572.9" y="1239.50" width="13.7" height="10.80" fill="#a9a9a9"/><rect x="572.9" y="1250.00" width="13.7" height="10.80" fill="#a9a9a9"/><rect x="572.9" y="1260.50" width="13.7" height="10.80" fill="#a9a9a9"/><rect x="639.0" y="1187.00" width="26.2" height="10.80" fill="#a9a9a9"/><rect x="639.0" y="1197.50" width="26.2" height="10.80" fill="#a9a9a9"/><rect x="639.0" y="1218.50" width="26.2" height="10.80" fill="#a9a9a9"/><rect x="639.0" y="1229.00" width="26.2" height="10.80" fill="#a9a9a9"/><rect x="639.0" y="1239.50" width="26.2" height="10.80" fill="#a9a9a9"/><rect x="639.0" y="1250.00" width="26.2" height="10.80" fill="#a9a9a9"/><rect x="639.0" y="1260.50" width="26.2" height="10.80" fill="#a9a9a9"/><rect x="665.2" y="1187.00" width="320.6" height="10.80" fill="#a9a9a9"/><rect x="665.2" y="1197.50" width="320.6" height="10.80" fill="#a9a9a9"/><rect x="665.2" y="1218.50" width="320.6" height="10.80" fill="#a9a9a9"/><rect x="665.2" y="1229.00" width="320.6" height="10.80" fill="#a9a9a9"/><rect x="665.2" y="1239.50" width="320.6" height="10.80" fill="#a9a9a9"/><rect x="665.2" y="1250.00" width="320.6" height="10.80" fill="#a9a9a9"/><rect x="665.2" y="1260.50" width="320.6" height="10.80" fill="#a9a9a9"/><rect x="178.6" y="1271.00" width="38.2" height="10.90" fill="#ececec"/><rect x="178.6" y="1281.60" width="38.2" height="10.90" fill="#ececec"/><rect x="178.6" y="1292.20" width="38.2" height="10.90" fill="#a9a9a9"/><rect x="178.6" y="1302.80" width="38.2" height="10.90" fill="#ececec"/><rect x="178.6" y="1313.40" width="38.2" height="10.90" fill="#ececec"/><rect x="178.6" y="1334.60" width="38.2" height="10.90" fill="#ececec"/><rect x="178.6" y="1345.20" width="38.2" height="10.90" fill="#a9a9a9"/><rect x="178.6" y="1355.80" width="38.2" height="10.90" fill="#ececec"/><rect x="216.8" y="1271.00" width="52.5" height="10.90" fill="#a9a9a9"/><rect x="216.8" y="1281.60" width="52.5" height="10.90" fill="#ececec"/><rect x="216.8" y="1292.20" width="52.5" height="10.90" fill="#a9a9a9"/><rect x="216.8" y="1302.80" width="52.5" height="10.90" fill="#ececec"/><rect x="216.8" y="1313.40" width="52.5" height="10.90" fill="#ececec"/><rect x="216.8" y="1324.00" width="52.5" height="10.90" fill="#a9a9a9"/><rect x="216.8" y="1334.60" width="52.5" height="10.90" fill="#ececec"/><rect x="216.8" y="1345.20" width="52.5" height="10.90" fill="#ececec"/><rect x="216.8" y="1355.80" width="52.5" height="10.90" fill="#ececec"/><rect x="216.8" y="1366.40" width="52.5" height="10.90" fill="#a9a9a9"/><rect x="269.3" y="1271.00" width="7.1" height="10.90" fill="#a9a9a9"/><rect x="269.3" y="1281.60" width="7.1" height="10.90" fill="#ececec"/><rect x="269.3" y="1292.20" width="7.1" height="10.90" fill="#a9a9a9"/><rect x="269.3" y="1302.80" width="7.1" height="10.90" fill="#ececec"/><rect x="269.3" y="1313.40" width="7.1" height="10.90" fill="#ececec"/><rect x="269.3" y="1324.00" width="7.1" height="10.90" fill="#a9a9a9"/><rect x="269.3" y="1334.60" width="7.1" height="10.90" fill="#ececec"/><rect x="269.3" y="1345.20" width="7.1" height="10.90" fill="#ececec"/><rect x="269.3" y="1355.80" width="7.1" height="10.90" fill="#ececec"/><rect x="269.3" y="1366.40" width="7.1" height="10.90" fill="#a9a9a9"/><rect x="276.4" y="1281.60" width="58.3" height="10.90" fill="#a9a9a9"/><rect x="276.4" y="1292.20" width="58.3" height="10.90" fill="#a9a9a9"/><rect x="276.4" y="1313.40" width="58.3" height="10.90" fill="#a9a9a9"/><rect x="276.4" y="1324.00" width="58.3" height="10.90" fill="#a9a9a9"/><rect x="276.4" y="1334.60" width="58.3" height="10.90" fill="#a9a9a9"/><rect x="276.4" y="1345.20" width="58.3" height="10.90" fill="#a9a9a9"/><rect x="276.4" y="1355.80" width="58.3" height="10.90" fill="#a9a9a9"/><rect x="334.7" y="1271.00" width="41.6" height="10.90" fill="#a9a9a9"/><rect x="334.7" y="1281.60" width="41.6" height="10.90" fill="#ececec"/><rect x="334.7" y="1292.20" width="41.6" height="10.90" fill="#a9a9a9"/><rect x="334.7" y="1302.80" width="41.6" height="10.90" fill="#ececec"/><rect x="334.7" y="1313.40" width="41.6" height="10.90" fill="#ececec"/><rect x="334.7" y="1324.00" width="41.6" height="10.90" fill="#a9a9a9"/><rect x="334.7" y="1334.60" width="41.6" height="10.90" fill="#ececec"/><rect x="334.7" y="1345.20" width="41.6" height="10.90" fill="#ececec"/><rect x="334.7" y="1355.80" width="41.6" height="10.90" fill="#ececec"/><rect x="334.7" y="1366.40" width="41.6" height="10.90" fill="#a9a9a9"/><rect x="376.3" y="1271.00" width="32.2" height="10.90" fill="#a9a9a9"/><rect x="376.3" y="1281.60" width="32.2" height="10.90" fill="#ececec"/><rect x="376.3" y="1292.20" width="32.2" height="10.90" fill="#a9a9a9"/><rect x="376.3" y="1302.80" width="32.2" height="10.90" fill="#ececec"/><rect x="376.3" y="1313.40" width="32.2" height="10.90" fill="#ececec"/><rect x="376.3" y="1324.00" width="32.2" height="10.90" fill="#a9a9a9"/><rect x="376.3" y="1334.60" width="32.2" height="10.90" fill="#ececec"/><rect x="376.3" y="1345.20" width="32.2" height="10.90" fill="#ececec"/><rect x="376.3" y="1355.80" width="32.2" height="10.90" fill="#ececec"/><rect x="376.3" y="1366.40" width="32.2" height="10.90" fill="#a9a9a9"/><rect x="408.5" y="1281.60" width="21.3" height="10.90" fill="#a9a9a9"/><rect x="408.5" y="1302.80" width="21.3" height="10.90" fill="#a9a9a9"/><rect x="408.5" y="1324.00" width="21.3" height="10.90" fill="#a9a9a9"/><rect x="408.5" y="1345.20" width="21.3" height="10.90" fill="#a9a9a9"/><rect x="408.5" y="1355.80" width="21.3" height="10.90" fill="#a9a9a9"/><rect x="429.8" y="1271.00" width="22.4" height="10.90" fill="#a9a9a9"/><rect x="429.8" y="1281.60" width="22.4" height="10.90" fill="#ececec"/><rect x="429.8" y="1292.20" width="22.4" height="10.90" fill="#a9a9a9"/><rect x="429.8" y="1302.80" width="22.4" height="10.90" fill="#ececec"/><rect x="429.8" y="1313.40" width="22.4" height="10.90" fill="#ececec"/><rect x="429.8" y="1324.00" width="22.4" height="10.90" fill="#ececec"/><rect x="429.8" y="1334.60" width="22.4" height="10.90" fill="#ececec"/><rect x="429.8" y="1345.20" width="22.4" height="10.90" fill="#ececec"/><rect x="429.8" y="1355.80" width="22.4" height="10.90" fill="#ececec"/><rect x="429.8" y="1366.40" width="22.4" height="10.90" fill="#a9a9a9"/><rect x="452.2" y="1271.00" width="65.0" height="10.90" fill="#ececec"/><rect x="452.2" y="1281.60" width="65.0" height="10.90" fill="#ececec"/><rect x="452.2" y="1292.20" width="65.0" height="10.90" fill="#ececec"/><rect x="452.2" y="1302.80" width="65.0" height="10.90" fill="#ececec"/><rect x="452.2" y="1313.40" width="65.0" height="10.90" fill="#ececec"/><rect x="452.2" y="1324.00" width="65.0" height="10.90" fill="#ececec"/><rect x="452.2" y="1334.60" width="65.0" height="10.90" fill="#ececec"/><rect x="452.2" y="1345.20" width="65.0" height="10.90" fill="#ececec"/><rect x="452.2" y="1355.80" width="65.0" height="10.90" fill="#ececec"/><rect x="452.2" y="1366.40" width="65.0" height="10.90" fill="#ececec"/><rect x="517.2" y="1281.60" width="20.5" height="10.90" fill="#a9a9a9"/><rect x="517.2" y="1292.20" width="20.5" height="10.90" fill="#a9a9a9"/><rect x="517.2" y="1313.40" width="20.5" height="10.90" fill="#a9a9a9"/><rect x="517.2" y="1324.00" width="20.5" height="10.90" fill="#a9a9a9"/><rect x="517.2" y="1334.60" width="20.5" height="10.90" fill="#a9a9a9"/><rect x="517.2" y="1345.20" width="20.5" height="10.90" fill="#ececec"/><rect x="517.2" y="1355.80" width="20.5" height="10.90" fill="#ececec"/><rect x="517.2" y="1366.40" width="20.5" height="10.90" fill="#a9a9a9"/><rect x="537.7" y="1281.60" width="16.1" height="10.90" fill="#a9a9a9"/><rect x="537.7" y="1292.20" width="16.1" height="10.90" fill="#a9a9a9"/><rect x="537.7" y="1313.40" width="16.1" height="10.90" fill="#a9a9a9"/><rect x="537.7" y="1324.00" width="16.1" height="10.90" fill="#a9a9a9"/><rect x="537.7" y="1334.60" width="16.1" height="10.90" fill="#a9a9a9"/><rect x="537.7" y="1345.20" width="16.1" height="10.90" fill="#ececec"/><rect x="537.7" y="1355.80" width="16.1" height="10.90" fill="#ececec"/><rect x="537.7" y="1366.40" width="16.1" height="10.90" fill="#a9a9a9"/><rect x="553.8" y="1281.60" width="19.1" height="10.90" fill="#a9a9a9"/><rect x="553.8" y="1302.80" width="19.1" height="10.90" fill="#a9a9a9"/><rect x="553.8" y="1313.40" width="19.1" height="10.90" fill="#a9a9a9"/><rect x="553.8" y="1324.00" width="19.1" height="10.90" fill="#a9a9a9"/><rect x="553.8" y="1334.60" width="19.1" height="10.90" fill="#a9a9a9"/><rect x="553.8" y="1345.20" width="19.1" height="10.90" fill="#a9a9a9"/><rect x="553.8" y="1366.40" width="19.1" height="10.90" fill="#a9a9a9"/><rect x="572.9" y="1281.60" width="13.7" height="10.90" fill="#a9a9a9"/><rect x="572.9" y="1292.20" width="13.7" height="10.90" fill="#a9a9a9"/><rect x="572.9" y="1324.00" width="13.7" height="10.90" fill="#a9a9a9"/><rect x="572.9" y="1334.60" width="13.7" height="10.90" fill="#a9a9a9"/><rect x="572.9" y="1345.20" width="13.7" height="10.90" fill="#a9a9a9"/><rect x="572.9" y="1366.40" width="13.7" height="10.90" fill="#a9a9a9"/><rect x="586.6" y="1281.60" width="25.0" height="10.90" fill="#a9a9a9"/><rect x="586.6" y="1292.20" width="25.0" height="10.90" fill="#a9a9a9"/><rect x="586.6" y="1313.40" width="25.0" height="10.90" fill="#a9a9a9"/><rect x="586.6" y="1324.00" width="25.0" height="10.90" fill="#a9a9a9"/><rect x="586.6" y="1334.60" width="25.0" height="10.90" fill="#a9a9a9"/><rect x="586.6" y="1345.20" width="25.0" height="10.90" fill="#ececec"/><rect x="586.6" y="1355.80" width="25.0" height="10.90" fill="#ececec"/><rect x="586.6" y="1366.40" width="25.0" height="10.90" fill="#ececec"/><rect x="611.6" y="1281.60" width="27.4" height="10.90" fill="#a9a9a9"/><rect x="611.6" y="1292.20" width="27.4" height="10.90" fill="#a9a9a9"/><rect x="611.6" y="1313.40" width="27.4" height="10.90" fill="#a9a9a9"/><rect x="611.6" y="1324.00" width="27.4" height="10.90" fill="#a9a9a9"/><rect x="611.6" y="1334.60" width="27.4" height="10.90" fill="#a9a9a9"/><rect x="611.6" y="1345.20" width="27.4" height="10.90" fill="#ececec"/><rect x="611.6" y="1355.80" width="27.4" height="10.90" fill="#ececec"/><rect x="611.6" y="1366.40" width="27.4" height="10.90" fill="#ececec"/><rect x="639.0" y="1271.00" width="26.2" height="10.90" fill="#ececec"/><rect x="639.0" y="1281.60" width="26.2" height="10.90" fill="#ececec"/><rect x="639.0" y="1292.20" width="26.2" height="10.90" fill="#ececec"/><rect x="639.0" y="1302.80" width="26.2" height="10.90" fill="#ececec"/><rect x="639.0" y="1313.40" width="26.2" height="10.90" fill="#ececec"/><rect x="639.0" y="1324.00" width="26.2" height="10.90" fill="#ececec"/><rect x="639.0" y="1334.60" width="26.2" height="10.90" fill="#ececec"/><rect x="639.0" y="1345.20" width="26.2" height="10.90" fill="#ececec"/><rect x="639.0" y="1355.80" width="26.2" height="10.90" fill="#ececec"/><rect x="639.0" y="1366.40" width="26.2" height="10.90" fill="#ececec"/><rect x="665.2" y="1271.00" width="320.6" height="10.90" fill="#ececec"/><rect x="665.2" y="1281.60" width="320.6" height="10.90" fill="#ececec"/><rect x="665.2" y="1292.20" width="320.6" height="10.90" fill="#ececec"/><rect x="665.2" y="1302.80" width="320.6" height="10.90" fill="#ececec"/><rect x="665.2" y="1313.40" width="320.6" height="10.90" fill="#ececec"/><rect x="665.2" y="1324.00" width="320.6" height="10.90" fill="#ececec"/><rect x="665.2" y="1334.60" width="320.6" height="10.90" fill="#ececec"/><rect x="665.2" y="1345.20" width="320.6" height="10.90" fill="#ececec"/><rect x="665.2" y="1355.80" width="320.6" height="10.90" fill="#ececec"/><rect x="665.2" y="1366.40" width="320.6" height="10.90" fill="#ececec"/><rect x="165.0" y="1419.00" width="13.6" height="10.80" fill="#a9a9a9"/><rect x="165.0" y="1429.50" width="13.6" height="10.80" fill="#a9a9a9"/><rect x="165.0" y="1440.00" width="13.6" height="10.80" fill="#a9a9a9"/><rect x="165.0" y="1450.50" width="13.6" height="10.80" fill="#a9a9a9"/><rect x="165.0" y="1461.00" width="13.6" height="10.80" fill="#a9a9a9"/><rect x="165.0" y="1471.50" width="13.6" height="10.80" fill="#a9a9a9"/><rect x="216.8" y="1471.50" width="52.5" height="10.80" fill="#a9a9a9"/><rect x="269.3" y="1387.50" width="7.1" height="10.80" fill="#a9a9a9"/><rect x="269.3" y="1408.50" width="7.1" height="10.80" fill="#a9a9a9"/><rect x="269.3" y="1419.00" width="7.1" height="10.80" fill="#a9a9a9"/><rect x="269.3" y="1429.50" width="7.1" height="10.80" fill="#a9a9a9"/><rect x="269.3" y="1440.00" width="7.1" height="10.80" fill="#a9a9a9"/><rect x="269.3" y="1450.50" width="7.1" height="10.80" fill="#a9a9a9"/><rect x="276.4" y="1471.50" width="58.3" height="10.80" fill="#a9a9a9"/><rect x="334.7" y="1450.50" width="41.6" height="10.80" fill="#a9a9a9"/><rect x="334.7" y="1461.00" width="41.6" height="10.80" fill="#a9a9a9"/><rect x="334.7" y="1471.50" width="41.6" height="10.80" fill="#a9a9a9"/><rect x="376.3" y="1377.00" width="32.2" height="10.80" fill="#a9a9a9"/><rect x="376.3" y="1387.50" width="32.2" height="10.80" fill="#a9a9a9"/><rect x="376.3" y="1398.00" width="32.2" height="10.80" fill="#a9a9a9"/><rect x="376.3" y="1408.50" width="32.2" height="10.80" fill="#a9a9a9"/><rect x="376.3" y="1419.00" width="32.2" height="10.80" fill="#a9a9a9"/><rect x="376.3" y="1429.50" width="32.2" height="10.80" fill="#a9a9a9"/><rect x="376.3" y="1440.00" width="32.2" height="10.80" fill="#a9a9a9"/><rect x="408.5" y="1471.50" width="21.3" height="10.80" fill="#a9a9a9"/><rect x="429.8" y="1387.50" width="22.4" height="10.80" fill="#a9a9a9"/><rect x="429.8" y="1398.00" width="22.4" height="10.80" fill="#a9a9a9"/><rect x="429.8" y="1408.50" width="22.4" height="10.80" fill="#a9a9a9"/><rect x="429.8" y="1419.00" width="22.4" height="10.80" fill="#a9a9a9"/><rect x="429.8" y="1429.50" width="22.4" height="10.80" fill="#a9a9a9"/><rect x="429.8" y="1440.00" width="22.4" height="10.80" fill="#a9a9a9"/><rect x="429.8" y="1450.50" width="22.4" height="10.80" fill="#a9a9a9"/><rect x="452.2" y="1398.00" width="65.0" height="10.80" fill="#a9a9a9"/><rect x="452.2" y="1408.50" width="65.0" height="10.80" fill="#a9a9a9"/><rect x="452.2" y="1419.00" width="65.0" height="10.80" fill="#a9a9a9"/><rect x="452.2" y="1429.50" width="65.0" height="10.80" fill="#a9a9a9"/><rect x="452.2" y="1440.00" width="65.0" height="10.80" fill="#a9a9a9"/><rect x="452.2" y="1450.50" width="65.0" height="10.80" fill="#a9a9a9"/><rect x="452.2" y="1461.00" width="65.0" height="10.80" fill="#a9a9a9"/><rect x="517.2" y="1450.50" width="20.5" height="10.80" fill="#a9a9a9"/><rect x="517.2" y="1461.00" width="20.5" height="10.80" fill="#a9a9a9"/><rect x="517.2" y="1471.50" width="20.5" height="10.80" fill="#a9a9a9"/><rect x="537.7" y="1450.50" width="16.1" height="10.80" fill="#a9a9a9"/><rect x="537.7" y="1461.00" width="16.1" height="10.80" fill="#a9a9a9"/><rect x="537.7" y="1471.50" width="16.1" height="10.80" fill="#a9a9a9"/><rect x="553.8" y="1471.50" width="19.1" height="10.80" fill="#a9a9a9"/><rect x="572.9" y="1408.50" width="13.7" height="10.80" fill="#a9a9a9"/><rect x="572.9" y="1419.00" width="13.7" height="10.80" fill="#a9a9a9"/><rect x="572.9" y="1429.50" width="13.7" height="10.80" fill="#a9a9a9"/><rect x="572.9" y="1440.00" width="13.7" height="10.80" fill="#a9a9a9"/><rect x="572.9" y="1450.50" width="13.7" height="10.80" fill="#a9a9a9"/><rect x="572.9" y="1461.00" width="13.7" height="10.80" fill="#a9a9a9"/><rect x="586.6" y="1377.00" width="25.0" height="10.80" fill="#a9a9a9"/><rect x="586.6" y="1387.50" width="25.0" height="10.80" fill="#a9a9a9"/><rect x="586.6" y="1398.00" width="25.0" height="10.80" fill="#a9a9a9"/><rect x="586.6" y="1408.50" width="25.0" height="10.80" fill="#a9a9a9"/><rect x="586.6" y="1419.00" width="25.0" height="10.80" fill="#a9a9a9"/><rect x="586.6" y="1429.50" width="25.0" height="10.80" fill="#a9a9a9"/><rect x="586.6" y="1440.00" width="25.0" height="10.80" fill="#a9a9a9"/><rect x="586.6" y="1450.50" width="25.0" height="10.80" fill="#ececec"/><rect x="586.6" y="1461.00" width="25.0" height="10.80" fill="#ececec"/><rect x="586.6" y="1471.50" width="25.0" height="10.80" fill="#ececec"/><rect x="611.6" y="1377.00" width="27.4" height="10.80" fill="#a9a9a9"/><rect x="611.6" y="1387.50" width="27.4" height="10.80" fill="#a9a9a9"/><rect x="611.6" y="1398.00" width="27.4" height="10.80" fill="#a9a9a9"/><rect x="611.6" y="1408.50" width="27.4" height="10.80" fill="#a9a9a9"/><rect x="611.6" y="1419.00" width="27.4" height="10.80" fill="#a9a9a9"/><rect x="611.6" y="1429.50" width="27.4" height="10.80" fill="#a9a9a9"/><rect x="611.6" y="1440.00" width="27.4" height="10.80" fill="#a9a9a9"/><rect x="611.6" y="1450.50" width="27.4" height="10.80" fill="#ececec"/><rect x="611.6" y="1461.00" width="27.4" height="10.80" fill="#ececec"/><rect x="611.6" y="1471.50" width="27.4" height="10.80" fill="#ececec"/><rect x="639.0" y="1377.00" width="26.2" height="10.80" fill="#ececec"/><rect x="639.0" y="1387.50" width="26.2" height="10.80" fill="#ececec"/><rect x="639.0" y="1398.00" width="26.2" height="10.80" fill="#ececec"/><rect x="639.0" y="1408.50" width="26.2" height="10.80" fill="#ececec"/><rect x="639.0" y="1419.00" width="26.2" height="10.80" fill="#ececec"/><rect x="639.0" y="1429.50" width="26.2" height="10.80" fill="#ececec"/><rect x="639.0" y="1440.00" width="26.2" height="10.80" fill="#ececec"/><rect x="639.0" y="1450.50" width="26.2" height="10.80" fill="#ececec"/><rect x="639.0" y="1461.00" width="26.2" height="10.80" fill="#ececec"/><rect x="639.0" y="1471.50" width="26.2" height="10.80" fill="#ececec"/><rect x="665.2" y="1377.00" width="320.6" height="10.80" fill="#ececec"/><rect x="665.2" y="1387.50" width="320.6" height="10.80" fill="#ececec"/><rect x="665.2" y="1398.00" width="320.6" height="10.80" fill="#ececec"/><rect x="665.2" y="1408.50" width="320.6" height="10.80" fill="#ececec"/><rect x="665.2" y="1419.00" width="320.6" height="10.80" fill="#ececec"/><rect x="665.2" y="1429.50" width="320.6" height="10.80" fill="#ececec"/><rect x="665.2" y="1440.00" width="320.6" height="10.80" fill="#ececec"/><rect x="665.2" y="1450.50" width="320.6" height="10.80" fill="#ececec"/><rect x="665.2" y="1461.00" width="320.6" height="10.80" fill="#ececec"/><rect x="665.2" y="1471.50" width="320.6" height="10.80" fill="#ececec"/><rect x="165.0" y="1536.00" width="13.6" height="11.10" fill="#a9a9a9"/><rect x="165.0" y="1546.80" width="13.6" height="11.10" fill="#a9a9a9"/><rect x="165.0" y="1557.60" width="13.6" height="11.10" fill="#a9a9a9"/><rect x="165.0" y="1579.20" width="13.6" height="11.10" fill="#a9a9a9"/><rect x="178.6" y="1482.00" width="38.2" height="11.10" fill="#a9a9a9"/><rect x="178.6" y="1492.80" width="38.2" height="11.10" fill="#a9a9a9"/><rect x="178.6" y="1503.60" width="38.2" height="11.10" fill="#a9a9a9"/><rect x="178.6" y="1514.40" width="38.2" height="11.10" fill="#a9a9a9"/><rect x="178.6" y="1525.20" width="38.2" height="11.10" fill="#a9a9a9"/><rect x="178.6" y="1536.00" width="38.2" height="11.10" fill="#a9a9a9"/><rect x="178.6" y="1546.80" width="38.2" height="11.10" fill="#a9a9a9"/><rect x="178.6" y="1557.60" width="38.2" height="11.10" fill="#a9a9a9"/><rect x="178.6" y="1568.40" width="38.2" height="11.10" fill="#a9a9a9"/><rect x="178.6" y="1579.20" width="38.2" height="11.10" fill="#a9a9a9"/><rect x="216.8" y="1557.60" width="52.5" height="11.10" fill="#a9a9a9"/><rect x="216.8" y="1579.20" width="52.5" height="11.10" fill="#a9a9a9"/><rect x="269.3" y="1557.60" width="7.1" height="11.10" fill="#a9a9a9"/><rect x="269.3" y="1579.20" width="7.1" height="11.10" fill="#a9a9a9"/><rect x="276.4" y="1557.60" width="58.3" height="11.10" fill="#a9a9a9"/><rect x="276.4" y="1579.20" width="58.3" height="11.10" fill="#a9a9a9"/><rect x="334.7" y="1482.00" width="41.6" height="11.10" fill="#a9a9a9"/><rect x="334.7" y="1492.80" width="41.6" height="11.10" fill="#a9a9a9"/><rect x="334.7" y="1503.60" width="41.6" height="11.10" fill="#a9a9a9"/><rect x="334.7" y="1514.40" width="41.6" height="11.10" fill="#a9a9a9"/><rect x="334.7" y="1525.20" width="41.6" height="11.10" fill="#a9a9a9"/><rect x="334.7" y="1536.00" width="41.6" height="11.10" fill="#a9a9a9"/><rect x="334.7" y="1546.80" width="41.6" height="11.10" fill="#a9a9a9"/><rect x="334.7" y="1557.60" width="41.6" height="11.10" fill="#a9a9a9"/><rect x="334.7" y="1568.40" width="41.6" height="11.10" fill="#a9a9a9"/><rect x="334.7" y="1579.20" width="41.6" height="11.10" fill="#a9a9a9"/><rect x="452.2" y="1579.20" width="65.0" height="11.10" fill="#a9a9a9"/><rect x="517.2" y="1557.60" width="20.5" height="11.10" fill="#a9a9a9"/><rect x="517.2" y="1579.20" width="20.5" height="11.10" fill="#a9a9a9"/><rect x="537.7" y="1557.60" width="16.1" height="11.10" fill="#a9a9a9"/><rect x="537.7" y="1579.20" width="16.1" height="11.10" fill="#a9a9a9"/><rect x="553.8" y="1503.60" width="19.1" height="11.10" fill="#a9a9a9"/><rect x="553.8" y="1536.00" width="19.1" height="11.10" fill="#a9a9a9"/><rect x="553.8" y="1546.80" width="19.1" height="11.10" fill="#a9a9a9"/><rect x="553.8" y="1557.60" width="19.1" height="11.10" fill="#a9a9a9"/><rect x="553.8" y="1579.20" width="19.1" height="11.10" fill="#a9a9a9"/><rect x="572.9" y="1482.00" width="13.7" height="11.10" fill="#a9a9a9"/><rect x="572.9" y="1492.80" width="13.7" height="11.10" fill="#a9a9a9"/><rect x="572.9" y="1503.60" width="13.7" height="11.10" fill="#a9a9a9"/><rect x="572.9" y="1525.20" width="13.7" height="11.10" fill="#a9a9a9"/><rect x="572.9" y="1536.00" width="13.7" height="11.10" fill="#a9a9a9"/><rect x="572.9" y="1546.80" width="13.7" height="11.10" fill="#a9a9a9"/><rect x="572.9" y="1557.60" width="13.7" height="11.10" fill="#a9a9a9"/><rect x="572.9" y="1568.40" width="13.7" height="11.10" fill="#a9a9a9"/><rect x="572.9" y="1579.20" width="13.7" height="11.10" fill="#a9a9a9"/><rect x="639.0" y="1482.00" width="26.2" height="11.10" fill="#a9a9a9"/><rect x="639.0" y="1492.80" width="26.2" height="11.10" fill="#a9a9a9"/><rect x="639.0" y="1503.60" width="26.2" height="11.10" fill="#a9a9a9"/><rect x="639.0" y="1514.40" width="26.2" height="11.10" fill="#a9a9a9"/><rect x="639.0" y="1525.20" width="26.2" height="11.10" fill="#a9a9a9"/><rect x="639.0" y="1536.00" width="26.2" height="11.10" fill="#a9a9a9"/><rect x="639.0" y="1546.80" width="26.2" height="11.10" fill="#a9a9a9"/><rect x="639.0" y="1557.60" width="26.2" height="11.10" fill="#a9a9a9"/><rect x="639.0" y="1568.40" width="26.2" height="11.10" fill="#a9a9a9"/><rect x="639.0" y="1579.20" width="26.2" height="11.10" fill="#a9a9a9"/><rect x="665.2" y="1492.80" width="320.6" height="11.10" fill="#a9a9a9"/><rect x="665.2" y="1503.60" width="320.6" height="11.10" fill="#a9a9a9"/><rect x="665.2" y="1525.20" width="320.6" height="11.10" fill="#a9a9a9"/><rect x="665.2" y="1536.00" width="320.6" height="11.10" fill="#a9a9a9"/><rect x="665.2" y="1546.80" width="320.6" height="11.10" fill="#a9a9a9"/><rect x="665.2" y="1557.60" width="320.6" height="11.10" fill="#a9a9a9"/><rect x="665.2" y="1568.40" width="320.6" height="11.10" fill="#a9a9a9"/><rect x="665.2" y="1579.20" width="320.6" height="11.10" fill="#a9a9a9"/></g><g filter="url(#stM)"><rect x="216.8" y="838.50" width="52.5" height="12.80" fill="#131313"/><rect x="269.3" y="826.00" width="7.1" height="12.80" fill="#4e4e4e"/><rect x="269.3" y="838.50" width="7.1" height="12.80" fill="#4e4e4e"/><rect x="334.7" y="826.00" width="41.6" height="12.80" fill="#898989"/><rect x="334.7" y="838.50" width="41.6" height="12.80" fill="#898989"/><rect x="376.3" y="826.00" width="32.2" height="12.80" fill="#131313"/><rect x="376.3" y="838.50" width="32.2" height="12.80" fill="#4e4e4e"/><rect x="429.8" y="826.00" width="22.4" height="12.80" fill="#4e4e4e"/><rect x="429.8" y="838.50" width="22.4" height="12.80" fill="#4e4e4e"/><rect x="452.2" y="838.50" width="65.0" height="12.80" fill="#4e4e4e"/><rect x="537.7" y="826.00" width="16.1" height="12.80" fill="#131313"/><rect x="537.7" y="838.50" width="16.1" height="12.80" fill="#131313"/><rect x="639.0" y="826.00" width="26.2" height="12.80" fill="#4e4e4e"/><rect x="639.0" y="838.50" width="26.2" height="12.80" fill="#4e4e4e"/><rect x="665.2" y="826.00" width="320.6" height="12.80" fill="#131313"/><rect x="665.2" y="838.50" width="320.6" height="12.80" fill="#131313"/><rect x="165.0" y="871.80" width="13.6" height="10.70" fill="#898989"/><rect x="165.0" y="882.20" width="13.6" height="10.70" fill="#4e4e4e"/><rect x="165.0" y="923.80" width="13.6" height="10.70" fill="#4e4e4e"/><rect x="165.0" y="934.20" width="13.6" height="10.70" fill="#898989"/><rect x="572.9" y="903.00" width="13.7" height="10.70" fill="#898989"/><rect x="572.9" y="934.20" width="13.7" height="10.70" fill="#898989"/><rect x="165.0" y="965.60" width="13.6" height="10.90" fill="#898989"/><rect x="165.0" y="1018.60" width="13.6" height="10.90" fill="#898989"/><rect x="165.0" y="1029.20" width="13.6" height="10.90" fill="#898989"/><rect x="165.0" y="1092.50" width="13.6" height="10.80" fill="#898989"/><rect x="165.0" y="1134.50" width="13.6" height="10.80" fill="#131313"/><rect x="165.0" y="1145.00" width="13.6" height="10.80" fill="#4e4e4e"/><rect x="165.0" y="1155.50" width="13.6" height="10.80" fill="#4e4e4e"/><rect x="178.6" y="1155.50" width="38.2" height="10.80" fill="#131313"/><rect x="216.8" y="1092.50" width="52.5" height="10.80" fill="#898989"/><rect x="216.8" y="1113.50" width="52.5" height="10.80" fill="#4e4e4e"/><rect x="269.3" y="1071.50" width="7.1" height="10.80" fill="#4e4e4e"/><rect x="269.3" y="1103.00" width="7.1" height="10.80" fill="#131313"/><rect x="269.3" y="1124.00" width="7.1" height="10.80" fill="#131313"/><rect x="269.3" y="1134.50" width="7.1" height="10.80" fill="#131313"/><rect x="269.3" y="1145.00" width="7.1" height="10.80" fill="#898989"/><rect x="269.3" y="1155.50" width="7.1" height="10.80" fill="#4e4e4e"/><rect x="334.7" y="1092.50" width="41.6" height="10.80" fill="#898989"/><rect x="334.7" y="1103.00" width="41.6" height="10.80" fill="#131313"/><rect x="334.7" y="1113.50" width="41.6" height="10.80" fill="#4e4e4e"/><rect x="334.7" y="1124.00" width="41.6" height="10.80" fill="#131313"/><rect x="334.7" y="1134.50" width="41.6" height="10.80" fill="#4e4e4e"/><rect x="334.7" y="1145.00" width="41.6" height="10.80" fill="#4e4e4e"/><rect x="334.7" y="1155.50" width="41.6" height="10.80" fill="#4e4e4e"/><rect x="376.3" y="1061.00" width="32.2" height="10.80" fill="#4e4e4e"/><rect x="376.3" y="1082.00" width="32.2" height="10.80" fill="#898989"/><rect x="376.3" y="1103.00" width="32.2" height="10.80" fill="#4e4e4e"/><rect x="376.3" y="1124.00" width="32.2" height="10.80" fill="#898989"/><rect x="376.3" y="1145.00" width="32.2" height="10.80" fill="#898989"/><rect x="376.3" y="1155.50" width="32.2" height="10.80" fill="#898989"/><rect x="429.8" y="1061.00" width="22.4" height="10.80" fill="#131313"/><rect x="429.8" y="1071.50" width="22.4" height="10.80" fill="#4e4e4e"/><rect x="429.8" y="1092.50" width="22.4" height="10.80" fill="#898989"/><rect x="429.8" y="1103.00" width="22.4" height="10.80" fill="#131313"/><rect x="429.8" y="1113.50" width="22.4" height="10.80" fill="#898989"/><rect x="429.8" y="1124.00" width="22.4" height="10.80" fill="#4e4e4e"/><rect x="429.8" y="1134.50" width="22.4" height="10.80" fill="#4e4e4e"/><rect x="429.8" y="1145.00" width="22.4" height="10.80" fill="#898989"/><rect x="429.8" y="1155.50" width="22.4" height="10.80" fill="#4e4e4e"/><rect x="452.2" y="1092.50" width="65.0" height="10.80" fill="#131313"/><rect x="452.2" y="1113.50" width="65.0" height="10.80" fill="#131313"/><rect x="452.2" y="1145.00" width="65.0" height="10.80" fill="#131313"/><rect x="452.2" y="1155.50" width="65.0" height="10.80" fill="#131313"/><rect x="517.2" y="1092.50" width="20.5" height="10.80" fill="#131313"/><rect x="517.2" y="1113.50" width="20.5" height="10.80" fill="#4e4e4e"/><rect x="517.2" y="1124.00" width="20.5" height="10.80" fill="#131313"/><rect x="517.2" y="1134.50" width="20.5" height="10.80" fill="#131313"/><rect x="517.2" y="1145.00" width="20.5" height="10.80" fill="#4e4e4e"/><rect x="517.2" y="1155.50" width="20.5" height="10.80" fill="#131313"/><rect x="537.7" y="1061.00" width="16.1" height="10.80" fill="#4e4e4e"/><rect x="537.7" y="1071.50" width="16.1" height="10.80" fill="#898989"/><rect x="537.7" y="1082.00" width="16.1" height="10.80" fill="#898989"/><rect x="537.7" y="1103.00" width="16.1" height="10.80" fill="#4e4e4e"/><rect x="537.7" y="1124.00" width="16.1" height="10.80" fill="#898989"/><rect x="537.7" y="1134.50" width="16.1" height="10.80" fill="#898989"/><rect x="537.7" y="1155.50" width="16.1" height="10.80" fill="#898989"/><rect x="572.9" y="1082.00" width="13.7" height="10.80" fill="#131313"/><rect x="572.9" y="1092.50" width="13.7" height="10.80" fill="#131313"/><rect x="572.9" y="1124.00" width="13.7" height="10.80" fill="#131313"/><rect x="572.9" y="1134.50" width="13.7" height="10.80" fill="#131313"/><rect x="572.9" y="1145.00" width="13.7" height="10.80" fill="#131313"/><rect x="572.9" y="1155.50" width="13.7" height="10.80" fill="#131313"/><rect x="586.6" y="1113.50" width="25.0" height="10.80" fill="#898989"/><rect x="639.0" y="1071.50" width="26.2" height="10.80" fill="#898989"/><rect x="639.0" y="1103.00" width="26.2" height="10.80" fill="#898989"/><rect x="665.2" y="1061.00" width="320.6" height="10.80" fill="#898989"/><rect x="665.2" y="1103.00" width="320.6" height="10.80" fill="#898989"/><rect x="165.0" y="1176.50" width="13.6" height="10.80" fill="#131313"/><rect x="165.0" y="1218.50" width="13.6" height="10.80" fill="#898989"/><rect x="165.0" y="1229.00" width="13.6" height="10.80" fill="#898989"/><rect x="165.0" y="1239.50" width="13.6" height="10.80" fill="#4e4e4e"/><rect x="276.4" y="1208.00" width="58.3" height="10.80" fill="#898989"/><rect x="376.3" y="1166.00" width="32.2" height="10.80" fill="#898989"/><rect x="376.3" y="1176.50" width="32.2" height="10.80" fill="#4e4e4e"/><rect x="376.3" y="1187.00" width="32.2" height="10.80" fill="#898989"/><rect x="376.3" y="1208.00" width="32.2" height="10.80" fill="#4e4e4e"/><rect x="376.3" y="1218.50" width="32.2" height="10.80" fill="#898989"/><rect x="376.3" y="1229.00" width="32.2" height="10.80" fill="#898989"/><rect x="408.5" y="1166.00" width="21.3" height="10.80" fill="#898989"/><rect x="408.5" y="1176.50" width="21.3" height="10.80" fill="#4e4e4e"/><rect x="408.5" y="1187.00" width="21.3" height="10.80" fill="#898989"/><rect x="408.5" y="1208.00" width="21.3" height="10.80" fill="#4e4e4e"/><rect x="408.5" y="1218.50" width="21.3" height="10.80" fill="#898989"/><rect x="408.5" y="1229.00" width="21.3" height="10.80" fill="#898989"/><rect x="429.8" y="1166.00" width="22.4" height="10.80" fill="#898989"/><rect x="429.8" y="1176.50" width="22.4" height="10.80" fill="#4e4e4e"/><rect x="429.8" y="1187.00" width="22.4" height="10.80" fill="#898989"/><rect x="429.8" y="1208.00" width="22.4" height="10.80" fill="#4e4e4e"/><rect x="429.8" y="1218.50" width="22.4" height="10.80" fill="#898989"/><rect x="429.8" y="1229.00" width="22.4" height="10.80" fill="#898989"/><rect x="452.2" y="1166.00" width="65.0" height="10.80" fill="#898989"/><rect x="452.2" y="1176.50" width="65.0" height="10.80" fill="#898989"/><rect x="452.2" y="1208.00" width="65.0" height="10.80" fill="#898989"/><rect x="452.2" y="1218.50" width="65.0" height="10.80" fill="#898989"/><rect x="452.2" y="1229.00" width="65.0" height="10.80" fill="#898989"/><rect x="517.2" y="1166.00" width="20.5" height="10.80" fill="#898989"/><rect x="517.2" y="1176.50" width="20.5" height="10.80" fill="#4e4e4e"/><rect x="517.2" y="1187.00" width="20.5" height="10.80" fill="#898989"/><rect x="517.2" y="1208.00" width="20.5" height="10.80" fill="#898989"/><rect x="517.2" y="1218.50" width="20.5" height="10.80" fill="#898989"/><rect x="517.2" y="1229.00" width="20.5" height="10.80" fill="#898989"/><rect x="537.7" y="1166.00" width="16.1" height="10.80" fill="#898989"/><rect x="537.7" y="1176.50" width="16.1" height="10.80" fill="#4e4e4e"/><rect x="537.7" y="1187.00" width="16.1" height="10.80" fill="#898989"/><rect x="537.7" y="1208.00" width="16.1" height="10.80" fill="#898989"/><rect x="537.7" y="1218.50" width="16.1" height="10.80" fill="#898989"/><rect x="537.7" y="1229.00" width="16.1" height="10.80" fill="#898989"/><rect x="553.8" y="1176.50" width="19.1" height="10.80" fill="#4e4e4e"/><rect x="553.8" y="1187.00" width="19.1" height="10.80" fill="#898989"/><rect x="553.8" y="1208.00" width="19.1" height="10.80" fill="#898989"/><rect x="553.8" y="1218.50" width="19.1" height="10.80" fill="#898989"/><rect x="553.8" y="1229.00" width="19.1" height="10.80" fill="#898989"/><rect x="572.9" y="1176.50" width="13.7" height="10.80" fill="#898989"/><rect x="572.9" y="1208.00" width="13.7" height="10.80" fill="#4e4e4e"/><rect x="572.9" y="1229.00" width="13.7" height="10.80" fill="#898989"/><rect x="586.6" y="1250.00" width="25.0" height="10.80" fill="#131313"/><rect x="586.6" y="1260.50" width="25.0" height="10.80" fill="#4e4e4e"/><rect x="611.6" y="1250.00" width="27.4" height="10.80" fill="#131313"/><rect x="611.6" y="1260.50" width="27.4" height="10.80" fill="#898989"/><rect x="639.0" y="1166.00" width="26.2" height="10.80" fill="#898989"/><rect x="639.0" y="1176.50" width="26.2" height="10.80" fill="#898989"/><rect x="639.0" y="1208.00" width="26.2" height="10.80" fill="#898989"/><rect x="665.2" y="1166.00" width="320.6" height="10.80" fill="#898989"/><rect x="665.2" y="1176.50" width="320.6" height="10.80" fill="#898989"/><rect x="665.2" y="1208.00" width="320.6" height="10.80" fill="#4e4e4e"/><rect x="165.0" y="1334.60" width="13.6" height="10.90" fill="#131313"/><rect x="178.6" y="1324.00" width="38.2" height="10.90" fill="#4e4e4e"/><rect x="178.6" y="1366.40" width="38.2" height="10.90" fill="#898989"/><rect x="276.4" y="1271.00" width="58.3" height="10.90" fill="#131313"/><rect x="276.4" y="1302.80" width="58.3" height="10.90" fill="#898989"/><rect x="276.4" y="1366.40" width="58.3" height="10.90" fill="#898989"/><rect x="408.5" y="1271.00" width="21.3" height="10.90" fill="#131313"/><rect x="408.5" y="1292.20" width="21.3" height="10.90" fill="#898989"/><rect x="408.5" y="1313.40" width="21.3" height="10.90" fill="#4e4e4e"/><rect x="408.5" y="1334.60" width="21.3" height="10.90" fill="#898989"/><rect x="408.5" y="1366.40" width="21.3" height="10.90" fill="#898989"/><rect x="517.2" y="1271.00" width="20.5" height="10.90" fill="#898989"/><rect x="537.7" y="1271.00" width="16.1" height="10.90" fill="#898989"/><rect x="553.8" y="1271.00" width="19.1" height="10.90" fill="#4e4e4e"/><rect x="553.8" y="1292.20" width="19.1" height="10.90" fill="#898989"/><rect x="553.8" y="1355.80" width="19.1" height="10.90" fill="#898989"/><rect x="572.9" y="1271.00" width="13.7" height="10.90" fill="#131313"/><rect x="572.9" y="1302.80" width="13.7" height="10.90" fill="#4e4e4e"/><rect x="572.9" y="1313.40" width="13.7" height="10.90" fill="#898989"/><rect x="572.9" y="1355.80" width="13.7" height="10.90" fill="#4e4e4e"/><rect x="586.6" y="1271.00" width="25.0" height="10.90" fill="#898989"/><rect x="586.6" y="1302.80" width="25.0" height="10.90" fill="#898989"/><rect x="611.6" y="1271.00" width="27.4" height="10.90" fill="#898989"/><rect x="611.6" y="1302.80" width="27.4" height="10.90" fill="#898989"/><rect x="165.0" y="1377.00" width="13.6" height="10.80" fill="#4e4e4e"/><rect x="165.0" y="1387.50" width="13.6" height="10.80" fill="#898989"/><rect x="165.0" y="1398.00" width="13.6" height="10.80" fill="#898989"/><rect x="165.0" y="1408.50" width="13.6" height="10.80" fill="#898989"/><rect x="178.6" y="1471.50" width="38.2" height="10.80" fill="#131313"/><rect x="216.8" y="1377.00" width="52.5" height="10.80" fill="#131313"/><rect x="216.8" y="1387.50" width="52.5" height="10.80" fill="#4e4e4e"/><rect x="216.8" y="1398.00" width="52.5" height="10.80" fill="#131313"/><rect x="216.8" y="1408.50" width="52.5" height="10.80" fill="#4e4e4e"/><rect x="216.8" y="1419.00" width="52.5" height="10.80" fill="#4e4e4e"/><rect x="216.8" y="1429.50" width="52.5" height="10.80" fill="#4e4e4e"/><rect x="216.8" y="1440.00" width="52.5" height="10.80" fill="#4e4e4e"/><rect x="216.8" y="1450.50" width="52.5" height="10.80" fill="#4e4e4e"/><rect x="216.8" y="1461.00" width="52.5" height="10.80" fill="#898989"/><rect x="269.3" y="1377.00" width="7.1" height="10.80" fill="#898989"/><rect x="269.3" y="1398.00" width="7.1" height="10.80" fill="#898989"/><rect x="276.4" y="1408.50" width="58.3" height="10.80" fill="#131313"/><rect x="276.4" y="1419.00" width="58.3" height="10.80" fill="#131313"/><rect x="276.4" y="1450.50" width="58.3" height="10.80" fill="#4e4e4e"/><rect x="276.4" y="1461.00" width="58.3" height="10.80" fill="#898989"/><rect x="334.7" y="1377.00" width="41.6" height="10.80" fill="#4e4e4e"/><rect x="334.7" y="1387.50" width="41.6" height="10.80" fill="#898989"/><rect x="334.7" y="1398.00" width="41.6" height="10.80" fill="#4e4e4e"/><rect x="334.7" y="1408.50" width="41.6" height="10.80" fill="#898989"/><rect x="334.7" y="1419.00" width="41.6" height="10.80" fill="#898989"/><rect x="334.7" y="1429.50" width="41.6" height="10.80" fill="#898989"/><rect x="334.7" y="1440.00" width="41.6" height="10.80" fill="#898989"/><rect x="408.5" y="1387.50" width="21.3" height="10.80" fill="#4e4e4e"/><rect x="408.5" y="1398.00" width="21.3" height="10.80" fill="#131313"/><rect x="408.5" y="1408.50" width="21.3" height="10.80" fill="#4e4e4e"/><rect x="408.5" y="1419.00" width="21.3" height="10.80" fill="#4e4e4e"/><rect x="408.5" y="1429.50" width="21.3" height="10.80" fill="#4e4e4e"/><rect x="408.5" y="1440.00" width="21.3" height="10.80" fill="#4e4e4e"/><rect x="408.5" y="1450.50" width="21.3" height="10.80" fill="#898989"/><rect x="408.5" y="1461.00" width="21.3" height="10.80" fill="#898989"/><rect x="429.8" y="1377.00" width="22.4" height="10.80" fill="#898989"/><rect x="452.2" y="1377.00" width="65.0" height="10.80" fill="#898989"/><rect x="452.2" y="1387.50" width="65.0" height="10.80" fill="#898989"/><rect x="517.2" y="1377.00" width="20.5" height="10.80" fill="#4e4e4e"/><rect x="517.2" y="1387.50" width="20.5" height="10.80" fill="#898989"/><rect x="517.2" y="1398.00" width="20.5" height="10.80" fill="#898989"/><rect x="517.2" y="1408.50" width="20.5" height="10.80" fill="#898989"/><rect x="517.2" y="1419.00" width="20.5" height="10.80" fill="#898989"/><rect x="517.2" y="1429.50" width="20.5" height="10.80" fill="#898989"/><rect x="517.2" y="1440.00" width="20.5" height="10.80" fill="#898989"/><rect x="537.7" y="1377.00" width="16.1" height="10.80" fill="#4e4e4e"/><rect x="537.7" y="1387.50" width="16.1" height="10.80" fill="#898989"/><rect x="537.7" y="1398.00" width="16.1" height="10.80" fill="#898989"/><rect x="537.7" y="1408.50" width="16.1" height="10.80" fill="#898989"/><rect x="537.7" y="1419.00" width="16.1" height="10.80" fill="#898989"/><rect x="537.7" y="1429.50" width="16.1" height="10.80" fill="#898989"/><rect x="537.7" y="1440.00" width="16.1" height="10.80" fill="#898989"/><rect x="553.8" y="1377.00" width="19.1" height="10.80" fill="#131313"/><rect x="553.8" y="1387.50" width="19.1" height="10.80" fill="#4e4e4e"/><rect x="553.8" y="1398.00" width="19.1" height="10.80" fill="#4e4e4e"/><rect x="553.8" y="1408.50" width="19.1" height="10.80" fill="#4e4e4e"/><rect x="553.8" y="1429.50" width="19.1" height="10.80" fill="#4e4e4e"/><rect x="553.8" y="1440.00" width="19.1" height="10.80" fill="#4e4e4e"/><rect x="553.8" y="1450.50" width="19.1" height="10.80" fill="#898989"/><rect x="553.8" y="1461.00" width="19.1" height="10.80" fill="#898989"/><rect x="572.9" y="1377.00" width="13.7" height="10.80" fill="#898989"/><rect x="572.9" y="1387.50" width="13.7" height="10.80" fill="#898989"/><rect x="572.9" y="1398.00" width="13.7" height="10.80" fill="#4e4e4e"/><rect x="165.0" y="1482.00" width="13.6" height="11.10" fill="#898989"/><rect x="165.0" y="1492.80" width="13.6" height="11.10" fill="#898989"/><rect x="165.0" y="1503.60" width="13.6" height="11.10" fill="#4e4e4e"/><rect x="165.0" y="1514.40" width="13.6" height="11.10" fill="#898989"/><rect x="165.0" y="1568.40" width="13.6" height="11.10" fill="#898989"/><rect x="216.8" y="1482.00" width="52.5" height="11.10" fill="#898989"/><rect x="216.8" y="1492.80" width="52.5" height="11.10" fill="#898989"/><rect x="216.8" y="1503.60" width="52.5" height="11.10" fill="#898989"/><rect x="216.8" y="1514.40" width="52.5" height="11.10" fill="#4e4e4e"/><rect x="216.8" y="1525.20" width="52.5" height="11.10" fill="#898989"/><rect x="216.8" y="1536.00" width="52.5" height="11.10" fill="#898989"/><rect x="216.8" y="1546.80" width="52.5" height="11.10" fill="#898989"/><rect x="216.8" y="1568.40" width="52.5" height="11.10" fill="#898989"/><rect x="269.3" y="1482.00" width="7.1" height="11.10" fill="#898989"/><rect x="269.3" y="1492.80" width="7.1" height="11.10" fill="#898989"/><rect x="269.3" y="1503.60" width="7.1" height="11.10" fill="#898989"/><rect x="269.3" y="1514.40" width="7.1" height="11.10" fill="#4e4e4e"/><rect x="269.3" y="1525.20" width="7.1" height="11.10" fill="#898989"/><rect x="269.3" y="1536.00" width="7.1" height="11.10" fill="#898989"/><rect x="269.3" y="1546.80" width="7.1" height="11.10" fill="#898989"/><rect x="269.3" y="1568.40" width="7.1" height="11.10" fill="#898989"/><rect x="276.4" y="1482.00" width="58.3" height="11.10" fill="#898989"/><rect x="276.4" y="1492.80" width="58.3" height="11.10" fill="#898989"/><rect x="276.4" y="1503.60" width="58.3" height="11.10" fill="#4e4e4e"/><rect x="276.4" y="1514.40" width="58.3" height="11.10" fill="#131313"/><rect x="276.4" y="1525.20" width="58.3" height="11.10" fill="#4e4e4e"/><rect x="276.4" y="1536.00" width="58.3" height="11.10" fill="#4e4e4e"/><rect x="276.4" y="1546.80" width="58.3" height="11.10" fill="#898989"/><rect x="276.4" y="1568.40" width="58.3" height="11.10" fill="#4e4e4e"/><rect x="376.3" y="1492.80" width="32.2" height="11.10" fill="#131313"/><rect x="376.3" y="1503.60" width="32.2" height="11.10" fill="#131313"/><rect x="376.3" y="1525.20" width="32.2" height="11.10" fill="#131313"/><rect x="376.3" y="1536.00" width="32.2" height="11.10" fill="#4e4e4e"/><rect x="376.3" y="1546.80" width="32.2" height="11.10" fill="#131313"/><rect x="376.3" y="1557.60" width="32.2" height="11.10" fill="#4e4e4e"/><rect x="376.3" y="1568.40" width="32.2" height="11.10" fill="#131313"/><rect x="376.3" y="1579.20" width="32.2" height="11.10" fill="#4e4e4e"/><rect x="429.8" y="1482.00" width="22.4" height="11.10" fill="#131313"/><rect x="429.8" y="1492.80" width="22.4" height="11.10" fill="#4e4e4e"/><rect x="429.8" y="1503.60" width="22.4" height="11.10" fill="#4e4e4e"/><rect x="429.8" y="1514.40" width="22.4" height="11.10" fill="#131313"/><rect x="429.8" y="1525.20" width="22.4" height="11.10" fill="#4e4e4e"/><rect x="429.8" y="1536.00" width="22.4" height="11.10" fill="#898989"/><rect x="429.8" y="1546.80" width="22.4" height="11.10" fill="#4e4e4e"/><rect x="429.8" y="1557.60" width="22.4" height="11.10" fill="#898989"/><rect x="429.8" y="1568.40" width="22.4" height="11.10" fill="#4e4e4e"/><rect x="429.8" y="1579.20" width="22.4" height="11.10" fill="#898989"/><rect x="452.2" y="1482.00" width="65.0" height="11.10" fill="#4e4e4e"/><rect x="452.2" y="1492.80" width="65.0" height="11.10" fill="#898989"/><rect x="452.2" y="1503.60" width="65.0" height="11.10" fill="#898989"/><rect x="452.2" y="1514.40" width="65.0" height="11.10" fill="#131313"/><rect x="452.2" y="1525.20" width="65.0" height="11.10" fill="#131313"/><rect x="452.2" y="1536.00" width="65.0" height="11.10" fill="#898989"/><rect x="452.2" y="1546.80" width="65.0" height="11.10" fill="#898989"/><rect x="452.2" y="1557.60" width="65.0" height="11.10" fill="#898989"/><rect x="452.2" y="1568.40" width="65.0" height="11.10" fill="#4e4e4e"/><rect x="517.2" y="1482.00" width="20.5" height="11.10" fill="#4e4e4e"/><rect x="517.2" y="1492.80" width="20.5" height="11.10" fill="#4e4e4e"/><rect x="517.2" y="1503.60" width="20.5" height="11.10" fill="#898989"/><rect x="517.2" y="1514.40" width="20.5" height="11.10" fill="#4e4e4e"/><rect x="517.2" y="1525.20" width="20.5" height="11.10" fill="#898989"/><rect x="517.2" y="1536.00" width="20.5" height="11.10" fill="#898989"/><rect x="517.2" y="1546.80" width="20.5" height="11.10" fill="#898989"/><rect x="517.2" y="1568.40" width="20.5" height="11.10" fill="#898989"/><rect x="537.7" y="1482.00" width="16.1" height="11.10" fill="#4e4e4e"/><rect x="537.7" y="1492.80" width="16.1" height="11.10" fill="#4e4e4e"/><rect x="537.7" y="1503.60" width="16.1" height="11.10" fill="#898989"/><rect x="537.7" y="1514.40" width="16.1" height="11.10" fill="#4e4e4e"/><rect x="537.7" y="1525.20" width="16.1" height="11.10" fill="#898989"/><rect x="537.7" y="1536.00" width="16.1" height="11.10" fill="#898989"/><rect x="537.7" y="1546.80" width="16.1" height="11.10" fill="#898989"/><rect x="537.7" y="1568.40" width="16.1" height="11.10" fill="#898989"/><rect x="553.8" y="1482.00" width="19.1" height="11.10" fill="#898989"/><rect x="553.8" y="1492.80" width="19.1" height="11.10" fill="#898989"/><rect x="553.8" y="1514.40" width="19.1" height="11.10" fill="#4e4e4e"/><rect x="553.8" y="1525.20" width="19.1" height="11.10" fill="#898989"/><rect x="553.8" y="1568.40" width="19.1" height="11.10" fill="#898989"/><rect x="572.9" y="1514.40" width="13.7" height="11.10" fill="#898989"/><rect x="586.6" y="1492.80" width="25.0" height="11.10" fill="#131313"/><rect x="586.6" y="1503.60" width="25.0" height="11.10" fill="#131313"/><rect x="586.6" y="1536.00" width="25.0" height="11.10" fill="#131313"/><rect x="586.6" y="1546.80" width="25.0" height="11.10" fill="#131313"/><rect x="586.6" y="1557.60" width="25.0" height="11.10" fill="#4e4e4e"/><rect x="586.6" y="1568.40" width="25.0" height="11.10" fill="#131313"/><rect x="586.6" y="1579.20" width="25.0" height="11.10" fill="#4e4e4e"/><rect x="611.6" y="1579.20" width="27.4" height="11.10" fill="#131313"/><rect x="665.2" y="1482.00" width="320.6" height="11.10" fill="#898989"/><rect x="665.2" y="1514.40" width="320.6" height="11.10" fill="#898989"/></g><g filter="url(#stD)"><rect x="216.8" y="826.00" width="52.5" height="12.80" fill="#505050"/><rect x="276.4" y="826.00" width="58.3" height="12.80" fill="#56461c"/><rect x="276.4" y="838.50" width="58.3" height="12.80" fill="#56461c"/><rect x="408.5" y="826.00" width="21.3" height="12.80" fill="#56461c"/><rect x="408.5" y="838.50" width="21.3" height="12.80" fill="#2d2d2d"/><rect x="452.2" y="826.00" width="65.0" height="12.80" fill="#2d2d2d"/><rect x="517.2" y="826.00" width="20.5" height="12.80" fill="#56461c"/><rect x="517.2" y="838.50" width="20.5" height="12.80" fill="#505050"/><rect x="553.8" y="826.00" width="19.1" height="12.80" fill="#56461c"/><rect x="553.8" y="838.50" width="19.1" height="12.80" fill="#56461c"/><rect x="572.9" y="826.00" width="13.7" height="12.80" fill="#2d2d2d"/><rect x="572.9" y="838.50" width="13.7" height="12.80" fill="#2d2d2d"/><rect x="586.6" y="826.00" width="25.0" height="12.80" fill="#505050"/><rect x="586.6" y="838.50" width="25.0" height="12.80" fill="#505050"/><rect x="611.6" y="826.00" width="27.4" height="12.80" fill="#56461c"/><rect x="611.6" y="838.50" width="27.4" height="12.80" fill="#56461c"/><rect x="165.0" y="1061.00" width="13.6" height="10.80" fill="#2d2d2d"/><rect x="165.0" y="1071.50" width="13.6" height="10.80" fill="#505050"/><rect x="165.0" y="1082.00" width="13.6" height="10.80" fill="#2d2d2d"/><rect x="165.0" y="1103.00" width="13.6" height="10.80" fill="#56461c"/><rect x="165.0" y="1113.50" width="13.6" height="10.80" fill="#56461c"/><rect x="165.0" y="1124.00" width="13.6" height="10.80" fill="#505050"/><rect x="178.6" y="1061.00" width="38.2" height="10.80" fill="#ecc82c"/><rect x="178.6" y="1071.50" width="38.2" height="10.80" fill="#b09228"/><rect x="178.6" y="1082.00" width="38.2" height="10.80" fill="#b09228"/><rect x="178.6" y="1092.50" width="38.2" height="10.80" fill="#ecc82c"/><rect x="178.6" y="1103.00" width="38.2" height="10.80" fill="#2d2d2d"/><rect x="178.6" y="1113.50" width="38.2" height="10.80" fill="#56461c"/><rect x="178.6" y="1124.00" width="38.2" height="10.80" fill="#2d2d2d"/><rect x="178.6" y="1134.50" width="38.2" height="10.80" fill="#2d2d2d"/><rect x="178.6" y="1145.00" width="38.2" height="10.80" fill="#2d2d2d"/><rect x="216.8" y="1061.00" width="52.5" height="10.80" fill="#56461c"/><rect x="216.8" y="1071.50" width="52.5" height="10.80" fill="#2d2d2d"/><rect x="216.8" y="1082.00" width="52.5" height="10.80" fill="#000000"/><rect x="216.8" y="1103.00" width="52.5" height="10.80" fill="#0a0a0a"/><rect x="216.8" y="1124.00" width="52.5" height="10.80" fill="#000000"/><rect x="216.8" y="1134.50" width="52.5" height="10.80" fill="#2d2d2d"/><rect x="216.8" y="1145.00" width="52.5" height="10.80" fill="#56461c"/><rect x="216.8" y="1155.50" width="52.5" height="10.80" fill="#2d2d2d"/><rect x="269.3" y="1061.00" width="7.1" height="10.80" fill="#505050"/><rect x="269.3" y="1082.00" width="7.1" height="10.80" fill="#505050"/><rect x="276.4" y="1061.00" width="58.3" height="10.80" fill="#ecc82c"/><rect x="276.4" y="1071.50" width="58.3" height="10.80" fill="#b09228"/><rect x="276.4" y="1082.00" width="58.3" height="10.80" fill="#56461c"/><rect x="276.4" y="1092.50" width="58.3" height="10.80" fill="#b09228"/><rect x="276.4" y="1103.00" width="58.3" height="10.80" fill="#56461c"/><rect x="276.4" y="1113.50" width="58.3" height="10.80" fill="#2d2d2d"/><rect x="276.4" y="1124.00" width="58.3" height="10.80" fill="#000000"/><rect x="276.4" y="1134.50" width="58.3" height="10.80" fill="#000000"/><rect x="276.4" y="1145.00" width="58.3" height="10.80" fill="#0a0a0a"/><rect x="276.4" y="1155.50" width="58.3" height="10.80" fill="#0a0a0a"/><rect x="334.7" y="1061.00" width="41.6" height="10.80" fill="#505050"/><rect x="334.7" y="1071.50" width="41.6" height="10.80" fill="#505050"/><rect x="334.7" y="1082.00" width="41.6" height="10.80" fill="#2d2d2d"/><rect x="408.5" y="1061.00" width="21.3" height="10.80" fill="#56461c"/><rect x="408.5" y="1071.50" width="21.3" height="10.80" fill="#56461c"/><rect x="408.5" y="1082.00" width="21.3" height="10.80" fill="#56461c"/><rect x="408.5" y="1092.50" width="21.3" height="10.80" fill="#56461c"/><rect x="408.5" y="1103.00" width="21.3" height="10.80" fill="#56461c"/><rect x="408.5" y="1113.50" width="21.3" height="10.80" fill="#2d2d2d"/><rect x="408.5" y="1124.00" width="21.3" height="10.80" fill="#0a0a0a"/><rect x="408.5" y="1134.50" width="21.3" height="10.80" fill="#2d2d2d"/><rect x="408.5" y="1145.00" width="21.3" height="10.80" fill="#505050"/><rect x="408.5" y="1155.50" width="21.3" height="10.80" fill="#505050"/><rect x="429.8" y="1082.00" width="22.4" height="10.80" fill="#505050"/><rect x="452.2" y="1061.00" width="65.0" height="10.80" fill="#2d2d2d"/><rect x="452.2" y="1071.50" width="65.0" height="10.80" fill="#0a0a0a"/><rect x="452.2" y="1082.00" width="65.0" height="10.80" fill="#2d2d2d"/><rect x="452.2" y="1103.00" width="65.0" height="10.80" fill="#2d2d2d"/><rect x="452.2" y="1124.00" width="65.0" height="10.80" fill="#505050"/><rect x="452.2" y="1134.50" width="65.0" height="10.80" fill="#505050"/><rect x="517.2" y="1061.00" width="20.5" height="10.80" fill="#2d2d2d"/><rect x="517.2" y="1071.50" width="20.5" height="10.80" fill="#2d2d2d"/><rect x="517.2" y="1082.00" width="20.5" height="10.80" fill="#505050"/><rect x="517.2" y="1103.00" width="20.5" height="10.80" fill="#505050"/><rect x="553.8" y="1061.00" width="19.1" height="10.80" fill="#56461c"/><rect x="553.8" y="1071.50" width="19.1" height="10.80" fill="#56461c"/><rect x="553.8" y="1082.00" width="19.1" height="10.80" fill="#2d2d2d"/><rect x="553.8" y="1092.50" width="19.1" height="10.80" fill="#56461c"/><rect x="553.8" y="1103.00" width="19.1" height="10.80" fill="#56461c"/><rect x="553.8" y="1113.50" width="19.1" height="10.80" fill="#56461c"/><rect x="553.8" y="1124.00" width="19.1" height="10.80" fill="#0a0a0a"/><rect x="553.8" y="1134.50" width="19.1" height="10.80" fill="#2d2d2d"/><rect x="553.8" y="1145.00" width="19.1" height="10.80" fill="#505050"/><rect x="553.8" y="1155.50" width="19.1" height="10.80" fill="#505050"/><rect x="572.9" y="1061.00" width="13.7" height="10.80" fill="#505050"/><rect x="572.9" y="1071.50" width="13.7" height="10.80" fill="#505050"/><rect x="572.9" y="1103.00" width="13.7" height="10.80" fill="#b09228"/><rect x="572.9" y="1113.50" width="13.7" height="10.80" fill="#505050"/><rect x="611.6" y="1103.00" width="27.4" height="10.80" fill="#505050"/><rect x="611.6" y="1113.50" width="27.4" height="10.80" fill="#505050"/><rect x="611.6" y="1134.50" width="27.4" height="10.80" fill="#505050"/><rect x="165.0" y="1187.00" width="13.6" height="10.80" fill="#505050"/><rect x="165.0" y="1208.00" width="13.6" height="10.80" fill="#505050"/><rect x="586.6" y="1166.00" width="25.0" height="10.80" fill="#505050"/><rect x="586.6" y="1176.50" width="25.0" height="10.80" fill="#2d2d2d"/><rect x="586.6" y="1187.00" width="25.0" height="10.80" fill="#0a0a0a"/><rect x="586.6" y="1197.50" width="25.0" height="10.80" fill="#505050"/><rect x="586.6" y="1208.00" width="25.0" height="10.80" fill="#2d2d2d"/><rect x="586.6" y="1218.50" width="25.0" height="10.80" fill="#2d2d2d"/><rect x="586.6" y="1229.00" width="25.0" height="10.80" fill="#505050"/><rect x="586.6" y="1239.50" width="25.0" height="10.80" fill="#0a0a0a"/><rect x="611.6" y="1166.00" width="27.4" height="10.80" fill="#56461c"/><rect x="611.6" y="1176.50" width="27.4" height="10.80" fill="#0a0a0a"/><rect x="611.6" y="1187.00" width="27.4" height="10.80" fill="#000000"/><rect x="611.6" y="1197.50" width="27.4" height="10.80" fill="#000000"/><rect x="611.6" y="1208.00" width="27.4" height="10.80" fill="#000000"/><rect x="611.6" y="1218.50" width="27.4" height="10.80" fill="#0a0a0a"/><rect x="611.6" y="1229.00" width="27.4" height="10.80" fill="#0a0a0a"/><rect x="611.6" y="1239.50" width="27.4" height="10.80" fill="#000000"/><rect x="165.0" y="1271.00" width="13.6" height="10.90" fill="#56461c"/><rect x="165.0" y="1281.60" width="13.6" height="10.90" fill="#0a0a0a"/><rect x="165.0" y="1292.20" width="13.6" height="10.90" fill="#505050"/><rect x="165.0" y="1302.80" width="13.6" height="10.90" fill="#56461c"/><rect x="165.0" y="1313.40" width="13.6" height="10.90" fill="#505050"/><rect x="165.0" y="1324.00" width="13.6" height="10.90" fill="#505050"/><rect x="165.0" y="1345.20" width="13.6" height="10.90" fill="#505050"/><rect x="165.0" y="1355.80" width="13.6" height="10.90" fill="#505050"/><rect x="165.0" y="1366.40" width="13.6" height="10.90" fill="#2d2d2d"/><rect x="517.2" y="1302.80" width="20.5" height="10.90" fill="#ffffff"/><rect x="537.7" y="1302.80" width="16.1" height="10.90" fill="#ffffff"/><rect x="178.6" y="1377.00" width="38.2" height="10.80" fill="#2d2d2d"/><rect x="178.6" y="1387.50" width="38.2" height="10.80" fill="#2d2d2d"/><rect x="178.6" y="1398.00" width="38.2" height="10.80" fill="#0a0a0a"/><rect x="178.6" y="1408.50" width="38.2" height="10.80" fill="#56461c"/><rect x="178.6" y="1419.00" width="38.2" height="10.80" fill="#ecc82c"/><rect x="178.6" y="1429.50" width="38.2" height="10.80" fill="#2d2d2d"/><rect x="178.6" y="1440.00" width="38.2" height="10.80" fill="#2d2d2d"/><rect x="178.6" y="1450.50" width="38.2" height="10.80" fill="#0a0a0a"/><rect x="178.6" y="1461.00" width="38.2" height="10.80" fill="#2d2d2d"/><rect x="269.3" y="1461.00" width="7.1" height="10.80" fill="#ffffff"/><rect x="269.3" y="1471.50" width="7.1" height="10.80" fill="#ffffff"/><rect x="276.4" y="1377.00" width="58.3" height="10.80" fill="#2d2d2d"/><rect x="276.4" y="1387.50" width="58.3" height="10.80" fill="#505050"/><rect x="276.4" y="1398.00" width="58.3" height="10.80" fill="#2d2d2d"/><rect x="276.4" y="1429.50" width="58.3" height="10.80" fill="#505050"/><rect x="276.4" y="1440.00" width="58.3" height="10.80" fill="#505050"/><rect x="376.3" y="1450.50" width="32.2" height="10.80" fill="#ffffff"/><rect x="376.3" y="1461.00" width="32.2" height="10.80" fill="#ffffff"/><rect x="376.3" y="1471.50" width="32.2" height="10.80" fill="#ffffff"/><rect x="408.5" y="1377.00" width="21.3" height="10.80" fill="#505050"/><rect x="429.8" y="1461.00" width="22.4" height="10.80" fill="#ffffff"/><rect x="429.8" y="1471.50" width="22.4" height="10.80" fill="#ffffff"/><rect x="452.2" y="1471.50" width="65.0" height="10.80" fill="#ffffff"/><rect x="553.8" y="1419.00" width="19.1" height="10.80" fill="#56461c"/><rect x="572.9" y="1471.50" width="13.7" height="10.80" fill="#ffffff"/><rect x="165.0" y="1525.20" width="13.6" height="11.10" fill="#56461c"/><rect x="376.3" y="1482.00" width="32.2" height="11.10" fill="#505050"/><rect x="376.3" y="1514.40" width="32.2" height="11.10" fill="#505050"/><rect x="408.5" y="1482.00" width="21.3" height="11.10" fill="#56461c"/><rect x="408.5" y="1492.80" width="21.3" height="11.10" fill="#000000"/><rect x="408.5" y="1503.60" width="21.3" height="11.10" fill="#0a0a0a"/><rect x="408.5" y="1514.40" width="21.3" height="11.10" fill="#000000"/><rect x="408.5" y="1525.20" width="21.3" height="11.10" fill="#2d2d2d"/><rect x="408.5" y="1536.00" width="21.3" height="11.10" fill="#2d2d2d"/><rect x="408.5" y="1546.80" width="21.3" height="11.10" fill="#505050"/><rect x="408.5" y="1557.60" width="21.3" height="11.10" fill="#000000"/><rect x="408.5" y="1568.40" width="21.3" height="11.10" fill="#2d2d2d"/><rect x="408.5" y="1579.20" width="21.3" height="11.10" fill="#505050"/><rect x="586.6" y="1482.00" width="25.0" height="11.10" fill="#505050"/><rect x="586.6" y="1514.40" width="25.0" height="11.10" fill="#505050"/><rect x="586.6" y="1525.20" width="25.0" height="11.10" fill="#2d2d2d"/><rect x="611.6" y="1482.00" width="27.4" height="11.10" fill="#56461c"/><rect x="611.6" y="1492.80" width="27.4" height="11.10" fill="#2d2d2d"/><rect x="611.6" y="1503.60" width="27.4" height="11.10" fill="#2d2d2d"/><rect x="611.6" y="1514.40" width="27.4" height="11.10" fill="#0a0a0a"/><rect x="611.6" y="1525.20" width="27.4" height="11.10" fill="#000000"/><rect x="611.6" y="1536.00" width="27.4" height="11.10" fill="#2d2d2d"/><rect x="611.6" y="1546.80" width="27.4" height="11.10" fill="#2d2d2d"/><rect x="611.6" y="1557.60" width="27.4" height="11.10" fill="#505050"/><rect x="611.6" y="1568.40" width="27.4" height="11.10" fill="#2d2d2d"/></g><path d="M178.6 826V1590M216.8 826V1590M376.3 826V1590M452.2 826V1590M517.2 826V1590M553.8 826V1590M572.9 826V1590M586.6 826V1590M639 826V1590M665.2 826V1590" stroke="#000" stroke-width="1.5" fill="none"/><path d="M36.9 851H985.8M36.9 955H985.8M36.9 1061H985.8M36.9 1166H985.8M36.9 1271H985.8M36.9 1377H985.8M36.9 1482H985.8" stroke="#000" stroke-width="1.6" fill="none"/><rect x="165" y="826.4" width="820.8" height="763.6" fill="none" stroke="#000" stroke-width="2"/><rect x="166.60" y="797.40" width="13.60" height="21.90" fill="#fbc52f" /><rect x="180.20" y="797.40" width="37.20" height="21.90" fill="#a0b088" /><rect x="217.40" y="797.40" width="159.40" height="21.90" fill="#821a0c" /><rect x="376.80" y="797.40" width="76.50" height="21.90" fill="#d96b2b" /><rect x="453.30" y="797.40" width="63.90" height="21.90" fill="#fbc8a8" /><rect x="517.20" y="797.40" width="36.60" height="21.90" fill="#c9505a" /><rect x="553.80" y="797.40" width="19.10" height="21.90" fill="#cc2030" /><rect x="572.90" y="797.40" width="14.20" height="21.90" fill="#dc909a" /><rect x="587.10" y="797.40" width="51.90" height="21.90" fill="#7a1a0e" /><rect x="639.00" y="797.40" width="25.00" height="21.90" fill="#f87c78" /><rect x="664.00" y="797.40" width="321.80" height="21.90" fill="#fbcab0" /><text x="196.5" y="817.0" font-size="24" font-weight="bold" fill="#000" text-anchor="middle" >8</text><text x="293.5" y="817.0" font-size="24" font-weight="bold" fill="#fff" text-anchor="middle" >1</text><text x="413.0" y="817.0" font-size="24" font-weight="bold" fill="#000" text-anchor="middle" >2</text><text x="481.0" y="817.0" font-size="24" font-weight="bold" fill="#000" text-anchor="middle" >3</text><text x="535.5" y="817.0" font-size="24" font-weight="bold" fill="#fff" text-anchor="middle" >9</text><text x="613.0" y="817.0" font-size="24" font-weight="bold" fill="#fff" text-anchor="middle" >5</text><text x="813.0" y="817.0" font-size="24" font-weight="bold" fill="#000" text-anchor="middle" >0</text><text x="169.8" y="794.5" font-size="24" font-weight="bold" fill="#000" text-anchor="middle" >19</text><text x="559.0" y="794.5" font-size="24" font-weight="bold" fill="#000" text-anchor="middle" >15</text><text x="577.5" y="775.6" font-size="24" font-weight="bold" fill="#000" text-anchor="middle" >18</text><text x="649.5" y="794.5" font-size="24" font-weight="bold" fill="#000" text-anchor="middle" >13</text><text x="184.0" y="759.5" font-size="28" font-weight="bold" fill="#e8a828" text-anchor="middle" >Stroma</text><text x="601.0" y="735.0" font-size="29" font-weight="bold" fill="#cc555a" text-anchor="middle" >Tumor</text><line x1="234.8" y1="741.0" x2="966.7" y2="741.0" stroke="#000" stroke-width="3" /><text x="155.0" y="845.3" font-size="26" font-weight="bold" fill="#000" text-anchor="end" >Reporter</text><text x="101.0" y="910.0" font-size="26" font-weight="bold" fill="#000" text-anchor="middle" >AC</text><text x="101.0" y="1015.5" font-size="26" font-weight="bold" fill="#000" text-anchor="middle" >MES</text><text x="101.0" y="1332.0" font-size="26" font-weight="bold" fill="#000" text-anchor="middle" >OPC</text><text x="101.0" y="1437.5" font-size="26" font-weight="bold" fill="#000" text-anchor="middle" >MOL</text><text x="101.0" y="1102.4" font-size="26" font-weight="bold" fill="#000" text-anchor="middle" >OL-</text><text x="101.0" y="1133.0" font-size="26" font-weight="bold" fill="#000" text-anchor="middle" >like</text><text x="101.0" y="1212.0" font-size="26" font-weight="bold" fill="#000" text-anchor="middle" >NB-</text><text x="101.0" y="1243.6" font-size="26" font-weight="bold" fill="#000" text-anchor="middle" >like</text><text x="101.0" y="1529.3" font-size="26" font-weight="bold" fill="#000" text-anchor="middle" >Cell</text><text x="101.0" y="1561.0" font-size="26" font-weight="bold" fill="#000" text-anchor="middle" >cycle</text><defs><linearGradient id="cbd" x1="0" y1="0" x2="0" y2="1"><stop offset="0" stop-color="#f8ec70"/><stop offset="0.2" stop-color="#fde230"/><stop offset="0.38" stop-color="#a88a30"/><stop offset="0.5" stop-color="#141414"/><stop offset="0.62" stop-color="#2a2a2a"/><stop offset="0.8" stop-color="#777"/><stop offset="1" stop-color="#f0f0f0"/></linearGradient></defs><rect x="995.00" y="1232.00" width="9.00" height="48.30" fill="url(#cbd)" /><text x="1007.8" y="1244.5" font-size="20.5" font-weight="normal" fill="#000" text-anchor="start" >5</text><text x="1007.8" y="1287.7" font-size="20.5" font-weight="normal" fill="#000" text-anchor="start" >0</text><defs><filter id="fF0" filterUnits="userSpaceOnUse" x="-200" y="-200" width="1200" height="1200" color-interpolation-filters="sRGB"><feTurbulence type="fractalNoise" baseFrequency="0.26" numOctaves="2" seed="20" result="n"/><feColorMatrix in="n" type="matrix" values="0 0 0 0 0 0 0 0 0 0 0 0 0 0 0 12 0 0 0 -4.08" result="a"/><feComposite in="SourceGraphic" in2="a" operator="in"/></filter><filter id="fF1" filterUnits="userSpaceOnUse" x="-200" y="-200" width="1200" height="1200" color-interpolation-filters="sRGB"><feTurbulence type="fractalNoise" baseFrequency="0.26" numOctaves="2" seed="21" result="n"/><feColorMatrix in="n" type="matrix" values="0 0 0 0 0 0 0 0 0 0 0 0 0 0 0 12 0 0 0 -5.28" result="a"/><feComposite in="SourceGraphic" in2="a" operator="in"/></filter><filter id="fF2" filterUnits="userSpaceOnUse" x="-200" y="-200" width="1200" height="1200" color-interpolation-filters="sRGB"><feTurbulence type="fractalNoise" baseFrequency="0.26" numOctaves="2" seed="22" result="n"/><feColorMatrix in="n" type="matrix" values="0 0 0 0 0 0 0 0 0 0 0 0 0 0 0 12 0 0 0 -6.18" result="a"/><feComposite in="SourceGraphic" in2="a" operator="in"/></filter><filter id="fF3" filterUnits="userSpaceOnUse" x="-200" y="-200" width="1200" height="1200" color-interpolation-filters="sRGB"><feTurbulence type="fractalNoise" baseFrequency="0.26" numOctaves="2" seed="23" result="n"/><feColorMatrix in="n" type="matrix" values="0 0 0 0 0 0 0 0 0 0 0 0 0 0 0 12 0 0 0 -7.20" result="a"/><feComposite in="SourceGraphic" in2="a" operator="in"/></filter><filter id="fF4" filterUnits="userSpaceOnUse" x="-200" y="-200" width="1200" height="1200" color-interpolation-filters="sRGB"><feTurbulence type="fractalNoise" baseFrequency="0.26" numOctaves="2" seed="24" result="n"/><feColorMatrix in="n" type="matrix" values="0 0 0 0 0 0 0 0 0 0 0 0 0 0 0 12 0 0 0 -7.98" result="a"/><feComposite in="SourceGraphic" in2="a" operator="in"/></filter><filter id="fF5" filterUnits="userSpaceOnUse" x="-200" y="-200" width="1200" height="1200" color-interpolation-filters="sRGB"><feTurbulence type="fractalNoise" baseFrequency="0.26" numOctaves="2" seed="25" result="n"/><feColorMatrix in="n" type="matrix" values="0 0 0 0 0 0 0 0 0 0 0 0 0 0 0 12 0 0 0 -8.64" result="a"/><feComposite in="SourceGraphic" in2="a" operator="in"/></filter><clipPath id="fc0"><rect x="136.8" y="1716.2" width="242.59999999999997" height="215.79999999999995"/></clipPath><clipPath id="fc1"><rect x="381.4" y="1716.2" width="242.70000000000005" height="215.79999999999995"/></clipPath><clipPath id="fc2"><rect x="626.1" y="1716.2" width="242.0" height="215.79999999999995"/></clipPath><clipPath id="fc3"><rect x="870.1" y="1716.2" width="243.30000000000007" height="215.79999999999995"/></clipPath><clipPath id="ft0"><rect x="136.8" y="1956" width="242.59999999999997" height="215"/></clipPath><clipPath id="ft1"><rect x="381.4" y="1956" width="242.70000000000005" height="215"/></clipPath><clipPath id="ft2"><rect x="626.1" y="1956" width="242.0" height="215"/></clipPath><clipPath id="ft3"><rect x="870.1" y="1956" width="243.30000000000007" height="215"/></clipPath></defs><g clip-path="url(#fc0)"><g transform="matrix(0.4202 0 0 0.4033 105.2 1698.8)" fill="#3e6e71"><g filter="url(#fF4)"><use href="#u12s"/><use href="#u10s"/><use href="#u17s"/><use href="#u21s"/><use href="#u19s"/><use href="#u22s"/><use href="#u3s"/></g><g filter="url(#fF3)"><use href="#u8s"/><use href="#u12d"/><use href="#u12m"/><use href="#u10d"/><use href="#u11s"/><use href="#u17m"/><use href="#u17n"/><use href="#u14s"/><use href="#u21d"/><use href="#u19d"/><use href="#u22d"/><use href="#u3d"/></g><g filter="url(#fF2)"><use href="#u6s"/><use href="#u16s"/><use href="#u7s"/><use href="#u8d"/><use href="#u11d"/><use href="#u14d"/><use href="#u14m"/><use href="#u20s"/></g><g filter="url(#fF1)"><use href="#u6d"/><use href="#u16n"/><use href="#u7d"/><use href="#u7m"/><use href="#u20d"/></g></g></g><g clip-path="url(#ft0)"><g transform="matrix(0.428 0 0 0.4253 103.4 1947.7)" fill="#b3231c"><g filter="url(#fF5)"><use href="#u0d"/><use href="#u5s"/></g><g filter="url(#fF4)"><use href="#u2s"/><use href="#u13s"/><use href="#u9s"/><use href="#u5d"/><use href="#u15s"/><use href="#u18s"/></g><g filter="url(#fF3)"><use href="#u1s"/><use href="#u2d"/><use href="#u13d"/><use href="#u9d"/><use href="#u15m"/><use href="#u18d"/></g><g filter="url(#fF2)"><use href="#u1d"/><use href="#u1m"/><use href="#u3s"/><use href="#u4s"/></g><g filter="url(#fF1)"><use href="#u3d"/><use href="#u4d"/><use href="#u4m"/></g></g></g><g clip-path="url(#fc1)"><g transform="matrix(0.4202 0 0 0.4033 349.8 1698.8)" fill="#3e6e71"><g filter="url(#fF5)"><use href="#u22s"/><use href="#u3s"/></g><g filter="url(#fF4)"><use href="#u17s"/><use href="#u16s"/><use href="#u22d"/><use href="#u3d"/></g><g filter="url(#fF3)"><use href="#u11s"/><use href="#u14s"/><use href="#u17m"/><use href="#u17n"/><use href="#u21s"/><use href="#u6s"/><use href="#u16n"/><use href="#u7s"/><use href="#u8s"/></g><g filter="url(#fF2)"><use href="#u12s"/><use href="#u10s"/><use href="#u11d"/><use href="#u14d"/><use href="#u14m"/><use href="#u21d"/><use href="#u6d"/><use href="#u7d"/><use href="#u7m"/><use href="#u8d"/><use href="#u20s"/><use href="#u19s"/></g><g filter="url(#fF1)"><use href="#u12d"/><use href="#u12m"/><use href="#u10d"/><use href="#u20d"/><use href="#u19d"/></g></g></g><g clip-path="url(#ft1)"><g transform="matrix(0.428 0 0 0.4253 348.0 1947.7)" fill="#b3231c"><g filter="url(#fF5)"><use href="#u0s"/></g><g filter="url(#fF4)"><use href="#u13s"/><use href="#u0d"/></g><g filter="url(#fF3)"><use href="#u5v"/><use href="#u2s"/><use href="#u3s"/><use href="#u9s"/><use href="#u13d"/><use href="#u15s"/></g><g filter="url(#fF2)"><use href="#u5s"/><use href="#u1s"/><use href="#u2d"/><use href="#u4s"/><use href="#u3d"/><use href="#u9d"/><use href="#u18s"/><use href="#u15m"/></g><g filter="url(#fF1)"><use href="#u5d"/><use href="#u1d"/><use href="#u1m"/><use href="#u4d"/><use href="#u4m"/><use href="#u18d"/></g></g></g><g clip-path="url(#fc2)"><g transform="matrix(0.4202 0 0 0.4033 594.5 1698.8)" fill="#3e6e71"><g filter="url(#fF5)"><use href="#u17s"/><use href="#u16s"/><use href="#u5s"/></g><g filter="url(#fF4)"><use href="#u12s"/><use href="#u10s"/><use href="#u11s"/><use href="#u17m"/><use href="#u17n"/><use href="#u21s"/><use href="#u6s"/><use href="#u16n"/><use href="#u7s"/><use href="#u20s"/><use href="#u22s"/><use href="#u5d"/><use href="#u3s"/></g><g filter="url(#fF3)"><use href="#u12d"/><use href="#u12m"/><use href="#u10d"/><use href="#u11d"/><use href="#u21d"/><use href="#u6d"/><use href="#u7d"/><use href="#u7m"/><use href="#u8s"/><use href="#u20d"/><use href="#u22d"/><use href="#u3d"/></g><g filter="url(#fF2)"><use href="#u14s"/><use href="#u8d"/><use href="#u19s"/></g><g filter="url(#fF1)"><use href="#u14d"/><use href="#u14m"/><use href="#u19d"/></g></g></g><g clip-path="url(#ft2)"><g transform="matrix(0.428 0 0 0.4253 592.7 1947.7)" fill="#b3231c"><g filter="url(#fF5)"><use href="#u0d"/></g><g filter="url(#fF4)"><use href="#u5v"/><use href="#u2s"/><use href="#u13s"/></g><g filter="url(#fF3)"><use href="#u5s"/><use href="#u1s"/><use href="#u4s"/><use href="#u2d"/><use href="#u18s"/><use href="#u15s"/><use href="#u13d"/></g><g filter="url(#fF2)"><use href="#u5d"/><use href="#u9s"/><use href="#u1d"/><use href="#u1m"/><use href="#u4d"/><use href="#u4m"/><use href="#u18d"/><use href="#u15m"/></g><g filter="url(#fF1)"><use href="#u9d"/><use href="#u3s"/></g><g filter="url(#fF0)"><use href="#u3d"/></g></g></g><g clip-path="url(#fc3)"><g transform="matrix(0.4202 0 0 0.4033 838.5 1698.8)" fill="#3e6e71"><g filter="url(#fF5)"><use href="#u11s"/><use href="#u14s"/><use href="#u17s"/><use href="#u21s"/><use href="#u16s"/><use href="#u7s"/><use href="#u20s"/><use href="#u22s"/></g><g filter="url(#fF4)"><use href="#u12s"/><use href="#u10s"/><use href="#u11d"/><use href="#u14d"/><use href="#u14m"/><use href="#u17m"/><use href="#u17n"/><use href="#u21d"/><use href="#u6s"/><use href="#u16n"/><use href="#u7d"/><use href="#u7m"/><use href="#u8s"/><use href="#u20d"/><use href="#u22d"/></g><g filter="url(#fF3)"><use href="#u12d"/><use href="#u12m"/><use href="#u10d"/><use href="#u6d"/><use href="#u8d"/><use href="#u19s"/></g><g filter="url(#fF2)"><use href="#u19d"/></g></g></g><g clip-path="url(#ft3)"><g transform="matrix(0.428 0 0 0.4253 836.7 1947.7)" fill="#b3231c"><g filter="url(#fF5)"><use href="#u5v"/></g><g filter="url(#fF4)"><use href="#u4s"/><use href="#u5s"/><use href="#u1s"/><use href="#u3s"/><use href="#u15s"/></g><g filter="url(#fF3)"><use href="#u9s"/><use href="#u2s"/><use href="#u4d"/><use href="#u4m"/><use href="#u5d"/><use href="#u1d"/><use href="#u1m"/><use href="#u13s"/><use href="#u3d"/><use href="#u15m"/><use href="#u18s"/></g><g filter="url(#fF2)"><use href="#u0s"/><use href="#u9d"/><use href="#u2d"/><use href="#u13d"/><use href="#u18d"/></g><g filter="url(#fF1)"><use href="#u0d"/></g></g></g></svg></body></html>
